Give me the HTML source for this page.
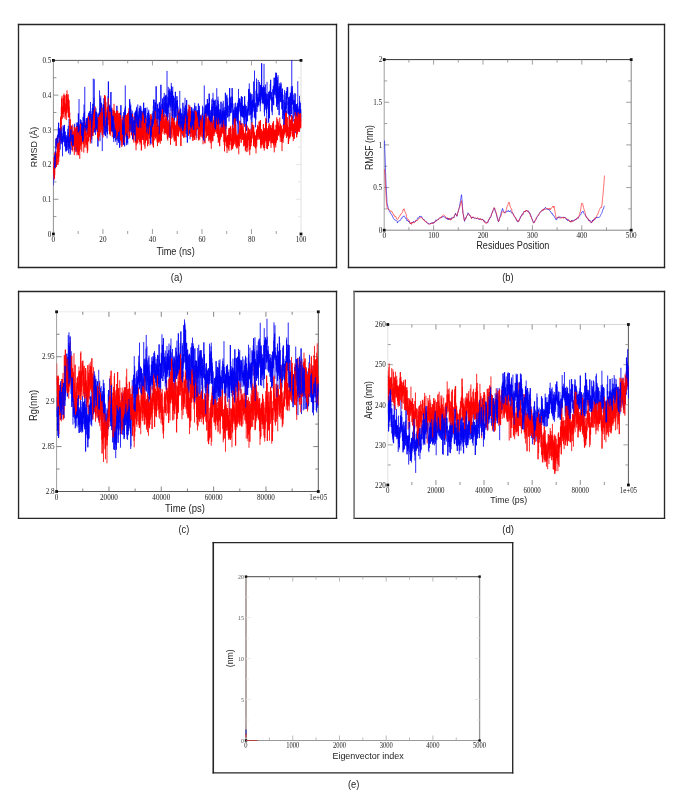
<!DOCTYPE html>
<html><head><meta charset="utf-8"><style>
html,body{margin:0;padding:0;background:#fff;}
svg{display:block;}
text{-webkit-font-smoothing:antialiased;}
</style></head><body>
<svg width="685" height="805" viewBox="0 0 685 805">
<rect width="685" height="805" fill="#fff"/>
<line x1="17.825" y1="24.5" x2="337.175" y2="24.5" stroke="#262626" stroke-width="1.35"/>
<line x1="17.825" y1="267.5" x2="337.175" y2="267.5" stroke="#262626" stroke-width="1.35"/>
<line x1="18.5" y1="23.825" x2="18.5" y2="268.175" stroke="#262626" stroke-width="1.35"/>
<line x1="336.5" y1="23.825" x2="336.5" y2="268.175" stroke="#262626" stroke-width="1.35"/>
<line x1="53.4" y1="60.4" x2="301.0" y2="60.4" stroke="#444" stroke-width="0.9"/>
<line x1="53.4" y1="60.4" x2="53.4" y2="234.0" stroke="#777" stroke-width="0.8"/>
<line x1="301.0" y1="60.4" x2="301.0" y2="234.0" stroke="#ccc" stroke-width="0.6"/>
<line x1="53.4" y1="216.64" x2="56.4" y2="216.64" stroke="#777" stroke-width="0.8"/>
<line x1="53.4" y1="199.28" x2="58.4" y2="199.28" stroke="#777" stroke-width="0.8"/>
<line x1="53.4" y1="181.92" x2="56.4" y2="181.92" stroke="#777" stroke-width="0.8"/>
<line x1="53.4" y1="164.56" x2="58.4" y2="164.56" stroke="#777" stroke-width="0.8"/>
<line x1="53.4" y1="147.2" x2="56.4" y2="147.2" stroke="#777" stroke-width="0.8"/>
<line x1="53.4" y1="129.84" x2="58.4" y2="129.84" stroke="#777" stroke-width="0.8"/>
<line x1="53.4" y1="112.47999999999999" x2="56.4" y2="112.47999999999999" stroke="#777" stroke-width="0.8"/>
<line x1="53.4" y1="95.12" x2="58.4" y2="95.12" stroke="#777" stroke-width="0.8"/>
<line x1="53.4" y1="77.75999999999999" x2="56.4" y2="77.75999999999999" stroke="#777" stroke-width="0.8"/>
<line x1="301.0" y1="216.64" x2="298.0" y2="216.64" stroke="#e0e0e0" stroke-width="0.8"/>
<line x1="301.0" y1="199.28" x2="296.0" y2="199.28" stroke="#e0e0e0" stroke-width="0.8"/>
<line x1="301.0" y1="181.92" x2="298.0" y2="181.92" stroke="#e0e0e0" stroke-width="0.8"/>
<line x1="301.0" y1="164.56" x2="296.0" y2="164.56" stroke="#e0e0e0" stroke-width="0.8"/>
<line x1="301.0" y1="147.2" x2="298.0" y2="147.2" stroke="#e0e0e0" stroke-width="0.8"/>
<line x1="301.0" y1="129.84" x2="296.0" y2="129.84" stroke="#e0e0e0" stroke-width="0.8"/>
<line x1="301.0" y1="112.47999999999999" x2="298.0" y2="112.47999999999999" stroke="#e0e0e0" stroke-width="0.8"/>
<line x1="301.0" y1="95.12" x2="296.0" y2="95.12" stroke="#e0e0e0" stroke-width="0.8"/>
<line x1="301.0" y1="77.75999999999999" x2="298.0" y2="77.75999999999999" stroke="#e0e0e0" stroke-width="0.8"/>
<line x1="78.16" y1="234.0" x2="78.16" y2="231.0" stroke="#888" stroke-width="0.8"/>
<line x1="78.16" y1="60.4" x2="78.16" y2="63.4" stroke="#888" stroke-width="0.8"/>
<line x1="102.92" y1="234.0" x2="102.92" y2="229.0" stroke="#888" stroke-width="0.8"/>
<line x1="102.92" y1="60.4" x2="102.92" y2="65.4" stroke="#888" stroke-width="0.8"/>
<line x1="127.68" y1="234.0" x2="127.68" y2="231.0" stroke="#888" stroke-width="0.8"/>
<line x1="127.68" y1="60.4" x2="127.68" y2="63.4" stroke="#888" stroke-width="0.8"/>
<line x1="152.44" y1="234.0" x2="152.44" y2="229.0" stroke="#888" stroke-width="0.8"/>
<line x1="152.44" y1="60.4" x2="152.44" y2="65.4" stroke="#888" stroke-width="0.8"/>
<line x1="177.2" y1="234.0" x2="177.2" y2="231.0" stroke="#888" stroke-width="0.8"/>
<line x1="177.2" y1="60.4" x2="177.2" y2="63.4" stroke="#888" stroke-width="0.8"/>
<line x1="201.96" y1="234.0" x2="201.96" y2="229.0" stroke="#888" stroke-width="0.8"/>
<line x1="201.96" y1="60.4" x2="201.96" y2="65.4" stroke="#888" stroke-width="0.8"/>
<line x1="226.72" y1="234.0" x2="226.72" y2="231.0" stroke="#888" stroke-width="0.8"/>
<line x1="226.72" y1="60.4" x2="226.72" y2="63.4" stroke="#888" stroke-width="0.8"/>
<line x1="251.48000000000002" y1="234.0" x2="251.48000000000002" y2="229.0" stroke="#888" stroke-width="0.8"/>
<line x1="251.48000000000002" y1="60.4" x2="251.48000000000002" y2="65.4" stroke="#888" stroke-width="0.8"/>
<line x1="276.24" y1="234.0" x2="276.24" y2="231.0" stroke="#888" stroke-width="0.8"/>
<line x1="276.24" y1="60.4" x2="276.24" y2="63.4" stroke="#888" stroke-width="0.8"/>
<rect x="52.00" y="59.00" width="2.8" height="2.8" fill="#111"/>
<rect x="299.60" y="59.00" width="2.8" height="2.8" fill="#111"/>
<rect x="52.00" y="232.60" width="2.8" height="2.8" fill="#111"/>
<rect x="299.60" y="232.60" width="2.8" height="2.8" fill="#111"/>
<line x1="347.825" y1="24.5" x2="665.175" y2="24.5" stroke="#262626" stroke-width="1.35"/>
<line x1="347.825" y1="267.5" x2="665.175" y2="267.5" stroke="#262626" stroke-width="1.35"/>
<line x1="348.5" y1="23.825" x2="348.5" y2="268.175" stroke="#262626" stroke-width="1.35"/>
<line x1="664.5" y1="23.825" x2="664.5" y2="268.175" stroke="#262626" stroke-width="1.35"/>
<line x1="384.2" y1="59.6" x2="631.2" y2="59.6" stroke="#333" stroke-width="1.0"/>
<line x1="384.2" y1="59.6" x2="384.2" y2="230.2" stroke="#888" stroke-width="0.8"/>
<line x1="631.2" y1="59.6" x2="631.2" y2="230.2" stroke="#666" stroke-width="0.8"/>
<line x1="384.2" y1="230.2" x2="631.2" y2="230.2" stroke="#666" stroke-width="0.8"/>
<line x1="384.2" y1="208.875" x2="387.2" y2="208.875" stroke="#888" stroke-width="0.8"/>
<line x1="631.2" y1="208.875" x2="628.2" y2="208.875" stroke="#888" stroke-width="0.8"/>
<line x1="384.2" y1="187.54999999999998" x2="389.2" y2="187.54999999999998" stroke="#888" stroke-width="0.8"/>
<line x1="631.2" y1="187.54999999999998" x2="626.2" y2="187.54999999999998" stroke="#888" stroke-width="0.8"/>
<line x1="384.2" y1="166.225" x2="387.2" y2="166.225" stroke="#888" stroke-width="0.8"/>
<line x1="631.2" y1="166.225" x2="628.2" y2="166.225" stroke="#888" stroke-width="0.8"/>
<line x1="384.2" y1="144.89999999999998" x2="389.2" y2="144.89999999999998" stroke="#888" stroke-width="0.8"/>
<line x1="631.2" y1="144.89999999999998" x2="626.2" y2="144.89999999999998" stroke="#888" stroke-width="0.8"/>
<line x1="384.2" y1="123.57499999999999" x2="387.2" y2="123.57499999999999" stroke="#888" stroke-width="0.8"/>
<line x1="631.2" y1="123.57499999999999" x2="628.2" y2="123.57499999999999" stroke="#888" stroke-width="0.8"/>
<line x1="384.2" y1="102.25" x2="389.2" y2="102.25" stroke="#888" stroke-width="0.8"/>
<line x1="631.2" y1="102.25" x2="626.2" y2="102.25" stroke="#888" stroke-width="0.8"/>
<line x1="384.2" y1="80.92499999999998" x2="387.2" y2="80.92499999999998" stroke="#888" stroke-width="0.8"/>
<line x1="631.2" y1="80.92499999999998" x2="628.2" y2="80.92499999999998" stroke="#888" stroke-width="0.8"/>
<line x1="408.9" y1="230.2" x2="408.9" y2="227.2" stroke="#888" stroke-width="0.8"/>
<line x1="408.9" y1="59.6" x2="408.9" y2="62.6" stroke="#888" stroke-width="0.8"/>
<line x1="433.6" y1="230.2" x2="433.6" y2="225.2" stroke="#888" stroke-width="0.8"/>
<line x1="433.6" y1="59.6" x2="433.6" y2="64.6" stroke="#888" stroke-width="0.8"/>
<line x1="458.3" y1="230.2" x2="458.3" y2="227.2" stroke="#888" stroke-width="0.8"/>
<line x1="458.3" y1="59.6" x2="458.3" y2="62.6" stroke="#888" stroke-width="0.8"/>
<line x1="483.0" y1="230.2" x2="483.0" y2="225.2" stroke="#888" stroke-width="0.8"/>
<line x1="483.0" y1="59.6" x2="483.0" y2="64.6" stroke="#888" stroke-width="0.8"/>
<line x1="507.70000000000005" y1="230.2" x2="507.70000000000005" y2="227.2" stroke="#888" stroke-width="0.8"/>
<line x1="507.70000000000005" y1="59.6" x2="507.70000000000005" y2="62.6" stroke="#888" stroke-width="0.8"/>
<line x1="532.4" y1="230.2" x2="532.4" y2="225.2" stroke="#888" stroke-width="0.8"/>
<line x1="532.4" y1="59.6" x2="532.4" y2="64.6" stroke="#888" stroke-width="0.8"/>
<line x1="557.1" y1="230.2" x2="557.1" y2="227.2" stroke="#888" stroke-width="0.8"/>
<line x1="557.1" y1="59.6" x2="557.1" y2="62.6" stroke="#888" stroke-width="0.8"/>
<line x1="581.8000000000001" y1="230.2" x2="581.8000000000001" y2="225.2" stroke="#888" stroke-width="0.8"/>
<line x1="581.8000000000001" y1="59.6" x2="581.8000000000001" y2="64.6" stroke="#888" stroke-width="0.8"/>
<line x1="606.5" y1="230.2" x2="606.5" y2="227.2" stroke="#888" stroke-width="0.8"/>
<line x1="606.5" y1="59.6" x2="606.5" y2="62.6" stroke="#888" stroke-width="0.8"/>
<rect x="382.80" y="58.20" width="2.8" height="2.8" fill="#111"/>
<rect x="629.80" y="58.20" width="2.8" height="2.8" fill="#111"/>
<rect x="382.80" y="228.80" width="2.8" height="2.8" fill="#111"/>
<rect x="629.80" y="228.80" width="2.8" height="2.8" fill="#111"/>
<line x1="17.875" y1="291.45" x2="337.175" y2="291.45" stroke="#262626" stroke-width="1.35"/>
<line x1="17.875" y1="518.3" x2="337.175" y2="518.3" stroke="#262626" stroke-width="1.35"/>
<line x1="18.55" y1="290.775" x2="18.55" y2="518.9749999999999" stroke="#262626" stroke-width="1.35"/>
<line x1="336.5" y1="290.775" x2="336.5" y2="518.9749999999999" stroke="#262626" stroke-width="1.35"/>
<line x1="56.6" y1="311.8" x2="318.3" y2="311.8" stroke="#ddd" stroke-width="0.6"/>
<line x1="56.6" y1="311.8" x2="56.6" y2="491.5" stroke="#888" stroke-width="0.8"/>
<line x1="318.3" y1="311.8" x2="318.3" y2="491.5" stroke="#444" stroke-width="0.9"/>
<line x1="56.6" y1="491.5" x2="318.3" y2="491.5" stroke="#444" stroke-width="0.9"/>
<line x1="56.6" y1="469.0374999999997" x2="59.6" y2="469.0374999999997" stroke="#666" stroke-width="0.8"/>
<line x1="318.3" y1="469.0374999999997" x2="315.3" y2="469.0374999999997" stroke="#666" stroke-width="0.8"/>
<line x1="56.6" y1="446.57499999999976" x2="61.6" y2="446.57499999999976" stroke="#666" stroke-width="0.8"/>
<line x1="318.3" y1="446.57499999999976" x2="313.3" y2="446.57499999999976" stroke="#666" stroke-width="0.8"/>
<line x1="56.6" y1="424.11249999999984" x2="59.6" y2="424.11249999999984" stroke="#666" stroke-width="0.8"/>
<line x1="318.3" y1="424.11249999999984" x2="315.3" y2="424.11249999999984" stroke="#666" stroke-width="0.8"/>
<line x1="56.6" y1="401.6499999999999" x2="61.6" y2="401.6499999999999" stroke="#666" stroke-width="0.8"/>
<line x1="318.3" y1="401.6499999999999" x2="313.3" y2="401.6499999999999" stroke="#666" stroke-width="0.8"/>
<line x1="56.6" y1="379.1875" x2="59.6" y2="379.1875" stroke="#666" stroke-width="0.8"/>
<line x1="318.3" y1="379.1875" x2="315.3" y2="379.1875" stroke="#666" stroke-width="0.8"/>
<line x1="56.6" y1="356.7250000000001" x2="61.6" y2="356.7250000000001" stroke="#666" stroke-width="0.8"/>
<line x1="318.3" y1="356.7250000000001" x2="313.3" y2="356.7250000000001" stroke="#666" stroke-width="0.8"/>
<line x1="56.6" y1="334.26250000000016" x2="59.6" y2="334.26250000000016" stroke="#666" stroke-width="0.8"/>
<line x1="318.3" y1="334.26250000000016" x2="315.3" y2="334.26250000000016" stroke="#666" stroke-width="0.8"/>
<line x1="82.77000000000001" y1="491.5" x2="82.77000000000001" y2="488.5" stroke="#666" stroke-width="0.8"/>
<line x1="82.77000000000001" y1="311.8" x2="82.77000000000001" y2="314.8" stroke="#666" stroke-width="0.8"/>
<line x1="108.94" y1="491.5" x2="108.94" y2="486.5" stroke="#666" stroke-width="0.8"/>
<line x1="108.94" y1="311.8" x2="108.94" y2="316.8" stroke="#666" stroke-width="0.8"/>
<line x1="135.10999999999999" y1="491.5" x2="135.10999999999999" y2="488.5" stroke="#666" stroke-width="0.8"/>
<line x1="135.10999999999999" y1="311.8" x2="135.10999999999999" y2="314.8" stroke="#666" stroke-width="0.8"/>
<line x1="161.28" y1="491.5" x2="161.28" y2="486.5" stroke="#666" stroke-width="0.8"/>
<line x1="161.28" y1="311.8" x2="161.28" y2="316.8" stroke="#666" stroke-width="0.8"/>
<line x1="187.45" y1="491.5" x2="187.45" y2="488.5" stroke="#666" stroke-width="0.8"/>
<line x1="187.45" y1="311.8" x2="187.45" y2="314.8" stroke="#666" stroke-width="0.8"/>
<line x1="213.61999999999998" y1="491.5" x2="213.61999999999998" y2="486.5" stroke="#666" stroke-width="0.8"/>
<line x1="213.61999999999998" y1="311.8" x2="213.61999999999998" y2="316.8" stroke="#666" stroke-width="0.8"/>
<line x1="239.78999999999996" y1="491.5" x2="239.78999999999996" y2="488.5" stroke="#666" stroke-width="0.8"/>
<line x1="239.78999999999996" y1="311.8" x2="239.78999999999996" y2="314.8" stroke="#666" stroke-width="0.8"/>
<line x1="265.96000000000004" y1="491.5" x2="265.96000000000004" y2="486.5" stroke="#666" stroke-width="0.8"/>
<line x1="265.96000000000004" y1="311.8" x2="265.96000000000004" y2="316.8" stroke="#666" stroke-width="0.8"/>
<line x1="292.13" y1="491.5" x2="292.13" y2="488.5" stroke="#666" stroke-width="0.8"/>
<line x1="292.13" y1="311.8" x2="292.13" y2="314.8" stroke="#666" stroke-width="0.8"/>
<rect x="55.20" y="310.40" width="2.8" height="2.8" fill="#111"/>
<rect x="316.90" y="310.40" width="2.8" height="2.8" fill="#111"/>
<rect x="55.20" y="490.10" width="2.8" height="2.8" fill="#111"/>
<rect x="316.90" y="490.10" width="2.8" height="2.8" fill="#111"/>
<line x1="353.425" y1="291.5" x2="665.175" y2="291.5" stroke="#262626" stroke-width="1.35"/>
<line x1="353.425" y1="518.3" x2="665.175" y2="518.3" stroke="#262626" stroke-width="1.35"/>
<line x1="354.1" y1="290.825" x2="354.1" y2="518.9749999999999" stroke="#6a6a6a" stroke-width="1.5"/>
<line x1="664.5" y1="290.825" x2="664.5" y2="518.9749999999999" stroke="#262626" stroke-width="1.35"/>
<line x1="387.8" y1="324.5" x2="628.4" y2="324.5" stroke="#bbb" stroke-width="0.6"/>
<line x1="387.8" y1="324.5" x2="387.8" y2="485.0" stroke="#ccc" stroke-width="0.6"/>
<line x1="628.4" y1="324.5" x2="628.4" y2="485.0" stroke="#444" stroke-width="0.9"/>
<line x1="387.8" y1="464.9375" x2="390.8" y2="464.9375" stroke="#888" stroke-width="0.8"/>
<line x1="628.4" y1="464.9375" x2="625.4" y2="464.9375" stroke="#888" stroke-width="0.8"/>
<line x1="387.8" y1="444.875" x2="392.8" y2="444.875" stroke="#888" stroke-width="0.8"/>
<line x1="628.4" y1="444.875" x2="623.4" y2="444.875" stroke="#888" stroke-width="0.8"/>
<line x1="387.8" y1="424.8125" x2="390.8" y2="424.8125" stroke="#888" stroke-width="0.8"/>
<line x1="628.4" y1="424.8125" x2="625.4" y2="424.8125" stroke="#888" stroke-width="0.8"/>
<line x1="387.8" y1="404.75" x2="392.8" y2="404.75" stroke="#888" stroke-width="0.8"/>
<line x1="628.4" y1="404.75" x2="623.4" y2="404.75" stroke="#888" stroke-width="0.8"/>
<line x1="387.8" y1="384.6875" x2="390.8" y2="384.6875" stroke="#888" stroke-width="0.8"/>
<line x1="628.4" y1="384.6875" x2="625.4" y2="384.6875" stroke="#888" stroke-width="0.8"/>
<line x1="387.8" y1="364.625" x2="392.8" y2="364.625" stroke="#888" stroke-width="0.8"/>
<line x1="628.4" y1="364.625" x2="623.4" y2="364.625" stroke="#888" stroke-width="0.8"/>
<line x1="387.8" y1="344.5625" x2="390.8" y2="344.5625" stroke="#888" stroke-width="0.8"/>
<line x1="628.4" y1="344.5625" x2="625.4" y2="344.5625" stroke="#888" stroke-width="0.8"/>
<line x1="411.86" y1="485.0" x2="411.86" y2="482.0" stroke="#777" stroke-width="0.8"/>
<line x1="411.86" y1="324.5" x2="411.86" y2="327.5" stroke="#777" stroke-width="0.8"/>
<line x1="435.92" y1="485.0" x2="435.92" y2="480.0" stroke="#777" stroke-width="0.8"/>
<line x1="435.92" y1="324.5" x2="435.92" y2="329.5" stroke="#777" stroke-width="0.8"/>
<line x1="459.98" y1="485.0" x2="459.98" y2="482.0" stroke="#777" stroke-width="0.8"/>
<line x1="459.98" y1="324.5" x2="459.98" y2="327.5" stroke="#777" stroke-width="0.8"/>
<line x1="484.04" y1="485.0" x2="484.04" y2="480.0" stroke="#777" stroke-width="0.8"/>
<line x1="484.04" y1="324.5" x2="484.04" y2="329.5" stroke="#777" stroke-width="0.8"/>
<line x1="508.1" y1="485.0" x2="508.1" y2="482.0" stroke="#777" stroke-width="0.8"/>
<line x1="508.1" y1="324.5" x2="508.1" y2="327.5" stroke="#777" stroke-width="0.8"/>
<line x1="532.16" y1="485.0" x2="532.16" y2="480.0" stroke="#777" stroke-width="0.8"/>
<line x1="532.16" y1="324.5" x2="532.16" y2="329.5" stroke="#777" stroke-width="0.8"/>
<line x1="556.22" y1="485.0" x2="556.22" y2="482.0" stroke="#777" stroke-width="0.8"/>
<line x1="556.22" y1="324.5" x2="556.22" y2="327.5" stroke="#777" stroke-width="0.8"/>
<line x1="580.28" y1="485.0" x2="580.28" y2="480.0" stroke="#777" stroke-width="0.8"/>
<line x1="580.28" y1="324.5" x2="580.28" y2="329.5" stroke="#777" stroke-width="0.8"/>
<line x1="604.3399999999999" y1="485.0" x2="604.3399999999999" y2="482.0" stroke="#777" stroke-width="0.8"/>
<line x1="604.3399999999999" y1="324.5" x2="604.3399999999999" y2="327.5" stroke="#777" stroke-width="0.8"/>
<rect x="386.40" y="323.10" width="2.8" height="2.8" fill="#111"/>
<rect x="627.00" y="323.10" width="2.8" height="2.8" fill="#111"/>
<rect x="386.40" y="483.60" width="2.8" height="2.8" fill="#111"/>
<rect x="627.00" y="483.60" width="2.8" height="2.8" fill="#111"/>
<line x1="212.575" y1="542.6" x2="513.375" y2="542.6" stroke="#262626" stroke-width="1.35"/>
<line x1="212.575" y1="772.8" x2="513.375" y2="772.8" stroke="#262626" stroke-width="1.35"/>
<line x1="213.25" y1="541.9250000000001" x2="213.25" y2="773.4749999999999" stroke="#262626" stroke-width="1.6"/>
<line x1="512.7" y1="541.9250000000001" x2="512.7" y2="773.4749999999999" stroke="#262626" stroke-width="1.35"/>
<line x1="246.0" y1="576.6" x2="479.6" y2="576.6" stroke="#6a6a6a" stroke-width="1.3"/>
<line x1="246.0" y1="576.6" x2="246.0" y2="740.5" stroke="#a09494" stroke-width="1.6"/>
<line x1="479.6" y1="576.6" x2="479.6" y2="740.5" stroke="#959595" stroke-width="1.3"/>
<line x1="246.0" y1="740.5" x2="479.6" y2="740.5" stroke="#999" stroke-width="1.0"/>
<line x1="246.0" y1="720.0125" x2="249.0" y2="720.0125" stroke="#e4e4e4" stroke-width="0.8"/>
<line x1="479.6" y1="720.0125" x2="476.6" y2="720.0125" stroke="#e4e4e4" stroke-width="0.8"/>
<line x1="246.0" y1="699.525" x2="251.0" y2="699.525" stroke="#e4e4e4" stroke-width="0.8"/>
<line x1="479.6" y1="699.525" x2="474.6" y2="699.525" stroke="#e4e4e4" stroke-width="0.8"/>
<line x1="246.0" y1="679.0375" x2="249.0" y2="679.0375" stroke="#e4e4e4" stroke-width="0.8"/>
<line x1="479.6" y1="679.0375" x2="476.6" y2="679.0375" stroke="#e4e4e4" stroke-width="0.8"/>
<line x1="246.0" y1="658.55" x2="251.0" y2="658.55" stroke="#e4e4e4" stroke-width="0.8"/>
<line x1="479.6" y1="658.55" x2="474.6" y2="658.55" stroke="#e4e4e4" stroke-width="0.8"/>
<line x1="246.0" y1="638.0625" x2="249.0" y2="638.0625" stroke="#e4e4e4" stroke-width="0.8"/>
<line x1="479.6" y1="638.0625" x2="476.6" y2="638.0625" stroke="#e4e4e4" stroke-width="0.8"/>
<line x1="246.0" y1="617.575" x2="251.0" y2="617.575" stroke="#e4e4e4" stroke-width="0.8"/>
<line x1="479.6" y1="617.575" x2="474.6" y2="617.575" stroke="#e4e4e4" stroke-width="0.8"/>
<line x1="246.0" y1="597.0875000000001" x2="249.0" y2="597.0875000000001" stroke="#e4e4e4" stroke-width="0.8"/>
<line x1="479.6" y1="597.0875000000001" x2="476.6" y2="597.0875000000001" stroke="#e4e4e4" stroke-width="0.8"/>
<line x1="269.36" y1="740.5" x2="269.36" y2="737.5" stroke="#aaa" stroke-width="0.8"/>
<line x1="269.36" y1="576.6" x2="269.36" y2="579.6" stroke="#aaa" stroke-width="0.8"/>
<line x1="292.72" y1="740.5" x2="292.72" y2="735.5" stroke="#aaa" stroke-width="0.8"/>
<line x1="292.72" y1="576.6" x2="292.72" y2="581.6" stroke="#aaa" stroke-width="0.8"/>
<line x1="316.08" y1="740.5" x2="316.08" y2="737.5" stroke="#aaa" stroke-width="0.8"/>
<line x1="316.08" y1="576.6" x2="316.08" y2="579.6" stroke="#aaa" stroke-width="0.8"/>
<line x1="339.44" y1="740.5" x2="339.44" y2="735.5" stroke="#aaa" stroke-width="0.8"/>
<line x1="339.44" y1="576.6" x2="339.44" y2="581.6" stroke="#aaa" stroke-width="0.8"/>
<line x1="362.8" y1="740.5" x2="362.8" y2="737.5" stroke="#aaa" stroke-width="0.8"/>
<line x1="362.8" y1="576.6" x2="362.8" y2="579.6" stroke="#aaa" stroke-width="0.8"/>
<line x1="386.15999999999997" y1="740.5" x2="386.15999999999997" y2="735.5" stroke="#aaa" stroke-width="0.8"/>
<line x1="386.15999999999997" y1="576.6" x2="386.15999999999997" y2="581.6" stroke="#aaa" stroke-width="0.8"/>
<line x1="409.52" y1="740.5" x2="409.52" y2="737.5" stroke="#aaa" stroke-width="0.8"/>
<line x1="409.52" y1="576.6" x2="409.52" y2="579.6" stroke="#aaa" stroke-width="0.8"/>
<line x1="432.88" y1="740.5" x2="432.88" y2="735.5" stroke="#aaa" stroke-width="0.8"/>
<line x1="432.88" y1="576.6" x2="432.88" y2="581.6" stroke="#aaa" stroke-width="0.8"/>
<line x1="456.24" y1="740.5" x2="456.24" y2="737.5" stroke="#aaa" stroke-width="0.8"/>
<line x1="456.24" y1="576.6" x2="456.24" y2="579.6" stroke="#aaa" stroke-width="0.8"/>
<rect x="244.80" y="575.40" width="2.4" height="2.4" fill="#111"/>
<rect x="478.40" y="575.40" width="2.4" height="2.4" fill="#111"/>
<rect x="244.80" y="739.30" width="2.4" height="2.4" fill="#111"/>
<rect x="478.40" y="739.30" width="2.4" height="2.4" fill="#111"/>
<clipPath id="clipA"><rect x="53.4" y="59.9" width="248.1" height="174.1"/></clipPath><g clip-path="url(#clipA)">
<path d="M53.52 177.4V185.4M53.77 173.1V180.6M54.02 170.2V176.9M54.27 162.2V172.7M55.52 152.2V167.5M55.77 138.6V153.2M56.02 138.6V149.2M56.27 142.0V144.7M56.52 138.0V146.2M56.77 138.0V146.9M57.02 145.2V147.1M57.27 135.9V147.1M58.52 122.7V137.1M58.77 122.7V135.6M59.02 133.9V146.2M59.27 132.7V138.4M60.52 130.0V136.2M60.77 133.2V136.5M61.02 133.2V144.2M61.27 126.6V143.7M61.52 126.6V141.7M61.77 134.5V141.7M62.02 133.0V139.7M62.27 135.6V144.2M63.52 128.3V137.4M63.77 126.2V138.7M64.03 127.0V140.0M64.28 125.1V142.8M65.53 136.7V148.4M65.78 139.2V151.2M66.03 135.2V151.8M66.28 135.2V150.5M66.53 138.6V150.4M66.78 139.7V150.4M67.03 137.0V147.4M67.28 136.9V150.3M68.53 136.8V153.3M68.78 135.1V143.2M69.03 118.9V145.3M69.28 133.3V148.7M69.53 141.5V148.7M69.78 125.9V142.5M70.03 139.5V155.0M70.28 139.4V153.5M71.53 125.7V134.8M71.78 129.8V150.0M72.03 126.2V134.6M72.28 134.6V144.3M73.53 132.7V145.7M73.78 136.0V143.4M74.03 135.7V138.3M74.28 126.6V137.4M74.53 123.8V144.4M74.78 141.7V150.4M75.03 136.1V149.9M75.28 137.8V142.9M75.53 134.1V141.5M75.78 130.1V140.2M76.03 130.1V151.7M76.28 122.5V151.7M76.53 139.1V143.2M76.78 126.2V140.9M77.03 126.2V141.3M77.28 126.2V131.7M77.53 122.3V131.7M77.78 124.2V137.1M78.03 123.9V137.1M78.28 113.4V132.4M78.53 113.4V146.7M78.78 124.9V132.8M79.03 99.1V135.6M79.28 126.4V135.6M79.53 130.7V136.2M79.78 125.4V137.9M80.03 124.0V137.9M80.28 119.0V139.2M80.53 126.8V136.4M80.78 120.0V129.5M81.03 120.0V133.9M81.28 122.1V139.8M83.53 123.7V130.0M83.78 113.2V132.1M84.03 104.5V120.9M84.28 116.8V129.0M85.53 124.9V129.6M85.78 125.1V136.3M86.03 121.7V136.1M86.28 118.3V130.5M86.53 118.3V130.1M86.78 125.8V129.8M87.03 118.2V129.2M87.28 125.2V135.0M87.53 117.8V135.0M87.78 117.8V125.2M88.03 117.4V128.3M88.28 115.0V127.3M88.53 112.8V120.1M88.78 115.6V132.4M89.03 120.3V126.3M89.28 117.0V125.6M89.53 111.3V124.7M89.78 111.3V130.7M90.03 113.8V125.4M90.28 120.5V133.4M90.53 102.0V131.1M90.78 126.3V132.6M91.03 119.7V132.6M91.28 120.8V132.4M92.53 107.9V118.0M92.78 103.8V127.2M93.03 103.8V123.7M93.28 78.6V120.7M93.53 120.7V127.7M93.78 108.1V132.1M94.03 97.7V132.8M94.28 79.2V121.8M94.53 121.8V132.1M94.78 115.6V123.2M95.03 114.4V120.8M95.28 117.0V122.2M97.53 121.3V132.1M97.78 119.6V146.5M98.03 114.2V146.5M98.28 120.9V126.1M98.53 118.1V122.6M98.78 112.6V121.7M99.03 113.9V131.6M99.28 122.2V131.6M99.53 90.4V126.8M99.78 113.2V124.9M100.03 107.8V141.3M100.28 107.8V119.3M100.53 98.1V122.8M100.78 95.6V115.4M101.03 106.6V119.7M101.28 102.8V116.5M101.53 102.8V116.2M101.78 104.8V129.3M102.03 114.7V129.3M102.28 107.6V151.1M102.53 112.0V125.9M102.78 112.0V128.1M103.03 112.5V124.5M103.28 104.0V123.7M104.53 114.7V127.4M104.78 105.0V127.4M105.03 115.3V133.7M105.28 124.0V136.1M105.53 119.9V136.1M105.78 119.9V128.9M106.03 115.8V126.9M106.28 119.8V125.2M107.53 113.7V134.2M107.78 106.9V113.7M108.03 96.2V118.2M108.28 81.5V118.2M108.53 81.5V120.7M108.78 108.9V117.0M109.03 104.7V120.0M109.28 104.7V113.3M109.53 106.6V124.7M109.78 114.3V118.6M110.03 105.8V116.3M110.28 109.1V114.7M110.53 112.4V119.1M110.78 92.0V115.8M111.03 92.0V122.8M111.28 109.3V131.3M113.53 116.2V139.0M113.78 128.3V142.1M114.03 122.5V133.7M114.28 119.9V138.0M114.53 130.8V138.0M114.78 124.4V136.1M115.03 127.3V136.1M115.28 131.2V136.1M115.53 122.4V141.7M115.78 122.4V136.3M116.03 126.5V140.1M116.28 133.9V139.1M116.53 129.9V134.7M116.78 105.8V132.8M117.03 105.8V145.1M117.28 125.8V140.5M117.53 131.2V136.4M117.78 131.2V138.6M118.03 125.2V137.3M118.28 122.6V141.4M118.53 122.6V142.9M118.78 120.1V132.4M119.03 126.5V131.7M119.28 118.5V128.6M119.53 118.5V147.7M119.78 120.4V147.7M120.03 121.4V127.8M120.28 112.8V123.2M120.53 112.8V133.8M120.78 105.2V129.8M121.03 105.2V145.2M121.28 123.6V139.2M121.53 123.3V139.3M121.78 124.5V142.5M122.03 124.5V141.4M122.28 127.7V141.4M124.53 109.9V146.3M124.78 130.0V146.3M125.03 107.7V133.3M125.28 85.4V133.3M125.53 105.8V131.2M125.78 122.3V131.2M126.03 118.9V126.4M126.28 125.4V136.8M126.53 126.3V145.2M126.78 117.8V137.3M127.03 117.8V143.0M127.28 131.2V136.7M127.53 136.0V143.0M127.78 131.1V144.6M128.03 117.9V131.6M128.28 117.8V131.6M128.53 112.2V122.2M128.78 114.2V125.1M129.03 110.6V117.6M129.28 114.8V119.7M131.53 112.9V125.6M131.78 114.1V128.5M132.03 117.0V130.0M132.28 110.7V130.0M133.53 121.7V125.1M133.78 121.7V130.9M134.03 120.8V130.9M134.28 113.2V129.3M135.53 111.9V123.0M135.78 110.6V120.3M136.03 111.1V130.2M136.28 109.4V130.2M139.53 108.1V131.4M139.78 113.9V117.0M140.03 105.7V116.1M140.28 105.7V120.3M141.53 118.5V126.3M141.78 110.9V127.9M142.03 110.9V123.8M142.28 118.7V123.8M142.53 115.9V138.3M142.78 111.6V138.3M143.03 111.6V126.3M143.28 109.1V124.7M143.53 102.7V129.1M143.78 102.7V131.4M144.03 108.9V124.1M144.28 111.2V127.4M144.53 111.2V129.9M144.78 108.1V114.4M145.03 108.1V124.8M145.28 110.2V127.6M145.53 107.8V122.9M145.78 117.1V121.0M146.03 115.6V122.1M146.28 122.1V125.5M149.53 117.6V125.3M149.78 119.1V128.6M150.03 119.1V138.8M150.28 122.3V133.8M151.53 118.5V134.9M151.78 121.2V126.4M152.03 122.1V127.4M152.28 113.1V127.4M153.53 99.6V107.7M153.78 99.6V123.7M154.03 112.6V122.3M154.28 107.4V113.0M154.53 112.2V124.8M154.78 99.7V120.9M155.03 102.5V117.0M155.28 102.4V118.9M155.53 102.4V108.8M155.78 104.6V119.9M156.03 86.3V112.3M156.28 86.3V121.5M156.53 120.6V131.0M156.78 120.1V131.0M157.03 108.3V120.1M157.28 113.5V123.6M159.53 102.3V132.9M159.78 105.7V115.1M160.03 105.2V120.4M160.28 111.0V115.5M160.53 106.5V122.4M160.78 84.8V122.4M161.03 84.8V130.1M161.28 115.9V124.3M161.53 116.3V123.7M161.78 103.9V118.5M162.03 108.2V119.7M162.28 103.8V119.7M162.53 98.5V116.6M162.78 98.5V113.6M163.03 102.5V108.9M163.28 108.9V127.4M163.53 106.3V127.4M163.78 96.8V111.8M164.03 96.8V107.6M164.28 93.0V111.1M164.53 109.5V111.3M164.78 102.6V116.9M165.03 97.3V112.8M165.28 96.2V100.7M166.53 103.2V114.7M166.78 108.2V120.1M167.03 70.9V120.4M167.28 96.6V120.4M167.53 103.4V119.5M167.78 109.1V124.1M168.03 103.0V117.4M168.28 86.8V113.8M171.53 86.1V101.8M171.78 86.7V116.3M172.03 95.5V108.3M172.28 91.1V106.4M173.53 95.6V106.6M173.78 96.1V110.8M174.03 106.9V115.7M174.28 107.6V120.6M174.53 97.8V120.6M174.78 104.3V117.8M175.03 106.8V117.8M175.28 91.8V117.4M175.53 91.8V115.5M175.78 100.8V115.9M176.03 100.8V108.2M176.28 103.1V108.4M176.53 100.8V106.8M176.78 96.2V126.2M177.03 96.2V116.5M177.28 103.4V109.3M177.53 100.1V111.1M177.78 108.1V121.4M178.03 106.5V121.4M178.28 112.8V119.9M179.53 111.3V116.6M179.78 90.9V116.5M180.03 110.4V131.6M180.28 110.4V124.4M181.53 113.5V123.4M181.78 114.9V123.4M182.03 112.8V125.6M182.28 117.5V136.2M184.53 113.6V123.9M184.78 108.1V120.7M185.03 97.7V120.7M185.28 111.6V116.7M185.53 104.8V122.2M185.78 105.7V133.8M186.03 107.4V133.8M186.28 107.4V129.3M187.53 116.2V142.6M187.78 114.6V124.8M188.03 111.7V123.1M188.28 112.5V128.8M188.53 109.9V122.0M188.78 109.9V126.2M189.03 110.8V126.2M189.28 110.8V126.2M189.53 118.9V133.8M189.78 105.4V133.8M190.03 119.5V139.3M190.28 119.9V134.2M194.53 105.3V125.0M194.78 102.8V115.6M195.03 115.6V129.5M195.28 116.7V131.3M195.53 119.2V131.3M195.78 106.3V130.4M196.03 106.3V127.6M196.28 120.0V129.6M196.53 121.1V129.7M196.78 118.3V137.9M197.03 110.3V129.7M197.28 110.3V129.4M197.53 121.4V126.0M197.78 110.7V126.0M198.03 111.8V119.4M198.28 103.6V123.0M199.53 105.9V127.6M199.78 115.2V127.5M200.03 121.0V125.8M200.28 115.4V129.5M200.53 115.4V128.0M200.78 115.9V128.0M201.03 120.3V127.8M201.28 118.7V124.2M201.53 118.6V129.5M201.78 115.8V120.3M202.03 114.4V125.6M202.28 113.4V131.4M202.53 105.7V123.1M202.78 113.2V121.3M203.03 107.4V137.6M203.28 118.5V128.8M204.53 121.0V132.7M204.78 111.5V125.4M205.03 108.2V120.4M205.28 105.7V121.9M205.53 105.7V125.1M205.78 106.4V122.0M206.03 104.7V122.9M206.28 103.9V122.6M206.53 105.4V116.4M206.78 105.4V113.5M207.03 107.8V113.3M207.28 99.1V116.7M207.53 99.1V115.2M207.78 104.1V114.0M208.03 104.1V114.6M208.28 103.2V113.9M208.53 103.2V133.5M208.78 105.7V124.4M209.03 93.6V113.6M209.28 93.6V124.5M209.53 97.7V125.2M209.78 112.9V138.9M210.03 112.9V125.2M210.28 116.3V124.7M210.53 116.3V123.1M210.78 110.3V130.1M211.03 110.3V118.5M211.28 109.7V119.8M211.53 106.5V122.6M211.78 99.4V124.4M212.03 104.1V127.2M212.28 110.5V127.2M212.53 106.1V118.1M212.78 98.1V115.4M213.03 92.8V102.3M213.28 100.3V115.9M213.53 100.3V105.0M213.78 103.8V110.4M214.03 100.7V115.8M214.28 104.8V115.7M218.53 104.0V126.6M218.78 104.2V126.6M219.03 111.1V120.3M219.28 112.6V119.4M219.53 112.6V123.7M219.78 109.3V124.2M220.03 109.3V131.3M220.28 114.0V124.5M220.53 109.7V120.7M220.78 101.6V121.7M221.03 110.2V123.3M221.28 101.9V123.3M223.53 111.7V134.1M223.78 111.9V120.5M224.03 110.1V117.1M224.28 110.1V115.4M224.53 112.0V127.9M224.78 106.9V119.7M225.03 116.5V130.7M225.28 92.8V120.1M225.53 92.8V135.3M225.78 111.1V119.2M226.03 111.0V128.9M226.28 110.2V126.5M226.53 95.4V110.9M226.78 108.4V115.2M227.03 94.6V115.2M227.28 101.8V110.0M228.53 111.2V112.5M228.78 112.5V116.4M229.03 114.4V121.5M229.28 106.9V116.0M229.53 88.1V110.4M229.78 88.1V116.3M230.03 103.6V111.6M230.28 97.2V110.6M231.53 102.9V107.3M231.78 105.2V112.1M232.03 88.1V107.2M232.28 88.1V109.5M232.53 96.9V107.7M232.78 107.7V133.8M233.03 109.4V133.8M233.28 110.5V124.5M233.53 110.5V121.5M233.78 109.9V121.5M234.03 103.4V111.0M234.28 109.9V116.8M234.53 113.0V129.7M234.78 107.1V121.5M235.03 115.9V125.7M235.28 107.4V125.7M235.53 102.7V130.7M235.78 109.1V130.7M236.03 108.4V121.2M236.28 108.6V121.2M236.53 108.6V117.5M236.78 106.4V114.5M237.03 106.4V116.2M237.28 103.6V119.0M237.53 106.1V122.7M237.78 102.9V124.2M238.03 102.9V134.3M238.28 100.5V134.3M238.53 88.9V112.0M238.78 100.1V113.9M239.03 100.3V105.4M239.28 105.1V111.6M239.53 98.2V105.9M239.78 98.9V106.9M240.03 98.5V108.6M240.28 101.8V110.1M242.53 105.1V116.7M242.78 106.0V116.7M243.03 106.0V117.9M243.28 106.5V118.0M245.53 106.5V114.7M245.78 108.2V124.1M246.03 105.8V119.9M246.28 114.9V131.0M246.53 112.5V131.0M246.78 105.9V114.1M247.03 109.7V114.6M247.28 109.4V121.3M247.53 110.5V121.3M247.78 107.8V116.1M248.03 102.1V114.3M248.28 99.9V111.7M248.53 89.3V110.1M248.78 89.3V110.7M249.03 88.7V115.5M249.28 83.4V115.5M249.53 98.2V103.3M249.78 93.9V105.3M250.03 92.7V109.4M250.28 92.7V114.7M250.53 95.0V114.7M250.78 95.0V106.0M251.03 103.2V119.5M251.28 107.8V130.8M251.53 100.4V114.2M251.78 93.9V114.0M252.03 93.9V122.6M252.28 99.8V117.6M252.53 99.8V112.5M252.78 103.4V107.7M253.03 100.8V107.7M253.28 96.4V111.5M253.53 81.5V107.0M253.78 99.6V107.5M254.03 99.6V109.8M254.28 108.8V117.5M255.53 105.2V127.4M255.78 102.5V106.2M256.02 91.1V119.6M256.27 89.2V99.8M257.52 93.7V105.3M257.77 97.6V106.3M258.02 97.6V107.2M258.27 80.0V105.0M258.52 97.1V105.0M258.77 96.8V103.5M259.02 92.5V100.4M259.27 94.0V101.6M259.52 82.0V101.6M259.77 93.4V97.3M260.02 90.1V105.8M260.27 85.0V111.4M261.52 63.3V96.5M261.77 63.3V97.2M262.02 87.2V98.8M262.27 87.2V102.6M262.52 89.7V103.2M262.77 87.0V98.9M263.02 88.4V104.3M263.27 88.4V96.5M263.52 85.5V103.3M263.77 93.6V103.3M264.02 63.8V103.8M264.27 103.8V112.5M264.52 87.3V116.3M264.77 87.3V110.2M265.02 93.1V105.5M265.27 92.1V102.5M265.52 84.4V105.7M265.77 103.0V108.6M266.02 99.4V110.0M266.27 99.4V106.6M267.52 99.7V104.8M267.77 93.8V106.7M268.02 94.0V101.4M268.27 100.0V104.5M268.52 92.0V122.6M268.77 96.1V122.6M269.02 97.7V118.4M269.27 91.2V118.1M269.52 94.1V118.1M269.77 90.8V97.1M270.02 90.8V98.3M270.27 84.1V97.2M270.52 79.7V90.3M270.77 79.9V99.7M271.02 92.2V99.7M271.27 97.1V101.3M271.52 92.0V102.6M271.77 102.6V110.7M272.02 102.8V112.3M272.27 97.3V115.2M272.52 97.2V103.1M272.77 89.3V100.6M273.02 89.4V103.3M273.27 85.6V94.2M273.52 87.1V105.2M273.77 89.4V105.2M274.02 77.7V92.0M274.27 77.7V89.1M274.52 85.3V94.4M274.77 83.1V87.9M275.02 77.9V95.3M275.27 83.5V95.3M277.52 79.8V104.3M277.77 77.1V109.8M278.02 75.2V109.8M278.27 88.4V102.4M279.52 87.2V97.5M279.77 86.3V97.5M280.02 89.6V102.1M280.27 84.5V102.1M280.52 85.9V100.6M280.77 82.3V91.3M281.02 89.9V102.0M281.27 83.4V102.0M281.52 92.3V96.6M281.77 92.2V109.3M282.02 95.0V109.3M282.27 88.6V102.6M282.52 88.6V119.1M282.77 99.2V109.7M283.02 94.7V108.0M283.27 100.0V111.0M284.52 90.2V115.7M284.77 101.6V123.5M285.02 107.2V125.7M285.27 102.6V125.7M285.52 108.7V121.0M285.77 92.9V108.7M286.02 96.8V108.9M286.27 91.1V108.8M288.52 97.3V114.5M288.77 97.3V109.6M289.02 103.1V119.4M289.27 97.9V112.9M289.52 96.4V118.6M289.77 100.5V118.6M290.02 102.8V111.7M290.27 92.7V108.4M291.52 88.7V114.2M291.77 51.0V96.8M292.02 90.4V101.0M292.27 96.0V104.7M294.52 100.1V115.2M294.77 103.4V112.0M295.02 104.2V116.5M295.27 104.4V124.7M295.52 93.5V119.9M295.77 109.7V133.1M296.02 112.6V133.1M296.27 104.1V131.6M296.52 104.1V114.6M296.77 107.0V125.8M297.02 107.2V123.5M297.27 107.2V117.7M297.52 103.1V116.2M297.77 81.2V116.2M298.02 109.8V120.2M298.27 112.0V120.5M298.52 108.9V122.7M298.77 116.1V131.1M299.02 106.2V116.1M299.27 106.2V123.4M299.52 95.9V123.4M299.77 100.9V111.5M300.02 102.9V119.8M300.27 102.9V116.5M300.52 111.5V120.9M300.77 109.3V122.2M301.02 109.3V118.1" fill="none" stroke="#0000f4" stroke-width="0.850" stroke-opacity="1.0"/>
<path d="M53.52 166.0V173.0M53.77 157.0V179.7M54.02 157.0V175.6M54.27 161.8V178.6M54.52 168.4V178.6M54.77 152.6V175.2M55.02 152.6V167.8M55.27 159.3V167.4M56.52 155.2V167.0M56.77 153.2V163.3M57.02 151.5V158.8M57.27 137.1V158.0M57.52 146.9V153.5M57.77 146.6V164.6M58.02 142.5V164.3M58.27 142.4V158.2M58.52 143.9V158.2M58.77 148.2V162.0M59.02 143.2V156.6M59.27 140.7V152.2M59.52 138.8V145.8M59.77 135.6V144.9M60.02 134.1V139.2M60.27 129.5V141.3M61.52 98.4V117.5M61.77 105.7V112.4M62.02 95.7V117.5M62.27 106.5V119.1M62.52 106.5V113.9M62.77 106.1V114.0M63.02 97.9V110.8M63.27 97.9V117.4M63.52 99.4V113.5M63.77 95.0V111.1M64.03 93.5V112.4M64.28 103.5V111.4M64.53 102.4V111.2M64.78 95.4V108.5M65.03 95.4V118.8M65.28 103.5V116.6M65.53 107.2V114.4M65.78 107.2V113.6M66.03 104.1V113.6M66.28 94.7V120.1M66.53 94.0V112.2M66.78 94.0V106.0M67.03 90.3V109.9M67.28 95.3V109.9M67.53 100.0V105.5M67.78 101.6V112.7M68.03 99.9V110.2M68.28 94.3V117.4M69.53 112.6V116.4M69.78 112.6V136.7M70.03 119.3V136.7M70.28 119.3V140.3M70.53 125.4V140.3M70.78 125.4V137.0M71.03 134.1V142.2M71.28 127.2V145.7M74.53 126.9V142.3M74.78 126.9V147.3M75.03 136.9V152.4M75.28 128.5V142.5M75.53 128.5V146.6M75.78 134.6V143.7M76.03 135.8V147.0M76.28 136.4V140.0M76.53 137.3V142.5M76.78 126.5V149.7M77.03 126.5V155.3M77.28 136.0V150.8M77.53 133.3V149.1M77.78 133.3V152.4M78.03 132.3V154.4M78.28 132.3V154.2M78.53 140.9V155.2M78.78 144.7V155.2M79.03 144.4V152.3M79.28 143.1V150.7M79.53 135.3V150.7M79.78 130.8V158.8M80.03 138.3V143.4M80.28 123.9V145.8M80.53 123.9V140.5M80.78 137.0V149.5M81.03 135.8V145.7M81.28 124.3V141.5M83.53 135.5V144.3M83.78 129.2V152.6M84.03 128.5V139.4M84.28 125.3V137.2M84.53 122.1V134.5M84.78 120.0V147.5M85.03 128.0V147.5M85.28 128.3V135.2M85.53 123.5V135.8M85.78 128.7V143.1M86.03 139.8V145.3M86.28 136.3V144.2M86.53 132.6V142.7M86.78 138.1V145.1M87.03 140.0V148.2M87.28 140.0V153.2M87.53 137.0V150.6M87.78 132.3V150.6M88.03 127.9V136.8M88.28 116.3V141.8M88.53 116.3V140.9M88.78 126.5V140.9M89.03 119.9V135.7M89.28 123.3V136.9M90.53 122.1V142.2M90.78 124.5V133.5M91.03 118.3V132.8M91.28 121.8V130.3M93.53 118.1V127.1M93.78 118.2V127.1M94.03 112.6V128.1M94.28 109.8V123.7M94.53 109.8V127.6M94.78 111.4V121.2M95.03 111.4V126.8M95.28 106.5V130.7M95.53 117.1V130.7M95.78 117.3V126.0M96.03 116.6V127.5M96.28 116.7V129.7M96.53 119.9V129.7M96.78 117.1V130.0M97.03 117.1V131.6M97.28 121.3V129.3M97.53 122.5V136.8M97.78 122.5V138.6M98.03 117.4V129.5M98.28 122.4V131.4M98.53 127.8V140.3M98.78 117.1V140.3M99.03 117.1V125.8M99.28 119.4V130.1M99.53 115.1V136.5M99.78 120.8V125.2M100.03 117.2V133.0M100.28 116.4V126.6M100.53 116.4V124.9M100.78 112.5V132.2M101.03 112.5V125.9M101.28 120.4V130.7M101.53 120.2V128.3M101.78 107.7V125.2M102.03 121.0V135.0M102.28 123.8V131.7M102.53 112.3V134.5M102.78 113.1V128.3M103.03 118.3V137.5M103.28 104.6V132.6M104.53 95.2V122.6M104.78 95.2V118.0M105.03 96.5V126.1M105.28 96.5V116.4M105.53 104.0V116.4M105.78 107.6V116.8M106.03 102.0V118.0M106.28 112.7V123.6M106.53 115.5V128.3M106.78 112.7V128.6M107.03 117.8V128.5M107.28 111.6V124.5M108.53 111.0V118.2M108.78 110.3V124.8M109.03 121.1V131.0M109.28 121.1V125.9M109.53 121.6V133.9M109.78 111.8V130.5M110.03 111.8V134.5M110.28 126.4V135.8M110.53 120.9V129.8M110.78 119.7V130.7M111.03 114.9V130.8M111.28 117.3V124.7M113.53 111.5V119.5M113.78 112.1V125.1M114.03 103.8V117.3M114.28 110.6V120.5M114.53 111.0V121.5M114.78 112.9V121.5M115.03 113.2V122.0M115.28 113.2V129.8M115.53 118.6V128.5M115.78 113.6V124.4M116.03 114.4V124.4M116.28 111.3V128.5M116.53 111.3V131.4M116.78 116.0V138.4M117.03 118.7V130.5M117.28 110.3V121.0M117.53 115.8V135.6M117.78 111.0V125.3M118.03 120.6V129.2M118.28 113.0V123.2M118.53 117.1V132.0M118.78 121.9V132.0M119.03 114.0V131.0M119.28 114.0V126.2M120.53 124.7V140.6M120.78 127.9V140.6M121.03 129.6V137.3M121.28 127.7V137.4M121.53 123.2V141.5M121.78 119.3V147.1M122.03 129.7V141.0M122.28 117.1V145.6M122.53 122.8V137.6M122.78 127.5V137.6M123.03 115.4V134.7M123.28 127.0V143.9M123.53 129.3V143.1M123.78 114.7V143.1M124.03 124.4V137.8M124.28 118.0V131.2M124.53 118.0V142.9M124.78 122.2V137.6M125.03 125.6V135.3M125.28 126.9V135.3M125.53 115.1V135.0M125.78 118.0V133.6M126.03 121.9V132.1M126.28 125.0V132.9M127.53 113.7V129.8M127.78 113.2V129.8M128.03 113.2V123.9M128.28 115.4V127.9M129.53 117.1V136.9M129.78 114.7V138.1M130.03 114.7V126.8M130.28 115.4V127.9M130.53 115.4V130.8M130.78 116.1V124.9M131.03 122.8V127.3M131.28 113.8V126.4M131.53 115.4V135.4M131.78 120.6V128.8M132.03 125.1V130.7M132.28 124.2V131.0M132.53 113.9V138.9M132.78 128.0V138.9M133.03 123.8V137.3M133.28 121.4V140.4M133.53 124.5V133.1M133.78 120.1V142.7M134.03 122.2V135.9M134.28 116.0V131.3M134.53 116.0V130.3M134.78 117.0V135.0M135.03 121.2V133.2M135.28 125.9V142.5M135.53 125.7V141.7M135.78 127.8V142.6M136.03 130.3V150.3M136.28 117.9V145.4M136.53 123.2V142.7M136.78 123.2V140.8M137.03 126.9V132.3M137.28 120.8V136.6M137.53 120.0V143.3M137.78 120.0V143.4M138.03 124.2V138.1M138.28 122.3V138.1M139.53 128.9V141.6M139.78 123.6V140.9M140.03 127.6V144.6M140.28 123.4V132.7M142.53 121.8V135.1M142.78 112.4V140.0M143.03 125.3V140.0M143.28 121.2V131.6M143.53 115.2V140.2M143.78 129.8V144.7M144.03 127.2V137.2M144.28 123.2V134.1M144.53 123.2V134.4M144.78 123.3V146.4M145.03 125.7V148.9M145.28 130.2V140.4M145.53 130.7V143.1M145.78 117.8V137.1M146.03 119.1V134.0M146.28 124.1V138.5M146.53 132.8V140.5M146.78 126.1V139.0M147.03 128.2V140.3M147.28 128.1V135.5M149.53 120.0V133.1M149.78 127.2V137.9M150.03 130.7V145.4M150.28 117.6V131.0M150.53 124.7V132.6M150.78 114.2V131.6M151.03 114.2V135.9M151.28 116.9V126.4M152.53 126.1V137.7M152.78 124.9V145.3M153.03 129.6V140.1M153.28 133.7V147.4M153.53 130.9V147.4M153.78 126.0V136.5M154.03 122.4V136.5M154.28 122.4V140.6M155.53 119.4V138.1M155.78 129.8V138.1M156.03 124.5V139.6M156.28 123.7V134.9M156.53 123.7V136.4M156.78 119.0V134.9M157.03 124.3V142.2M157.28 124.3V137.1M157.53 121.9V146.1M157.78 116.6V134.4M158.03 130.1V137.9M158.28 125.7V141.0M158.53 125.7V142.7M158.78 127.4V139.6M159.03 125.6V139.5M159.28 128.5V142.2M161.53 114.2V141.0M161.78 122.9V131.0M162.03 124.1V131.0M162.28 109.3V131.9M162.53 109.3V128.4M162.78 118.0V127.7M163.03 123.7V133.8M163.28 116.7V127.5M163.53 117.8V128.2M163.78 122.4V128.9M164.03 120.4V125.1M164.28 114.0V128.9M164.53 120.7V132.5M164.78 129.8V134.9M165.03 122.1V133.3M165.28 119.3V133.3M165.53 118.5V132.9M165.78 115.0V121.4M166.03 117.4V132.9M166.28 119.2V132.9M166.53 119.2V126.9M166.78 115.6V134.4M167.03 122.6V134.4M167.28 122.2V138.7M167.53 121.1V138.7M167.78 121.6V140.6M168.03 121.6V137.0M168.28 128.9V136.1M168.53 123.9V135.3M168.78 119.7V133.6M169.03 126.1V137.6M169.28 123.6V137.6M169.53 122.1V135.0M169.78 113.0V130.7M170.03 126.1V130.7M170.28 126.1V134.3M170.53 133.9V144.8M170.78 126.6V137.5M171.03 122.6V133.3M171.28 125.1V138.8M171.53 121.6V134.5M171.78 116.5V124.6M172.03 116.5V124.5M172.28 107.7V128.5M172.53 116.6V128.5M172.78 117.7V137.5M173.03 120.6V126.7M173.28 117.9V131.5M175.53 125.6V140.4M175.78 125.3V131.8M176.03 125.5V145.9M176.28 121.2V145.9M176.53 126.6V132.0M176.78 128.0V134.9M177.03 121.4V135.8M177.28 123.6V135.8M179.53 118.5V130.1M179.78 118.1V128.1M180.03 118.6V130.1M180.28 116.2V127.1M180.53 116.2V131.2M180.78 118.1V146.1M181.03 133.0V145.8M181.28 118.8V133.0M183.53 122.7V137.1M183.78 122.0V138.0M184.03 123.0V132.0M184.28 119.4V130.6M184.53 123.4V128.9M184.78 125.2V137.3M185.03 120.9V137.3M185.28 120.1V127.0M185.53 118.1V125.4M185.78 123.0V130.0M186.03 115.6V123.3M186.28 117.7V126.0M186.53 116.4V130.4M186.78 117.1V129.1M187.03 122.7V131.2M187.28 121.0V128.9M187.53 113.0V126.7M187.78 120.1V129.0M188.03 109.1V127.9M188.28 117.3V135.8M188.53 117.9V135.8M188.78 104.5V121.8M189.03 117.9V127.6M189.28 115.8V129.0M189.53 120.8V129.8M189.78 106.7V128.8M190.03 106.7V124.5M190.28 111.1V124.7M190.53 114.8V128.1M190.78 117.7V136.9M191.03 111.3V136.9M191.28 111.1V125.6M191.53 111.1V133.5M191.78 116.0V132.1M192.03 117.9V136.6M192.28 123.3V129.2M192.53 123.6V137.1M192.78 129.4V140.8M193.03 124.9V140.8M193.28 127.9V137.5M194.53 120.9V139.8M194.78 127.0V131.9M195.03 125.5V131.7M195.28 120.8V133.6M196.53 111.8V128.3M196.78 117.5V126.6M197.03 118.7V126.6M197.28 120.9V127.5M198.53 127.0V139.7M198.78 127.2V140.6M199.03 124.7V139.6M199.28 121.2V134.7M199.53 114.4V134.0M199.78 114.4V139.4M200.03 123.7V134.9M200.28 125.8V134.5M200.53 120.4V133.6M200.78 124.3V136.7M201.03 125.0V132.0M201.28 123.0V136.5M201.53 122.3V127.7M201.78 118.6V130.9M202.03 125.5V132.1M202.28 125.1V138.2M202.53 115.4V132.6M202.78 127.2V136.0M203.03 124.0V144.3M203.28 124.0V132.4M203.53 120.4V132.4M203.78 120.1V133.7M204.03 120.1V135.1M204.28 130.3V136.9M205.53 125.3V128.7M205.78 113.6V129.3M206.03 126.0V129.3M206.28 117.1V137.6M207.53 127.1V135.9M207.78 118.4V130.3M208.03 116.2V132.6M208.28 120.1V135.2M208.53 118.0V135.2M208.78 129.2V141.3M209.03 124.0V140.0M209.28 121.4V128.8M209.53 120.4V135.1M209.78 130.5V137.9M210.03 121.9V140.6M210.28 127.8V143.2M210.53 127.8V140.2M210.78 127.2V138.6M211.03 122.3V136.0M211.28 121.5V148.8M211.53 130.1V138.2M211.78 130.9V142.5M212.03 128.6V139.6M212.28 126.1V130.4M213.53 120.9V131.8M213.78 122.7V136.0M214.03 116.2V136.0M214.28 118.1V133.5M214.53 124.7V133.5M214.78 111.9V128.3M215.03 111.9V131.0M215.28 119.0V132.1M217.53 127.8V134.0M217.78 119.6V137.4M218.03 121.3V137.4M218.28 128.2V142.9M218.53 118.2V140.5M218.78 123.0V134.7M219.03 127.0V142.3M219.28 131.6V137.5M219.53 132.2V146.2M219.78 131.9V146.2M220.03 129.2V140.2M220.28 129.8V138.9M221.53 124.4V128.7M221.78 124.7V134.4M222.03 122.6V127.9M222.28 120.5V133.2M222.53 111.9V133.2M222.78 124.3V132.8M223.03 124.9V133.1M223.28 121.4V132.6M223.53 119.9V133.4M223.78 123.0V141.9M224.03 125.4V132.7M224.28 129.7V145.0M224.53 126.9V151.5M224.78 134.5V142.5M225.03 129.8V142.1M225.28 138.0V141.4M226.53 136.7V143.8M226.78 142.0V147.7M227.03 141.9V153.0M227.28 136.1V147.3M227.53 135.2V146.6M227.78 135.2V144.3M228.03 135.8V144.3M228.28 137.1V149.7M228.53 134.7V143.7M228.78 129.5V148.3M229.03 128.0V151.1M229.28 128.0V139.4M229.53 135.4V144.6M229.78 132.1V145.0M230.03 127.7V145.0M230.28 127.7V141.3M231.53 138.1V147.7M231.78 133.9V144.3M232.03 136.7V149.1M232.28 135.8V149.1M232.53 124.9V148.6M232.78 134.2V148.6M233.03 133.2V146.3M233.28 128.1V145.5M233.53 134.5V145.5M233.78 129.0V139.3M234.03 127.9V143.5M234.28 119.4V143.5M234.53 124.0V141.0M234.78 118.4V134.8M235.03 118.4V144.6M235.28 125.9V139.6M235.53 125.9V140.4M235.78 124.5V146.6M236.03 130.4V142.9M236.28 133.6V140.9M237.53 135.2V145.3M237.78 134.4V144.0M238.03 134.8V146.5M238.28 134.8V143.2M238.53 134.3V144.0M238.78 133.1V154.3M239.03 133.6V146.2M239.28 129.6V146.2M239.53 135.0V139.0M239.78 120.8V137.4M240.03 120.8V138.4M240.28 128.2V134.5M240.53 129.4V139.0M240.78 122.7V139.0M241.03 124.8V142.7M241.28 126.9V142.7M241.53 124.2V134.6M241.78 123.1V134.7M242.03 123.1V133.8M242.28 126.2V139.8M242.53 128.1V139.6M242.78 128.6V139.6M243.03 133.7V139.6M243.28 124.0V139.7M243.53 129.9V139.8M243.78 131.3V146.4M244.03 137.3V145.7M244.28 136.1V145.7M244.53 133.4V144.5M244.78 134.7V143.7M245.03 132.9V141.0M245.28 141.0V150.6M246.53 135.8V147.2M246.78 133.4V147.2M247.03 136.7V147.9M247.28 125.6V147.9M247.53 132.9V142.7M247.78 135.6V151.7M248.03 132.0V139.0M248.28 136.2V139.8M248.53 127.7V140.1M248.78 131.4V139.1M249.03 135.9V145.9M249.28 132.0V150.3M249.53 129.4V143.2M249.78 129.4V155.2M250.03 136.3V141.8M250.28 135.4V149.6M251.53 130.4V142.8M251.78 130.4V137.4M252.03 122.1V134.8M252.28 124.5V138.8M253.53 127.0V146.0M253.78 125.0V146.0M254.03 131.4V141.9M254.28 133.0V147.0M254.53 132.5V142.6M254.78 135.8V143.4M255.03 139.2V143.7M255.28 138.6V148.1M256.52 130.5V141.3M256.77 129.2V146.7M257.02 130.1V138.8M257.27 131.1V136.8M260.52 120.2V144.7M260.77 129.0V148.1M261.02 129.1V148.4M261.27 129.1V145.1M261.52 135.3V141.0M261.77 130.8V145.4M262.02 138.6V143.6M262.27 134.1V144.7M262.52 130.8V138.0M262.77 132.9V140.3M263.02 138.8V142.8M263.27 124.1V147.3M264.52 131.1V142.2M264.77 128.4V148.0M265.02 128.4V142.9M265.27 130.7V139.4M265.52 121.8V140.8M265.77 117.8V140.8M266.02 124.6V137.6M266.27 119.1V131.0M267.52 134.3V149.2M267.77 130.5V142.1M268.02 130.5V138.2M268.27 132.1V139.1M270.52 125.1V136.8M270.77 134.7V139.8M271.02 128.2V147.9M271.27 128.2V138.6M273.52 121.3V144.8M273.77 125.4V142.9M274.02 130.6V147.6M274.27 130.6V152.4M275.52 129.7V145.0M275.77 131.4V147.5M276.02 124.8V131.4M276.27 124.8V142.9M276.52 125.8V141.2M276.77 117.2V135.1M277.02 127.7V135.6M277.27 121.1V130.1M277.52 123.3V140.2M277.77 119.1V131.2M278.02 121.3V130.7M278.27 122.6V132.7M278.52 125.9V135.8M278.77 125.9V135.0M279.02 125.6V132.2M279.27 126.1V134.3M279.52 127.6V131.6M279.77 117.5V129.7M280.02 127.7V136.9M280.27 125.4V141.9M280.52 123.7V134.1M280.77 125.3V138.1M281.02 125.7V136.0M281.27 125.7V136.9M282.52 129.6V140.9M282.77 131.0V141.6M283.02 131.3V143.0M283.27 124.6V136.5M283.52 126.9V138.4M283.77 124.8V137.1M284.02 123.6V132.6M284.27 122.0V132.6M284.52 119.3V134.1M284.77 120.0V131.6M285.02 119.7V135.6M285.27 119.7V127.7M285.52 112.7V132.5M285.77 114.3V132.5M286.02 122.0V131.3M286.27 113.7V129.0M288.52 133.9V144.0M288.77 131.7V141.2M289.02 119.3V136.3M289.27 115.7V130.4M289.52 115.7V138.4M289.77 119.6V138.4M290.02 119.6V134.3M290.27 124.0V131.5M291.52 115.0V128.8M291.77 122.7V131.1M292.02 116.7V127.0M292.27 121.5V136.5M292.52 115.8V136.5M292.77 124.2V133.2M293.02 124.2V136.7M293.27 126.1V141.1M293.52 124.4V132.9M293.77 123.1V138.7M294.02 125.1V136.2M294.27 119.2V134.7M294.52 122.6V138.8M294.77 118.9V132.0M295.02 118.9V129.0M295.27 112.2V132.1M295.52 120.1V132.0M295.77 117.4V126.7M296.02 114.7V130.2M296.27 119.8V129.9M296.52 116.4V137.3M296.77 118.5V137.3M297.02 118.5V133.2M297.27 120.6V131.3M298.52 115.5V129.0M298.77 119.0V131.4M299.02 119.0V132.0M299.27 118.0V132.0M299.52 114.0V125.6M299.77 120.1V126.2M300.02 118.8V128.2M300.27 113.9V128.2M300.52 113.3V121.0M300.77 114.6V128.4M301.02 118.7V127.6" fill="none" stroke="#ff0000" stroke-width="0.950" stroke-opacity="1.0"/>
<path d="M55.52 158.9V168.4M55.77 156.3V166.5M56.02 158.5V166.5M56.27 153.2V162.8M60.52 117.6V135.8M60.77 117.6V127.7M61.02 116.0V130.3M61.27 107.4V125.2M68.53 98.9V117.4M68.78 100.2V110.2M69.03 100.2V112.4M69.28 106.8V117.7M71.53 133.3V145.7M71.78 135.5V143.0M72.03 133.4V142.5M72.28 140.0V151.5M72.53 136.4V150.1M72.78 124.5V150.1M73.03 130.6V145.4M73.28 131.4V145.5M73.53 135.6V146.4M73.78 133.8V138.3M74.03 133.8V144.1M74.28 138.7V155.1M81.53 134.2V144.4M81.78 132.3V151.7M82.03 129.4V143.6M82.28 129.4V141.1M82.53 133.4V138.1M82.78 130.2V140.6M83.03 132.2V140.6M83.28 132.2V144.0M89.53 126.4V136.9M89.78 124.6V135.5M90.03 124.6V132.0M90.28 120.3V143.6M91.53 118.9V137.0M91.78 128.4V139.4M92.03 131.6V135.1M92.28 125.8V135.1M92.53 126.1V134.1M92.78 121.6V136.0M93.03 114.7V136.0M93.28 114.7V132.5M103.53 104.6V126.4M103.78 110.3V126.4M104.03 112.1V119.9M104.28 112.9V127.0M107.53 106.3V123.0M107.78 108.3V114.5M108.03 110.1V120.2M108.28 98.1V118.1M111.53 115.8V127.7M111.78 120.9V127.7M112.03 107.8V132.1M112.28 118.7V137.2M112.53 114.8V127.2M112.78 115.3V123.2M113.03 109.5V127.7M113.28 110.2V123.3M119.53 112.8V126.0M119.78 117.2V126.3M120.03 115.0V130.2M120.28 115.0V127.3M126.53 115.3V127.3M126.78 114.6V132.1M127.03 118.1V129.7M127.28 117.6V135.8M128.53 117.2V126.6M128.78 117.2V139.0M129.03 108.2V131.7M129.28 108.2V126.5M138.53 122.3V139.4M138.78 127.9V139.4M139.03 119.1V133.0M139.28 119.1V141.6M140.53 120.4V142.8M140.78 120.4V140.1M141.03 122.2V138.9M141.28 129.0V150.4M141.53 130.6V150.4M141.78 121.6V134.5M142.03 115.4V134.5M142.28 122.8V134.3M147.53 129.1V146.3M147.78 123.1V145.7M148.03 123.1V133.3M148.28 129.2V143.9M148.53 127.1V133.1M148.78 123.4V135.5M149.03 119.9V135.3M149.28 119.9V138.9M151.53 116.1V137.1M151.78 119.2V126.7M152.03 119.7V137.5M152.28 128.0V143.1M154.53 120.2V129.4M154.78 123.1V136.9M155.03 118.2V128.5M155.28 111.2V128.9M159.53 133.4V140.1M159.78 131.3V140.6M160.03 131.3V140.6M160.28 121.0V143.8M160.53 126.9V140.1M160.78 121.7V138.4M161.03 121.7V137.1M161.28 118.3V135.2M173.53 119.3V135.4M173.78 118.2V127.4M174.03 123.5V139.7M174.28 123.5V141.6M174.53 121.4V138.2M174.78 123.0V137.7M175.03 125.1V141.1M175.28 125.5V137.4M177.53 115.5V131.0M177.78 115.5V132.4M178.03 119.9V136.1M178.28 111.6V136.5M178.53 116.4V136.5M178.78 123.4V133.9M179.03 109.6V127.2M179.28 120.8V131.5M181.53 125.5V133.2M181.78 125.5V132.2M182.03 124.4V133.8M182.28 124.4V134.9M182.53 124.6V132.4M182.78 117.1V130.1M183.03 121.2V130.3M183.28 125.0V133.1M193.53 126.2V137.5M193.78 113.4V131.7M194.03 110.7V128.6M194.28 110.7V139.8M195.53 110.7V135.7M195.78 116.9V131.6M196.03 121.5V140.0M196.28 121.8V128.3M197.53 118.0V128.7M197.78 119.4V127.1M198.03 115.7V124.4M198.28 115.7V138.2M204.53 120.5V130.5M204.78 128.7V143.3M205.03 124.9V143.3M205.28 122.9V131.8M206.53 121.5V137.6M206.78 124.4V131.3M207.03 125.3V135.1M207.28 126.2V131.4M212.53 123.0V141.0M212.78 126.0V133.7M213.03 129.1V141.2M213.28 120.1V132.7M215.53 117.9V128.9M215.78 111.4V128.9M216.03 111.4V131.7M216.28 119.5V134.0M216.53 115.3V127.0M216.78 120.3V127.0M217.03 120.3V133.1M217.28 127.6V131.1M220.53 129.8V135.5M220.78 127.6V135.2M221.03 124.9V137.1M221.28 126.8V136.8M225.53 134.5V140.2M225.78 133.7V141.5M226.03 125.7V146.1M226.28 137.2V142.3M230.53 126.4V141.0M230.78 125.9V136.0M231.03 128.5V138.7M231.28 138.1V150.4M236.53 136.0V144.6M236.78 138.0V148.4M237.03 135.2V148.4M237.28 140.0V147.4M245.53 124.0V150.6M245.78 132.9V147.6M246.03 135.3V147.6M246.28 136.5V152.2M250.53 137.1V147.3M250.78 128.7V146.1M251.03 131.9V146.1M251.28 131.9V139.4M252.53 126.2V129.9M252.78 124.9V132.4M253.03 131.0V135.2M253.28 126.1V137.8M255.53 135.8V148.1M255.78 135.0V148.4M256.02 136.4V153.4M256.27 131.5V144.7M257.52 124.9V135.5M257.77 127.4V139.9M258.02 128.5V139.9M258.27 126.8V137.7M258.52 126.8V136.7M258.77 126.2V134.6M259.02 121.6V136.7M259.27 121.5V139.3M259.52 125.7V139.3M259.77 123.3V133.4M260.02 122.1V138.5M260.27 120.2V139.3M263.52 124.1V141.1M263.77 130.1V148.1M264.02 127.8V148.1M264.27 135.3V150.6M266.52 119.1V141.5M266.77 129.3V148.6M267.02 128.2V148.6M267.27 128.5V144.2M268.52 126.0V146.1M268.77 127.5V140.6M269.02 123.4V140.6M269.27 123.4V134.8M269.52 130.2V141.3M269.77 127.2V140.8M270.02 131.7V138.3M270.27 126.7V143.4M271.52 128.2V142.6M271.77 128.7V142.6M272.02 124.9V143.2M272.27 125.8V143.2M272.52 123.2V135.8M272.77 130.4V142.6M273.02 128.6V142.5M273.27 121.3V136.1M274.52 129.5V142.8M274.77 136.4V141.9M275.02 135.0V142.3M275.27 129.7V142.3M281.52 132.9V142.1M281.77 127.9V137.5M282.02 135.5V151.1M282.27 129.1V140.9M286.52 110.5V138.0M286.77 124.1V132.5M287.02 117.2V130.0M287.27 117.2V135.9M287.52 125.1V135.9M287.77 131.3V133.7M288.02 127.1V136.9M288.27 127.1V144.0M290.52 120.7V136.7M290.77 119.5V127.3M291.02 120.6V134.2M291.27 122.7V130.6M297.52 123.5V134.3M297.77 116.9V130.4M298.02 112.6V127.6M298.27 112.6V130.0" fill="none" stroke="#ff0000" stroke-width="0.950" stroke-opacity="1.0"/>
<path d="M54.52 162.0V168.4M54.77 154.9V163.4M55.02 155.7V160.0M55.27 150.9V167.5M57.52 137.8V143.3M57.77 134.7V139.3M58.02 134.4V142.9M58.27 127.1V137.5M59.52 128.4V133.7M59.77 128.4V138.8M60.02 128.4V141.4M60.27 130.9V149.6M62.52 137.1V156.4M62.77 138.3V142.1M63.02 125.2V142.1M63.27 128.3V141.7M64.53 124.8V139.0M64.78 139.0V146.4M65.03 131.3V146.4M65.28 131.8V145.1M67.53 136.4V142.0M67.78 128.9V140.8M68.03 131.6V143.0M68.28 125.8V146.9M70.53 133.8V140.5M70.78 129.2V141.5M71.03 129.8V142.2M71.28 134.8V138.2M72.53 134.8V145.6M72.78 134.8V145.6M73.03 137.5V142.4M73.28 134.3V145.7M81.53 122.1V133.5M81.78 128.0V136.0M82.03 127.4V136.0M82.28 123.8V134.7M82.53 122.8V141.8M82.78 122.8V141.8M83.03 116.7V134.5M83.28 117.7V140.3M84.53 111.5V126.1M84.78 86.8V128.3M85.03 125.0V131.2M85.28 124.9V128.1M91.53 113.6V128.1M91.78 122.4V143.4M92.03 110.9V125.3M92.28 107.9V121.4M95.53 117.0V134.9M95.78 111.2V124.4M96.03 108.2V121.6M96.28 112.3V123.9M96.53 112.3V128.5M96.78 114.5V128.5M97.03 112.7V125.4M97.28 120.1V132.1M103.53 104.7V126.0M103.78 98.0V126.0M104.03 106.3V134.7M104.28 114.7V134.7M106.53 117.5V132.2M106.78 116.5V125.1M107.03 120.7V138.3M107.28 109.7V134.2M111.53 107.6V131.3M111.78 110.2V124.0M112.03 119.9V127.5M112.28 119.9V127.8M112.53 116.1V128.0M112.78 115.5V132.1M113.03 119.5V131.4M113.28 116.2V132.7M122.53 120.3V134.7M122.78 124.1V134.7M123.03 124.6V134.4M123.28 129.7V134.3M123.53 127.1V144.8M123.78 112.1V144.8M124.03 112.1V140.4M124.28 123.4V135.0M129.53 99.2V115.2M129.78 99.2V131.3M130.03 102.4V123.8M130.28 106.4V123.8M130.53 106.4V123.4M130.78 104.5V120.8M131.03 109.3V132.4M131.28 112.9V132.4M132.53 118.8V139.2M132.78 116.8V139.2M133.03 116.8V132.9M133.28 120.4V132.8M134.53 120.9V134.7M134.78 120.2V134.7M135.03 112.5V123.4M135.28 111.9V140.9M136.53 107.8V117.8M136.78 106.6V122.2M137.03 112.8V124.5M137.28 114.7V127.2M137.53 114.6V124.6M137.78 104.4V119.4M138.03 110.6V122.8M138.28 114.9V127.6M138.53 116.6V127.6M138.78 116.6V127.4M139.03 112.1V121.1M139.28 108.1V116.7M140.53 109.4V117.8M140.78 109.4V128.3M141.03 106.6V114.1M141.28 112.6V120.9M146.53 124.3V126.1M146.78 123.3V132.8M147.03 107.4V126.5M147.28 122.6V126.5M147.53 112.9V122.6M147.78 119.9V128.4M148.03 117.0V128.4M148.28 113.4V134.1M148.53 111.2V125.0M148.78 109.6V125.0M149.03 113.1V127.2M149.28 115.1V124.2M150.53 127.4V143.4M150.78 125.7V135.9M151.03 126.8V144.4M151.28 119.2V135.1M152.53 120.1V126.8M152.78 118.8V126.8M153.03 111.1V121.8M153.28 105.8V124.8M157.53 104.4V116.4M157.78 103.6V118.4M158.03 116.2V126.7M158.28 108.3V119.0M158.53 109.2V111.1M158.78 108.6V112.7M159.03 109.4V120.1M159.28 102.3V134.1M165.53 95.6V113.5M165.78 98.6V113.5M166.03 94.8V107.8M166.28 94.8V116.7M168.53 97.8V107.2M168.78 90.6V108.3M169.03 90.6V106.7M169.28 92.3V105.1M169.53 88.5V105.1M169.78 95.7V102.6M170.03 91.0V138.0M170.28 98.1V100.7M170.53 92.4V106.6M170.78 89.3V107.4M171.03 101.2V110.9M171.28 82.9V104.5M172.53 91.1V117.6M172.78 86.8V117.7M173.03 101.8V117.7M173.28 95.8V107.0M178.53 112.8V125.2M178.78 117.6V124.3M179.03 119.5V124.3M179.28 111.3V127.3M180.53 108.6V124.4M180.78 108.6V129.0M181.03 117.5V124.9M181.28 113.5V127.4M182.53 117.5V131.0M182.78 102.8V131.0M183.03 102.8V129.8M183.28 116.5V128.0M183.53 114.4V126.6M183.78 114.2V124.3M184.03 106.7V114.9M184.28 110.9V123.9M186.53 100.0V122.9M186.78 100.0V137.4M187.03 115.6V123.6M187.28 115.9V142.6M190.53 122.7V126.2M190.78 121.4V126.2M191.03 121.2V128.9M191.28 114.3V127.9M191.53 107.3V121.1M191.78 107.3V127.4M192.03 112.0V122.7M192.28 118.6V122.7M192.53 110.5V125.4M192.78 114.7V122.5M193.03 108.3V124.0M193.28 118.3V124.1M193.53 112.3V129.8M193.78 111.6V129.8M194.03 109.1V121.0M194.28 115.0V119.8M198.53 103.6V121.7M198.78 112.6V126.1M199.03 112.3V119.9M199.28 109.6V127.6M203.53 122.9V140.0M203.78 115.7V132.0M204.03 119.2V141.4M204.28 85.5V125.4M214.53 101.3V115.7M214.78 101.3V127.7M215.03 99.7V119.3M215.28 99.7V129.3M215.53 110.8V129.3M215.78 107.1V121.8M216.03 106.9V118.9M216.28 105.2V113.6M216.53 106.4V117.1M216.78 88.2V107.6M217.03 106.6V120.7M217.28 106.8V115.2M217.53 108.8V124.5M217.78 99.8V124.5M218.03 96.6V119.7M218.28 101.3V114.1M221.53 114.6V121.5M221.78 115.0V120.0M222.03 112.5V127.2M222.28 112.5V127.2M222.53 110.8V122.4M222.78 103.4V117.2M223.03 107.8V124.1M223.28 100.8V117.6M227.53 105.7V117.5M227.78 97.8V117.4M228.03 105.0V109.9M228.28 106.2V112.3M230.53 105.5V113.2M230.78 97.8V113.1M231.03 103.0V113.1M231.28 96.3V106.4M240.53 103.0V115.6M240.78 108.7V124.8M241.03 108.7V116.9M241.28 96.2V114.3M241.53 96.2V116.2M241.78 105.0V115.8M242.03 97.0V115.8M242.28 97.0V116.7M243.53 106.2V115.9M243.78 111.4V123.9M244.03 105.8V120.2M244.28 104.3V107.9M244.53 96.3V126.8M244.78 96.3V111.7M245.03 105.9V117.1M245.28 104.4V117.1M254.53 70.5V117.5M254.78 103.6V109.7M255.03 103.1V117.1M255.28 105.2V119.1M256.52 78.4V101.4M256.77 82.1V111.9M257.02 99.5V111.9M257.27 102.2V106.5M260.52 85.0V103.5M260.77 85.2V103.5M261.02 91.8V100.1M261.27 83.5V93.1M266.52 93.4V113.3M266.77 95.1V123.0M267.02 81.9V98.9M267.27 98.9V109.2M275.52 76.3V90.3M275.77 72.6V91.0M276.02 72.6V98.2M276.27 73.3V98.2M276.52 73.3V106.5M276.77 98.1V106.9M277.02 88.1V98.1M277.27 79.8V100.5M278.52 91.6V102.4M278.77 86.2V104.5M279.02 88.3V115.2M279.27 83.0V115.2M283.52 111.0V115.2M283.77 110.1V124.8M284.02 108.3V124.8M284.27 110.4V119.4M286.52 91.1V99.8M286.77 95.9V113.0M287.02 87.2V98.8M287.27 87.2V97.8M287.52 88.9V95.3M287.77 87.1V105.2M288.02 101.5V113.7M288.27 105.2V113.7M290.52 93.8V116.6M290.77 96.3V105.2M291.02 92.5V105.2M291.27 86.4V114.2M292.52 86.1V104.3M292.77 99.0V104.3M293.02 99.6V117.6M293.27 106.4V121.7M293.52 101.5V107.3M293.77 94.6V109.4M294.02 100.0V110.1M294.27 93.0V110.1" fill="none" stroke="#0000f4" stroke-width="0.850" stroke-opacity="1.0"/>
</g>
<clipPath id="clipC"><rect x="56.6" y="311.3" width="262.2" height="180.2"/></clipPath><g clip-path="url(#clipC)">
<path d="M56.73 407.7V416.9M56.98 396.7V416.9M57.23 396.7V430.8M57.48 401.2V430.8M58.73 394.8V438.0M58.98 392.3V409.2M59.23 390.5V400.1M59.48 384.9V401.0M61.73 391.1V406.6M61.98 396.2V409.0M62.23 387.9V409.0M62.48 398.7V405.1M63.73 382.6V392.1M63.98 391.9V398.0M64.22 382.4V418.1M64.47 382.4V397.1M65.72 367.7V384.6M65.97 363.2V382.8M66.22 358.6V376.4M66.47 367.7V368.0M66.72 353.7V380.6M66.97 353.7V387.7M67.22 363.0V396.5M67.47 357.5V396.5M67.72 360.1V368.0M67.97 356.9V372.7M68.22 335.1V370.7M68.47 364.6V373.3M70.72 366.8V375.3M70.97 375.2V394.0M71.22 351.2V375.2M71.47 366.7V378.2M72.72 387.3V398.0M72.97 398.0V424.6M73.22 381.8V416.9M73.47 404.7V413.3M73.72 390.0V417.2M73.97 392.5V412.6M74.22 400.8V412.6M74.47 403.9V414.7M74.72 412.7V418.4M74.97 411.3V423.2M75.22 411.3V428.4M75.47 405.9V420.4M75.72 405.9V427.6M75.97 397.5V416.6M76.22 386.2V425.8M76.47 397.4V418.4M76.72 399.3V418.4M76.97 395.8V413.5M77.22 403.4V418.2M77.47 401.9V416.9M78.72 407.2V423.9M78.97 415.4V433.0M79.22 419.2V433.0M79.47 409.2V425.5M79.72 407.5V425.5M79.97 420.9V432.1M80.22 417.8V432.1M80.47 399.5V422.7M80.72 410.4V424.0M80.97 401.0V431.1M81.22 412.0V426.3M81.47 412.3V428.8M81.72 423.4V432.7M81.97 406.9V429.6M82.22 403.2V428.5M82.47 396.0V431.3M82.72 417.0V432.2M82.97 415.5V424.2M83.22 405.4V424.2M83.47 402.1V418.0M84.72 391.5V423.0M84.97 391.5V427.4M85.22 404.3V414.2M85.47 407.9V451.5M85.72 415.3V451.5M85.97 410.8V427.2M86.22 399.1V433.9M86.47 390.5V422.6M87.72 431.4V447.3M87.97 413.8V447.3M88.22 404.7V439.3M88.47 416.6V439.3M88.72 420.0V431.4M88.97 415.5V420.5M89.22 405.1V438.5M89.47 405.1V422.6M90.72 396.9V411.6M90.97 396.9V424.6M91.22 390.0V424.6M91.47 402.2V410.5M91.72 410.5V426.3M91.97 409.9V420.5M92.22 395.2V415.0M92.47 398.0V417.2M92.72 403.6V419.1M92.97 392.4V413.7M93.22 385.3V413.7M93.47 385.3V404.6M94.72 374.2V392.5M94.97 376.1V390.4M95.22 380.7V397.5M95.47 380.8V397.5M96.72 390.8V408.0M96.97 384.4V405.4M97.22 381.2V396.8M97.47 381.2V407.8M97.72 402.0V412.9M97.97 386.7V416.5M98.22 395.5V416.5M98.47 401.9V420.4M99.72 380.7V404.0M99.97 391.8V403.4M100.22 392.5V403.4M100.47 387.8V401.0M100.72 390.8V401.4M100.97 393.2V413.2M101.22 386.1V418.0M101.47 403.2V422.1M101.72 394.3V415.6M101.97 394.3V414.1M102.22 395.8V414.1M102.47 402.1V413.4M102.72 391.2V411.9M102.97 391.2V427.9M103.22 379.7V416.8M103.47 387.1V413.8M103.72 383.2V400.7M103.97 383.2V419.5M104.22 387.8V419.5M104.47 393.9V429.3M104.72 404.4V429.3M104.97 402.9V426.5M105.22 404.6V433.4M105.47 416.8V433.4M105.72 413.5V435.6M105.97 417.5V436.1M106.22 413.8V420.6M106.47 420.6V426.7M106.72 422.5V431.4M106.97 408.1V431.8M107.22 409.9V431.8M107.47 409.9V421.0M107.72 411.8V427.5M107.97 417.3V429.2M108.22 394.1V429.2M108.47 390.1V413.6M108.72 390.1V404.3M108.97 400.7V412.5M109.22 396.6V414.6M109.47 378.5V414.6M109.72 406.2V413.1M109.97 404.1V408.6M110.22 401.7V413.0M110.47 410.8V421.9M111.72 413.9V426.9M111.97 404.8V422.6M112.22 409.5V417.9M112.47 403.9V442.5M112.72 403.9V430.9M112.97 412.0V427.2M113.22 409.0V424.1M113.47 410.1V437.3M113.72 406.9V449.4M113.97 423.1V449.4M114.22 416.3V442.4M114.47 419.2V450.0M115.72 414.1V458.2M115.97 414.1V449.8M116.22 404.8V444.5M116.47 418.6V449.5M117.72 408.5V427.8M117.97 396.2V442.8M118.22 398.0V442.8M118.47 412.5V435.5M118.72 409.2V430.8M118.97 401.7V434.8M119.22 401.7V422.8M119.47 407.2V414.2M120.72 411.8V433.4M120.97 402.5V434.1M121.22 402.5V425.5M121.47 406.0V422.3M121.72 413.3V426.9M121.97 420.9V427.1M122.22 415.9V429.1M122.47 395.6V421.1M122.72 395.6V434.7M122.97 392.6V434.7M123.22 401.6V427.5M123.47 401.6V430.6M123.72 412.0V420.3M123.97 415.6V439.1M124.22 418.9V439.1M124.47 408.5V436.9M124.72 414.4V424.5M124.97 399.6V421.8M125.22 387.4V410.7M125.47 393.2V425.2M125.72 393.7V425.2M125.97 397.7V418.9M126.22 403.1V418.9M126.47 402.7V421.8M129.72 414.8V428.6M129.97 416.6V426.0M130.22 416.6V430.9M130.47 407.6V433.7M130.72 409.9V449.0M130.97 398.0V446.5M131.22 398.0V416.1M131.47 403.4V419.2M131.72 403.4V420.1M131.97 399.2V436.2M132.22 380.1V406.9M132.47 398.0V402.8M132.72 391.7V398.0M132.97 388.9V398.0M133.22 378.7V393.4M133.47 377.7V393.4M135.72 384.5V408.5M135.97 384.5V404.0M136.22 373.4V404.1M136.47 384.5V422.1M136.72 371.2V422.1M136.97 380.7V393.7M137.22 376.0V401.2M137.47 377.5V401.2M137.72 380.1V392.8M137.97 369.9V399.0M138.22 369.8V381.6M138.47 372.0V383.6M139.72 369.9V388.5M139.97 369.9V382.9M140.22 366.6V375.9M140.47 366.6V381.7M141.72 369.1V377.2M141.97 376.3V390.1M142.22 382.9V386.8M142.47 373.2V393.8M142.72 385.3V391.8M142.97 377.7V388.2M143.22 380.2V395.1M143.47 378.6V395.1M143.72 342.0V378.6M143.97 363.4V380.4M144.22 358.9V403.2M144.47 365.0V382.0M144.72 365.0V392.4M144.97 359.9V381.3M145.22 358.3V389.5M145.47 364.3V382.2M146.72 358.8V373.2M146.97 346.4V373.2M147.22 363.0V385.2M147.47 366.3V381.1M147.72 360.4V396.5M147.97 366.7V371.1M148.22 366.7V393.1M148.47 378.4V390.0M149.72 370.9V399.3M149.97 376.6V394.5M150.22 376.0V387.9M150.47 382.9V398.6M150.72 376.1V407.3M150.97 373.0V389.6M151.22 364.5V381.2M151.47 364.8V382.6M152.72 356.3V389.7M152.97 364.4V383.2M153.22 362.4V399.8M153.47 358.6V372.8M153.72 352.8V362.4M153.97 356.3V374.7M154.22 359.7V377.4M154.47 351.1V372.1M156.72 366.9V385.5M156.97 366.2V387.9M157.22 366.2V379.6M157.47 354.9V381.5M157.72 354.9V382.1M157.97 374.0V383.8M158.22 364.7V383.1M158.47 367.3V384.0M159.72 361.9V389.2M159.97 369.4V389.7M160.22 363.4V387.2M160.47 363.4V382.7M160.72 369.1V391.9M160.97 363.8V376.6M161.22 352.7V370.5M161.47 355.1V378.4M161.72 353.4V378.4M161.97 334.3V372.2M162.22 344.8V353.9M162.47 344.8V364.5M164.72 361.6V369.7M164.97 356.6V379.2M165.22 356.6V386.6M165.47 362.0V382.8M166.72 356.5V377.2M166.97 346.0V377.2M167.22 356.7V370.8M167.47 353.5V374.1M167.72 353.5V369.3M167.97 356.3V376.6M168.22 356.2V369.3M168.47 350.3V370.0M168.72 356.8V369.7M168.97 343.5V366.4M169.22 358.7V391.3M169.47 366.7V375.8M169.72 355.6V375.0M169.97 349.7V380.1M170.22 349.7V370.0M170.47 345.4V370.0M170.72 356.2V364.9M170.97 338.5V367.4M171.22 352.4V383.5M171.47 365.0V372.1M171.72 358.7V390.7M171.97 365.9V390.7M172.22 361.3V366.9M172.47 349.0V367.0M172.72 360.0V376.4M172.97 364.0V385.4M173.22 364.0V381.6M173.47 362.3V378.3M174.72 370.1V389.3M174.97 370.1V400.1M175.22 360.4V383.7M175.47 363.3V381.7M178.72 346.8V360.7M178.97 354.4V374.0M179.22 357.1V369.5M179.47 355.0V382.7M179.72 355.0V382.9M179.97 352.7V382.9M180.22 342.9V372.8M180.47 360.6V384.9M180.72 331.5V377.8M180.97 331.5V365.8M181.22 358.1V374.9M181.47 369.5V387.1M183.72 325.2V364.7M183.97 325.2V362.4M184.22 341.3V362.4M184.47 319.4V356.1M184.72 322.2V349.3M184.97 324.2V342.0M185.22 328.8V346.2M185.47 335.1V362.0M185.72 330.2V370.0M185.97 350.6V370.0M186.22 350.6V374.8M186.47 342.8V377.0M189.72 358.3V381.1M189.97 357.5V381.4M190.22 355.3V377.6M190.47 370.5V384.4M191.72 343.1V353.9M191.97 346.4V377.5M192.22 361.6V377.5M192.47 337.6V375.5M192.72 363.7V375.5M192.97 346.8V363.7M193.22 343.4V376.5M193.47 346.0V376.5M194.72 348.5V402.1M194.97 348.5V400.1M195.22 360.7V375.8M195.47 367.2V378.6M197.72 348.0V383.5M197.97 365.7V393.1M198.22 364.2V376.4M198.47 356.8V377.8M198.72 344.7V377.8M198.97 359.4V394.2M199.22 355.3V394.2M199.47 359.7V371.3M199.72 350.8V367.1M199.97 353.6V375.1M200.22 350.3V398.6M200.47 350.3V374.0M200.72 366.4V378.4M200.97 360.6V376.4M201.22 355.2V360.6M201.47 350.2V376.1M202.72 366.1V392.8M202.97 364.9V371.0M203.22 364.9V367.2M203.47 367.2V377.6M203.72 342.4V378.2M203.97 342.4V366.6M204.22 354.1V366.6M204.47 354.1V378.6M204.72 373.9V380.0M204.97 363.9V387.8M205.22 367.5V390.6M205.47 374.4V382.5M206.72 374.1V387.6M206.97 370.1V392.8M207.22 370.1V383.1M207.47 372.1V393.0M207.72 371.8V399.8M207.97 369.7V400.7M208.22 368.3V400.7M208.47 368.3V379.3M208.72 375.1V396.9M208.97 374.2V384.4M209.22 376.2V384.4M209.47 343.7V380.5M209.72 353.9V380.5M209.97 353.9V383.3M210.22 361.4V375.6M210.47 358.6V372.2M210.72 351.2V372.7M210.97 346.3V371.8M211.22 342.6V383.5M211.47 351.8V383.5M211.72 365.3V380.7M211.97 358.2V384.2M212.22 362.6V379.8M212.47 366.5V383.1M214.72 378.3V403.7M214.97 377.9V407.4M215.22 391.9V407.4M215.47 376.5V393.4M215.72 377.8V392.3M215.97 361.1V388.8M216.22 361.1V410.6M216.47 373.0V380.2M216.72 369.4V392.6M216.97 374.8V392.6M217.22 366.9V400.7M217.47 366.9V387.7M218.72 381.6V396.2M218.97 360.2V393.0M219.22 362.9V383.7M219.47 365.6V401.4M219.72 372.0V391.6M219.97 359.4V396.2M220.22 375.5V389.4M220.47 375.5V397.1M220.72 380.5V397.1M220.97 377.0V407.9M221.22 377.0V388.7M221.47 377.5V384.5M221.72 370.2V381.2M221.97 380.1V388.1M222.22 366.4V394.7M222.47 375.0V394.7M223.72 364.2V383.4M223.97 341.2V374.6M224.22 367.1V393.2M224.47 371.0V393.2M224.72 379.5V390.4M224.97 380.5V394.4M225.22 380.5V410.3M225.47 373.6V410.3M225.72 374.9V398.2M225.97 374.8V395.8M226.22 366.7V387.6M226.47 366.2V379.2M226.72 366.2V386.4M226.97 371.4V388.8M227.22 364.6V382.9M227.47 364.6V383.8M227.72 383.4V402.0M227.97 375.1V387.5M228.22 372.1V385.6M228.47 376.8V385.6M228.72 372.2V396.6M228.97 369.5V398.1M229.22 376.1V398.1M229.47 376.1V395.6M229.72 387.8V415.5M229.97 377.2V387.8M230.22 345.0V379.1M230.47 345.0V385.5M230.72 361.5V379.4M230.97 368.9V389.7M231.22 366.1V392.9M231.47 370.8V392.9M231.72 370.8V382.1M231.97 373.1V396.4M232.22 374.3V388.7M232.47 367.6V397.4M232.72 367.6V381.2M232.97 358.6V381.2M233.22 368.4V395.0M233.47 371.5V395.0M235.72 371.5V401.4M235.97 357.9V382.8M236.22 357.9V375.8M236.47 358.7V387.1M237.72 356.8V402.3M237.97 366.7V402.3M238.22 360.9V391.4M238.47 348.9V369.4M238.72 352.0V370.9M238.97 352.0V372.8M239.22 357.4V390.6M239.47 359.0V380.8M239.72 350.0V379.9M239.97 359.6V379.9M240.22 360.3V369.7M240.47 367.0V375.9M240.72 364.9V393.6M240.97 360.2V386.9M241.22 366.6V380.5M241.47 361.2V371.1M241.72 359.9V373.5M241.97 363.2V373.7M242.22 373.6V381.1M242.47 371.6V377.7M242.72 356.5V377.6M242.97 373.0V387.1M243.22 373.2V382.8M243.47 370.3V382.6M243.72 373.3V384.3M243.97 359.4V385.7M244.22 365.9V385.7M244.47 371.6V377.7M244.72 364.7V385.1M244.97 368.8V395.4M245.22 361.1V387.1M245.47 355.7V377.9M246.72 363.8V388.1M246.97 367.6V388.9M247.22 371.8V387.5M247.47 379.4V395.0M249.72 363.1V379.4M249.97 347.6V365.1M250.22 364.4V387.7M250.47 365.3V384.2M251.72 365.4V389.9M251.97 350.4V394.1M252.22 350.4V371.7M252.47 354.3V365.1M252.72 352.3V365.1M252.97 352.3V375.5M253.22 345.3V375.5M253.47 338.2V363.0M255.72 360.5V373.6M255.97 364.2V378.5M256.23 363.1V380.8M256.48 362.6V380.8M256.73 350.5V376.0M256.98 345.3V376.0M257.23 354.2V370.5M257.48 354.2V375.3M257.73 364.6V378.4M257.98 350.4V378.4M258.23 341.5V373.8M258.48 357.0V385.5M258.73 339.4V366.2M258.98 352.5V366.9M259.23 350.2V364.6M259.48 338.5V350.9M259.73 350.9V362.9M259.98 342.3V367.9M260.23 322.8V363.0M260.48 345.8V385.2M262.73 366.9V380.2M262.98 363.6V375.6M263.23 357.8V373.1M263.48 357.8V373.2M264.73 340.5V353.3M264.98 340.2V357.5M265.23 337.4V352.8M265.48 337.5V346.9M267.73 350.4V361.7M267.98 350.4V370.5M268.23 345.9V370.5M268.48 352.4V363.3M270.73 357.7V376.7M270.98 362.3V373.0M271.23 366.2V377.0M271.48 361.6V387.5M271.73 354.9V387.5M271.98 367.5V372.9M272.23 358.3V382.8M272.48 351.9V385.9M272.73 356.1V371.7M272.98 351.4V388.4M273.23 350.9V368.2M273.48 350.2V368.2M273.73 340.7V357.2M273.98 322.4V350.4M274.23 337.3V350.8M274.48 333.6V357.6M274.73 333.6V359.8M274.98 325.2V379.0M275.23 347.4V354.3M275.48 352.3V357.9M275.73 352.8V360.4M275.98 357.6V364.7M276.23 356.6V371.5M276.48 355.5V369.0M277.73 369.6V380.7M277.98 359.1V375.3M278.23 364.1V375.9M278.48 351.4V372.6M278.73 355.8V372.6M278.98 350.6V365.0M279.23 336.6V389.0M279.48 336.6V379.2M280.73 368.6V393.3M280.98 364.6V379.0M281.23 366.9V401.3M281.48 369.6V388.3M281.73 375.1V388.3M281.98 364.8V387.2M282.23 364.8V380.7M282.48 362.5V380.7M284.73 363.8V399.2M284.98 367.3V388.3M285.23 367.2V381.1M285.48 361.0V376.8M285.73 361.0V383.9M285.98 355.8V371.1M286.23 355.9V374.4M286.48 340.1V367.7M286.73 337.5V374.7M286.98 349.8V368.3M287.23 351.2V369.7M287.48 353.7V370.6M287.73 344.5V370.6M287.98 344.5V357.1M288.23 322.5V348.2M288.48 348.2V387.8M288.73 347.6V356.7M288.98 345.0V373.4M289.23 345.0V367.5M289.48 358.6V373.2M290.73 373.4V396.6M290.98 373.7V393.0M291.23 374.8V389.9M291.48 374.8V389.0M291.73 372.5V393.6M291.98 374.1V394.6M292.23 380.3V394.6M292.48 370.7V393.7M293.73 377.0V396.1M293.98 381.8V393.5M294.23 381.1V389.7M294.48 366.9V381.1M294.73 368.2V384.5M294.98 370.4V387.8M295.23 364.7V384.4M295.48 364.7V377.3M295.73 346.6V378.9M295.98 366.3V373.7M296.23 359.0V376.6M296.48 359.0V385.7M296.73 365.5V382.0M296.98 364.7V393.0M297.23 364.9V391.0M297.48 358.7V391.0M298.73 368.4V393.0M298.98 380.7V397.4M299.23 365.8V401.3M299.48 356.6V391.7M300.73 369.0V382.0M300.98 348.4V388.3M301.23 348.4V372.7M301.48 370.3V414.1M304.73 378.2V388.2M304.98 382.4V395.6M305.23 370.4V398.2M305.48 370.4V391.7M305.73 391.1V409.1M305.98 382.0V391.1M306.23 382.0V397.3M306.48 389.3V408.8M306.73 389.3V400.0M306.98 389.1V404.5M307.23 384.3V406.9M307.48 384.3V409.4M307.73 384.5V409.5M307.98 371.4V403.0M308.23 371.4V406.2M308.48 387.4V406.2M308.73 368.8V404.6M308.98 362.3V396.9M309.23 373.4V396.9M309.48 354.8V395.4M309.73 367.8V391.6M309.98 371.0V385.0M310.23 377.2V385.0M310.48 377.2V397.6M311.73 365.7V395.6M311.98 365.7V398.8M312.23 372.1V399.2M312.48 393.5V412.7M312.73 390.8V402.5M312.98 381.9V403.7M313.23 380.6V403.7M313.48 380.6V415.4M313.73 392.7V409.9M313.98 380.4V398.4M314.23 380.4V396.4M314.48 375.3V392.6M315.73 379.7V397.6M315.98 379.7V402.4M316.23 393.9V410.4M316.48 392.3V410.4M316.73 386.6V412.5M316.98 372.4V405.5M317.23 367.4V405.5M317.48 393.8V400.8" fill="none" stroke="#0000f4" stroke-width="0.850" stroke-opacity="1.0"/>
<path d="M56.73 363.6V385.0M56.98 375.9V393.6M57.23 375.9V403.3M57.48 380.3V410.3M57.73 378.0V395.0M57.98 388.2V397.6M58.23 375.4V392.1M58.48 376.3V408.9M58.73 394.3V415.6M58.98 397.4V434.4M59.23 399.2V408.3M59.48 399.2V415.1M59.73 385.3V415.1M59.98 385.3V405.0M60.23 404.3V419.9M60.48 397.5V419.9M60.73 392.8V409.2M60.98 387.2V402.3M61.23 396.0V421.5M61.48 386.6V410.4M61.73 379.0V405.2M61.98 379.0V407.9M62.23 401.4V405.4M62.48 379.1V401.6M62.73 393.3V399.3M62.98 373.0V420.2M63.23 384.6V404.4M63.48 388.6V418.7M64.72 374.7V401.9M64.97 367.0V383.9M65.22 349.6V383.9M65.47 349.6V386.2M66.72 370.4V390.4M66.97 371.6V379.5M67.22 376.7V383.8M67.47 382.2V393.1M67.72 370.7V393.1M67.97 358.8V393.1M68.22 358.8V383.1M68.47 372.6V391.8M68.72 372.6V398.6M68.97 373.0V391.6M69.22 378.7V386.6M69.47 352.8V386.6M69.72 352.8V384.6M69.97 367.8V384.6M70.22 341.8V381.3M70.47 360.4V374.6M70.72 364.6V374.6M70.97 355.5V377.1M71.22 356.4V388.6M71.47 365.4V388.6M72.72 368.3V392.7M72.97 375.1V396.6M73.22 384.2V396.6M73.47 372.3V386.2M73.72 372.3V398.4M73.97 353.1V380.3M74.22 379.7V407.6M74.47 382.8V398.2M74.72 389.9V398.3M74.97 364.7V404.3M75.22 364.7V401.1M75.47 397.4V414.7M75.72 392.1V414.7M75.97 392.1V410.9M76.22 398.1V410.9M76.47 394.8V411.5M76.72 382.7V405.8M76.97 378.0V402.5M77.22 383.4V401.8M77.47 377.2V388.6M77.72 376.4V386.2M77.97 384.9V391.2M78.22 385.3V393.9M78.47 382.3V391.5M78.72 372.6V405.1M78.97 366.4V398.6M79.22 370.8V398.6M79.47 370.8V384.6M79.72 380.4V391.3M79.97 375.7V391.5M80.22 376.2V396.5M80.47 352.9V396.2M81.72 370.6V382.7M81.97 361.4V395.5M82.22 364.2V375.7M82.47 364.2V372.2M82.72 360.7V386.4M82.97 360.7V374.9M83.22 368.1V396.7M83.47 370.6V393.9M84.72 383.0V398.8M84.97 377.1V398.8M85.22 374.9V384.8M85.47 368.1V392.9M86.72 380.0V394.1M86.97 390.8V404.4M87.22 388.8V407.4M87.47 386.1V402.1M87.72 365.2V402.8M87.97 365.2V402.6M88.22 376.2V414.1M88.47 372.5V397.4M88.72 378.6V392.5M88.97 376.7V392.5M89.22 363.6V385.1M89.47 381.1V399.4M89.72 370.0V385.7M89.97 374.1V385.2M90.22 366.3V387.7M90.47 366.3V390.3M90.72 361.7V378.0M90.97 374.5V388.7M91.22 366.4V385.0M91.47 366.4V391.9M91.72 358.3V386.8M91.97 358.3V389.6M92.22 381.7V398.8M92.47 373.1V408.7M93.72 378.2V398.0M93.97 378.2V403.0M94.22 393.3V403.0M94.47 384.9V412.0M95.72 406.3V415.3M95.97 404.9V416.4M96.22 403.8V414.0M96.47 386.7V403.8M96.72 386.7V404.7M96.97 395.2V418.4M97.22 395.2V401.9M97.47 395.3V405.8M97.72 386.0V417.5M97.97 386.0V407.7M98.22 395.6V405.3M98.47 396.8V415.8M98.72 390.9V414.6M98.97 390.9V423.0M99.22 397.0V421.5M99.47 382.5V422.5M99.72 407.6V426.2M99.97 392.3V413.1M100.22 392.3V416.3M100.47 394.9V415.4M101.72 410.9V439.7M101.97 418.5V453.5M102.22 401.1V453.5M102.47 407.0V443.9M102.72 417.9V443.9M102.97 426.8V438.6M103.22 412.8V438.6M103.47 422.9V462.0M103.72 422.0V437.6M103.97 425.6V433.1M104.22 414.7V437.9M104.47 424.3V436.4M105.72 420.8V440.0M105.97 420.8V439.7M106.22 422.1V445.5M106.47 427.3V434.1M108.72 400.8V421.4M108.97 405.4V415.4M109.22 406.7V427.0M109.47 395.7V417.1M109.72 401.6V421.5M109.97 404.6V410.6M110.22 375.7V417.0M110.47 398.1V417.0M110.72 395.5V406.8M110.97 370.7V406.5M111.22 370.7V404.0M111.47 390.8V400.2M111.72 383.6V408.8M111.97 400.7V405.3M112.22 392.9V414.7M112.47 400.8V410.0M113.72 388.9V412.3M113.97 404.5V420.2M114.22 376.0V416.5M114.47 373.2V416.5M115.72 395.9V422.7M115.97 390.3V422.9M116.22 390.3V402.6M116.47 395.6V404.7M118.72 394.2V401.4M118.97 395.4V398.6M119.22 395.6V409.4M119.47 396.1V414.3M123.72 390.7V414.8M123.97 397.1V406.8M124.22 387.4V408.7M124.47 387.4V406.8M124.72 395.5V413.9M124.97 392.2V407.5M125.22 389.2V395.6M125.47 387.0V398.4M126.72 368.7V387.5M126.97 383.9V416.1M127.22 403.5V416.1M127.47 389.1V409.9M128.72 401.6V417.8M128.97 397.1V411.7M129.22 381.8V417.9M129.47 381.8V415.0M129.72 393.7V415.0M129.97 395.4V409.4M130.22 388.3V420.1M130.47 402.3V414.3M131.72 404.1V416.2M131.97 397.4V408.2M132.22 385.7V412.6M132.47 394.0V435.6M132.72 401.5V435.6M132.97 407.8V426.2M133.22 403.6V425.6M133.47 410.2V426.0M133.72 397.3V426.7M133.97 405.1V440.9M134.22 407.6V447.3M134.47 404.5V424.4M135.72 404.8V416.1M135.97 404.1V416.5M136.22 399.4V424.4M136.47 397.5V424.4M136.72 406.0V416.6M136.97 394.0V426.9M137.22 399.8V420.7M137.47 399.8V410.5M137.72 395.6V415.5M137.97 394.0V411.6M138.22 401.9V411.6M138.47 387.7V411.5M139.72 403.8V419.4M139.97 399.9V427.1M140.22 407.2V424.9M140.47 406.3V419.1M140.72 406.3V434.2M140.97 383.6V412.2M141.22 395.7V413.2M141.47 389.6V405.3M141.72 389.6V403.4M141.97 395.6V418.2M142.22 396.5V421.1M142.47 398.5V408.3M142.72 385.9V414.8M142.97 385.9V420.7M143.22 393.7V407.4M143.47 387.8V413.8M143.72 390.0V407.3M143.97 390.0V417.2M144.22 396.4V424.8M144.47 399.8V414.4M144.72 406.9V424.4M144.97 375.8V424.4M145.22 392.8V416.2M145.47 401.7V417.0M145.72 400.9V414.8M145.97 400.9V419.4M146.22 400.1V417.8M146.47 399.1V429.6M146.72 399.1V419.9M146.97 419.2V426.8M147.22 395.5V426.8M147.47 393.6V432.2M147.72 409.2V417.3M147.97 409.2V422.9M148.22 401.5V422.1M148.47 396.4V435.8M149.72 403.0V424.6M149.97 403.4V424.6M150.22 394.4V417.7M150.47 398.3V419.8M150.72 386.0V410.5M150.97 395.9V410.3M151.22 398.3V405.3M151.47 399.4V414.9M151.72 398.0V417.3M151.97 400.6V429.1M152.22 393.3V429.1M152.47 393.3V402.1M152.72 395.8V413.1M152.97 386.2V409.0M153.22 393.8V405.4M153.47 375.4V401.5M154.72 390.5V427.0M154.97 381.4V392.7M155.22 388.4V410.1M155.47 389.1V410.4M155.72 397.9V416.5M155.97 397.9V413.8M156.22 391.0V416.3M156.47 391.0V417.2M157.72 388.1V397.3M157.97 386.3V398.7M158.22 388.0V409.4M158.47 392.8V409.4M158.72 389.3V400.7M158.97 390.8V417.5M159.22 386.9V413.9M159.47 390.2V408.9M160.72 401.1V413.1M160.97 404.8V423.3M161.22 400.2V407.9M161.47 392.4V400.2M163.72 420.3V431.2M163.97 407.0V420.3M164.22 396.8V412.9M164.47 394.3V408.3M164.72 391.6V396.3M164.97 391.6V412.2M165.22 393.0V413.1M165.47 394.8V413.1M165.72 403.6V410.6M165.97 404.8V410.6M166.22 386.3V415.7M166.47 380.5V392.8M166.72 380.2V399.4M166.97 388.0V394.0M167.22 392.1V400.8M167.47 390.8V402.5M167.72 390.8V413.4M167.97 387.7V413.4M168.22 394.3V405.3M168.47 394.3V423.0M169.72 380.4V400.6M169.97 380.4V420.5M170.22 380.6V403.5M170.47 384.9V403.5M171.72 358.3V399.8M171.97 377.5V403.0M172.22 372.8V383.1M172.47 380.9V404.5M176.72 394.6V432.4M176.97 387.2V415.3M177.22 395.1V413.3M177.47 386.2V419.0M177.72 386.2V408.3M177.97 366.0V406.8M178.22 392.3V412.6M178.47 381.2V412.6M178.72 381.2V394.5M178.97 371.3V396.3M179.22 371.3V384.4M179.47 369.7V377.1M179.72 370.8V394.8M179.97 377.4V395.4M180.22 370.6V395.4M180.47 354.0V387.3M180.72 362.7V379.0M180.97 363.3V391.4M181.22 361.5V391.4M181.47 361.5V388.6M181.72 387.6V410.4M181.97 387.6V419.3M182.22 392.8V406.1M182.47 376.9V392.8M182.72 390.9V396.4M182.97 392.8V415.2M183.22 371.4V401.7M183.47 391.9V408.8M184.72 382.4V407.0M184.97 379.0V393.6M185.22 370.4V393.6M185.47 373.2V392.4M185.72 380.3V386.8M185.97 375.2V409.2M186.22 375.2V407.7M186.47 387.9V402.4M187.72 379.8V416.3M187.97 389.4V418.5M188.22 400.7V417.8M188.47 393.2V417.6M188.72 374.7V405.0M188.97 374.7V415.4M189.22 397.7V411.3M189.47 398.0V434.2M189.72 405.0V416.5M189.97 405.0V420.3M190.22 383.9V427.6M190.47 383.9V421.7M190.72 395.7V407.9M190.97 390.5V420.7M191.22 379.8V391.8M191.47 369.9V402.5M191.72 369.0V402.5M191.97 369.0V394.5M192.22 374.5V397.5M192.47 382.6V390.1M193.72 378.5V398.9M193.97 375.3V409.2M194.22 381.0V399.6M194.47 382.6V422.6M194.72 381.3V391.9M194.97 381.3V397.8M195.22 385.3V397.8M195.47 371.4V389.0M195.72 374.6V397.9M195.97 396.5V404.1M196.22 365.4V402.4M196.47 382.5V417.1M196.72 401.1V417.1M196.97 396.9V424.7M197.22 390.1V409.3M197.47 390.1V430.5M197.72 385.9V409.6M197.97 392.7V403.7M198.22 392.7V426.3M198.47 394.3V419.9M199.72 396.1V418.9M199.97 394.1V418.9M200.22 404.5V413.9M200.47 399.4V413.9M201.72 392.2V414.3M201.97 392.2V403.5M202.22 387.6V415.0M202.47 402.8V417.6M203.72 399.9V419.0M203.97 399.9V416.8M204.22 402.4V417.1M204.47 393.2V408.7M204.72 406.7V416.0M204.97 400.2V409.1M205.22 395.0V411.9M205.47 395.0V415.8M205.72 400.8V421.6M205.97 400.8V414.0M206.22 412.3V420.3M206.47 414.7V422.5M206.72 393.1V430.5M206.97 383.4V430.5M207.22 384.6V421.7M207.47 400.4V412.0M208.72 429.7V444.1M208.97 421.8V440.5M209.22 407.8V438.8M209.47 418.8V437.2M211.72 396.3V441.7M211.97 392.5V416.6M212.22 386.2V417.0M212.47 393.5V417.5M214.72 408.0V416.0M214.97 402.7V426.1M215.22 404.2V423.1M215.47 399.4V423.9M215.72 399.4V430.0M215.97 406.7V419.5M216.22 404.8V412.4M216.47 409.2V417.4M216.72 403.2V420.4M216.97 416.9V421.8M217.22 408.4V425.3M217.47 408.1V425.5M220.72 396.7V411.4M220.97 396.7V407.0M221.22 399.4V416.3M221.47 405.3V414.8M221.72 402.7V416.3M221.97 408.9V416.3M222.22 389.7V414.0M222.47 389.7V418.2M222.72 410.7V428.7M222.97 409.9V428.7M223.22 413.0V442.3M223.47 419.4V439.8M224.72 408.9V438.5M224.97 396.3V438.5M225.22 396.3V429.7M225.47 414.7V451.8M225.72 392.9V424.7M225.97 413.0V427.8M226.22 407.5V427.8M226.47 410.9V416.4M227.72 411.8V425.8M227.97 409.6V426.6M228.22 415.1V435.4M228.47 415.1V438.3M229.72 420.0V438.4M229.97 420.0V433.5M230.22 424.3V439.9M230.47 408.3V439.9M230.72 425.2V435.7M230.97 420.1V427.9M231.22 411.1V438.3M231.47 408.8V419.7M231.72 408.8V426.6M231.97 409.0V447.2M232.22 407.8V422.4M232.47 398.0V432.8M233.72 397.2V421.3M233.97 404.7V421.4M234.22 388.1V418.2M234.47 407.1V417.2M234.72 412.6V423.8M234.97 408.7V429.8M235.22 415.6V426.5M235.47 414.1V445.6M235.72 383.9V445.6M235.97 383.9V430.0M236.22 401.0V413.0M236.47 401.8V426.6M236.72 400.9V423.5M236.97 398.5V424.7M237.22 418.7V427.4M237.47 396.3V418.7M237.72 406.6V423.0M237.97 405.9V424.0M238.22 380.9V407.7M238.47 380.9V417.4M238.72 398.0V422.1M238.97 402.9V422.1M239.22 400.5V417.9M239.47 400.7V424.3M240.72 404.0V421.5M240.97 407.7V425.4M241.22 389.0V425.4M241.47 394.6V405.8M241.72 398.3V426.6M241.97 415.3V426.6M242.22 393.6V419.2M242.47 397.6V411.2M242.72 395.3V404.0M242.97 400.8V424.3M243.22 398.7V415.2M243.47 405.3V415.4M243.72 400.3V409.9M243.97 393.4V409.7M244.22 393.4V413.4M244.47 399.6V413.4M248.72 410.7V434.6M248.97 406.0V447.8M249.22 406.0V416.4M249.47 401.2V431.6M249.72 401.2V441.8M249.97 419.6V441.8M250.22 408.2V429.5M250.47 403.9V429.5M250.72 408.4V419.3M250.97 393.6V427.4M251.22 403.5V412.7M251.47 397.0V409.7M251.72 395.4V426.9M251.97 389.9V426.5M252.22 395.0V419.3M252.47 390.0V412.8M252.72 383.5V426.9M252.97 386.6V405.4M253.22 386.6V419.9M253.47 393.8V419.9M253.72 393.8V414.6M253.97 390.2V402.5M254.22 365.7V405.7M254.47 376.7V409.7M254.72 382.1V415.5M254.97 380.1V430.1M255.22 396.0V430.1M255.47 382.8V428.4M257.73 397.5V408.8M257.98 392.1V413.7M258.23 399.4V419.6M258.48 402.7V419.6M258.73 405.2V418.7M258.98 399.4V411.3M259.23 403.4V420.9M259.48 398.1V431.2M259.73 398.1V430.1M259.98 404.3V444.9M260.23 408.3V427.9M260.48 408.3V439.0M260.73 412.2V436.6M260.98 415.6V436.6M261.23 403.8V415.9M261.48 406.8V415.9M261.73 402.8V421.6M261.98 402.6V424.2M262.23 402.6V424.4M262.48 393.8V424.4M262.73 395.1V419.9M262.98 398.9V429.0M263.23 398.7V428.9M263.48 411.3V423.7M264.73 419.4V441.6M264.98 407.5V438.0M265.23 407.5V429.3M265.48 410.7V424.5M265.73 391.1V410.7M265.98 396.6V410.1M266.23 405.0V412.4M266.48 375.5V412.4M266.73 375.5V421.8M266.98 383.0V421.8M267.23 383.0V440.9M267.48 395.0V440.9M267.73 399.6V416.9M267.98 401.7V423.5M268.23 401.7V430.8M268.48 408.5V424.8M270.73 386.8V400.6M270.98 395.3V401.2M271.23 401.2V416.8M271.48 390.8V420.7M273.73 376.8V404.3M273.98 388.0V410.1M274.23 375.5V410.1M274.48 393.7V409.2M274.73 399.6V412.5M274.98 402.1V422.7M275.23 407.7V421.6M275.48 398.8V425.7M277.73 394.6V431.3M277.98 384.4V409.2M278.23 389.0V401.5M278.48 388.8V402.5M278.73 399.2V404.3M278.98 402.5V414.7M279.23 403.4V416.7M279.48 395.1V411.4M279.73 395.1V401.0M279.98 399.1V416.8M280.23 394.1V404.3M280.48 365.1V413.1M280.73 365.1V400.3M280.98 390.6V419.3M281.23 397.9V407.5M281.48 382.9V398.9M281.73 385.1V417.8M281.98 392.5V409.1M282.23 392.5V427.3M282.48 406.5V421.3M282.73 403.2V425.8M282.98 403.2V424.1M283.23 401.2V419.0M283.48 400.2V410.1M283.73 397.3V403.1M283.98 390.9V406.6M284.23 392.2V406.6M284.48 382.6V406.2M284.73 382.6V399.4M284.98 376.3V398.4M285.23 380.5V394.2M285.48 381.4V389.4M286.73 362.7V393.9M286.98 362.7V406.5M287.23 388.8V400.8M287.48 383.1V410.0M287.73 383.1V411.0M287.98 388.2V404.4M288.23 396.2V400.2M288.48 396.5V398.5M288.73 389.9V406.4M288.98 389.9V405.5M289.23 384.0V410.8M289.48 362.9V399.3M289.73 373.0V384.3M289.98 374.4V396.6M290.23 378.2V389.1M290.48 373.9V388.1M292.73 385.1V403.5M292.98 374.0V403.0M293.23 379.4V385.3M293.48 374.4V385.3M293.73 377.6V392.5M293.98 382.0V401.3M294.23 385.6V392.0M294.48 371.0V404.9M296.73 395.0V419.9M296.98 389.5V397.5M297.23 369.5V395.4M297.48 377.0V397.6M297.73 357.9V401.7M297.98 357.9V387.8M298.23 378.0V395.9M298.48 381.3V396.9M299.73 377.0V404.8M299.98 376.2V404.8M300.23 383.3V394.5M300.48 361.2V384.9M300.73 361.2V412.4M300.98 360.3V389.4M301.23 363.3V385.8M301.48 382.5V403.9M301.73 370.6V397.0M301.98 368.1V397.0M302.23 378.9V391.5M302.48 382.1V396.2M302.73 375.8V396.2M302.98 371.9V391.7M303.23 361.9V376.5M303.48 362.7V383.8M303.73 377.9V396.5M303.98 352.6V396.5M304.23 365.9V389.3M304.48 360.8V392.0M304.73 372.1V392.0M304.98 358.5V378.4M305.23 358.5V384.7M305.48 367.1V384.7M305.73 367.1V393.4M305.98 367.4V396.8M306.23 367.8V394.7M306.48 369.3V388.5M307.73 386.7V404.0M307.98 381.7V404.3M308.23 383.3V394.0M308.48 369.7V394.0M309.73 363.3V376.6M309.98 363.8V391.4M310.23 383.8V391.4M310.48 375.5V384.6M310.73 381.3V389.8M310.98 369.5V392.8M311.23 356.4V392.8M311.48 356.4V386.3M312.73 373.2V394.3M312.98 365.4V374.0M313.23 365.4V381.4M313.48 374.4V383.7M313.73 355.3V382.2M313.98 372.9V382.2M314.23 367.5V379.0M314.48 345.9V377.9M314.73 359.2V369.0M314.98 359.2V374.2M315.23 361.0V387.3M315.48 369.0V387.3M316.73 352.7V377.9M316.98 369.0V403.0M317.23 343.3V381.2M317.48 357.5V388.4M317.73 364.8V388.4M317.98 379.7V385.5M318.23 376.1V405.0" fill="none" stroke="#ff0000" stroke-width="0.850" stroke-opacity="1.0"/>
<path d="M63.73 400.3V418.7M63.98 389.4V410.6M64.22 355.2V397.6M64.47 355.2V387.1M65.72 364.0V385.5M65.97 364.0V392.7M66.22 355.4V371.2M66.47 371.2V378.3M71.72 364.3V378.1M71.97 355.8V389.0M72.22 376.8V389.0M72.47 368.3V385.3M80.72 371.0V400.0M80.97 351.3V400.0M81.22 373.9V391.6M81.47 372.4V391.6M83.72 370.6V385.7M83.97 365.9V382.0M84.22 365.9V391.7M84.47 381.9V389.8M85.72 368.1V391.9M85.97 370.3V397.4M86.22 381.6V397.4M86.47 381.9V392.8M92.72 377.0V414.1M92.97 391.7V419.4M93.22 391.7V414.2M93.47 367.2V414.2M94.72 394.9V412.0M94.97 392.1V412.4M95.22 394.9V411.5M95.47 406.1V421.8M100.72 409.8V420.0M100.97 402.1V430.6M101.22 401.7V412.5M101.47 404.3V421.0M104.72 423.0V436.4M104.97 413.2V449.4M105.22 425.8V448.4M105.47 433.1V459.2M106.72 425.6V437.9M106.97 434.4V463.3M107.22 418.2V445.6M107.47 421.0V440.4M107.72 418.5V430.9M107.97 409.6V436.1M108.22 416.9V426.5M108.47 410.6V416.9M112.72 397.6V409.3M112.97 408.2V437.3M113.22 392.1V437.3M113.47 386.8V402.5M114.72 392.8V433.9M114.97 392.8V433.9M115.22 399.1V435.2M115.47 399.1V418.5M116.72 384.0V420.7M116.97 384.0V397.4M117.22 397.4V408.7M117.47 372.0V408.7M117.72 372.0V407.9M117.97 388.9V405.9M118.22 388.1V407.6M118.47 388.1V410.7M119.72 380.2V417.4M119.97 387.6V412.7M120.22 400.3V412.9M120.47 402.9V421.4M120.72 403.6V414.0M120.97 405.7V434.2M121.22 401.6V434.2M121.47 392.7V419.2M121.72 392.7V407.4M121.97 402.4V416.6M122.22 387.5V414.6M122.47 401.8V414.6M122.72 409.0V429.9M122.97 401.4V416.1M123.22 400.9V418.4M123.47 393.8V416.9M125.72 393.0V399.8M125.97 392.9V404.0M126.22 376.5V404.0M126.47 382.0V402.2M127.72 391.6V435.0M127.97 398.8V420.0M128.22 388.8V417.3M128.47 388.8V417.8M130.72 394.3V405.6M130.97 402.3V410.2M131.22 403.1V413.2M131.47 393.8V419.7M134.72 408.5V436.7M134.97 408.5V431.6M135.22 405.2V418.8M135.47 400.3V418.8M138.72 395.9V424.9M138.97 394.9V421.1M139.22 401.8V428.1M139.47 403.0V428.1M148.72 396.4V424.5M148.97 401.5V423.6M149.22 401.5V427.3M149.47 404.9V428.3M153.72 388.6V397.3M153.97 390.1V401.9M154.22 373.3V410.2M154.47 383.6V427.0M156.72 392.3V410.9M156.97 386.9V410.9M157.22 375.6V405.8M157.47 375.6V400.2M159.72 402.2V418.8M159.97 394.7V402.7M160.22 394.7V407.9M160.47 388.7V411.6M161.72 393.9V420.0M161.97 393.9V419.5M162.22 389.0V424.8M162.47 406.1V424.8M162.72 409.8V424.4M162.97 409.8V433.6M163.22 416.8V430.3M163.47 421.3V438.5M168.72 379.1V423.0M168.97 388.5V409.4M169.22 379.4V413.2M169.47 377.3V400.6M170.72 371.6V400.5M170.97 371.6V396.9M171.22 388.6V396.9M171.47 358.3V398.6M172.72 368.7V420.3M172.97 391.0V420.3M173.22 390.6V410.7M173.47 383.1V410.7M173.72 383.1V402.5M173.97 390.2V419.3M174.22 387.4V405.8M174.47 402.7V413.8M174.72 390.8V404.5M174.97 383.7V413.9M175.22 359.9V394.9M175.47 390.5V405.3M175.72 382.2V390.5M175.97 382.2V407.3M176.22 385.0V409.4M176.47 400.1V432.4M183.72 388.3V409.0M183.97 388.3V401.7M184.22 380.7V394.1M184.47 380.7V403.7M186.72 393.5V413.9M186.97 393.1V410.4M187.22 375.5V407.6M187.47 387.4V409.1M192.72 379.1V397.7M192.97 379.1V399.3M193.22 373.3V402.3M193.47 373.3V394.9M198.72 402.1V411.6M198.97 404.1V412.6M199.22 396.2V412.6M199.47 396.2V421.9M200.72 394.9V419.1M200.97 392.3V417.8M201.22 399.8V422.1M201.47 390.5V414.2M202.72 385.4V414.6M202.97 399.4V419.6M203.22 399.4V424.4M203.47 413.7V424.4M207.72 395.2V403.5M207.97 402.1V441.5M208.22 393.7V441.5M208.47 421.0V444.1M209.72 418.5V425.2M209.97 412.5V437.5M210.22 424.0V437.5M210.47 406.6V424.0M210.72 402.9V428.8M210.97 399.5V417.9M211.22 407.2V445.7M211.47 399.6V418.3M212.72 390.5V414.8M212.97 397.4V414.8M213.22 387.7V399.8M213.47 397.7V404.9M213.72 392.9V407.0M213.97 399.2V422.7M214.22 399.2V421.7M214.47 401.6V421.7M217.72 401.9V421.6M217.97 407.9V432.3M218.22 402.0V431.1M218.47 408.6V422.0M218.72 397.7V408.6M218.97 401.4V415.6M219.22 398.1V420.3M219.47 400.4V420.3M219.72 398.9V420.0M219.97 398.9V434.3M220.22 409.6V433.2M220.47 396.7V421.7M223.72 409.1V419.4M223.97 409.1V422.7M224.22 414.9V432.9M224.47 405.6V432.9M226.72 404.3V430.9M226.97 424.8V430.6M227.22 408.0V429.9M227.47 408.0V427.1M228.72 419.4V439.9M228.97 399.3V429.9M229.22 422.6V437.3M229.47 407.8V438.4M232.72 390.9V431.8M232.97 405.5V417.4M233.22 405.4V423.8M233.47 404.4V416.2M239.72 403.8V425.7M239.97 383.1V411.7M240.22 399.9V418.6M240.47 399.9V417.3M244.72 399.8V420.3M244.97 403.4V413.2M245.22 390.9V413.4M245.47 408.2V417.6M245.72 399.6V421.4M245.97 407.8V423.8M246.22 382.4V438.7M246.47 380.5V411.6M246.72 396.0V423.4M246.97 400.5V423.4M247.22 400.5V428.8M247.47 400.0V438.4M247.72 404.5V433.0M247.97 411.4V441.1M248.22 402.5V422.5M248.47 397.2V434.4M255.72 382.8V423.1M255.97 384.9V405.3M256.23 384.9V421.1M256.48 389.7V415.9M256.73 398.1V417.7M256.98 391.2V417.7M257.23 396.2V413.0M257.48 405.6V414.7M263.73 404.2V425.3M263.98 401.9V435.4M264.23 419.3V437.7M264.48 414.5V423.9M268.73 391.8V429.2M268.98 391.8V430.0M269.23 406.9V430.0M269.48 406.9V440.7M269.73 401.2V413.3M269.98 396.1V413.3M270.23 392.1V401.4M270.48 386.8V423.8M271.73 409.2V443.6M271.98 408.3V418.2M272.23 408.3V441.0M272.48 408.1V441.0M272.73 408.3V431.8M272.98 401.1V416.3M273.23 401.4V420.0M273.48 385.9V403.8M275.73 398.8V416.0M275.98 383.8V416.0M276.23 383.8V411.1M276.48 390.2V421.8M276.73 388.6V410.4M276.98 388.6V410.1M277.23 385.4V406.9M277.48 385.4V418.7M285.73 373.1V388.9M285.98 365.5V399.3M286.23 373.4V409.8M286.48 373.4V404.4M290.73 374.7V399.7M290.98 377.7V399.7M291.23 375.9V381.9M291.48 357.0V401.8M291.73 365.8V392.7M291.98 362.9V392.7M292.23 362.9V386.8M292.48 373.9V389.1M294.73 371.0V404.7M294.98 363.4V404.7M295.23 382.1V393.2M295.48 389.0V399.3M295.73 380.1V399.3M295.98 386.0V405.4M296.23 395.0V405.4M296.48 391.4V414.6M298.73 382.4V395.0M298.98 382.4V395.1M299.23 363.5V395.1M299.48 384.9V401.5M306.73 380.1V402.4M306.98 384.8V402.1M307.23 374.3V395.8M307.48 374.3V411.5M308.73 368.7V379.8M308.98 367.6V378.7M309.23 368.3V376.1M309.48 363.3V397.0M311.73 369.7V388.4M311.98 374.9V388.4M312.23 382.3V385.7M312.48 369.3V388.9M315.73 359.6V381.1M315.98 359.6V384.1M316.23 371.1V384.1M316.48 358.9V378.8" fill="none" stroke="#ff0000" stroke-width="0.850" stroke-opacity="1.0"/>
<path d="M57.73 417.7V435.9M57.98 406.9V417.7M58.23 406.4V415.3M58.48 406.4V438.0M59.73 390.6V405.2M59.98 393.3V405.2M60.23 390.7V410.2M60.48 382.8V411.4M60.73 381.1V413.2M60.98 392.1V404.5M61.23 391.9V410.0M61.48 397.8V419.4M62.73 387.3V415.1M62.98 387.3V404.8M63.23 383.1V394.5M63.48 383.1V414.7M64.72 377.6V406.0M64.97 365.7V406.0M65.22 365.7V400.2M65.47 384.6V394.6M68.72 343.0V384.3M68.97 332.3V363.4M69.22 346.1V377.3M69.47 345.8V377.3M69.72 354.9V383.0M69.97 336.5V365.4M70.22 336.5V379.3M70.47 369.0V377.1M71.72 378.2V406.9M71.97 376.7V406.9M72.22 378.3V401.7M72.47 378.3V401.8M77.72 397.9V416.5M77.97 414.4V427.3M78.22 409.3V415.9M78.47 395.1V424.9M83.72 402.0V418.0M83.97 402.0V416.8M84.22 401.0V426.7M84.47 401.0V429.4M86.72 407.6V428.9M86.97 417.3V435.2M87.22 418.2V437.9M87.47 414.9V437.9M89.72 405.9V421.2M89.97 403.3V421.2M90.22 396.0V412.6M90.47 400.8V415.2M93.72 386.6V413.8M93.97 375.6V388.6M94.22 371.2V387.3M94.47 380.8V407.7M95.72 378.9V400.6M95.97 378.9V405.6M96.22 386.5V395.3M96.47 387.0V405.5M98.72 369.8V407.9M98.97 399.5V409.8M99.22 395.2V409.8M99.47 394.2V408.9M110.72 408.1V426.1M110.97 403.8V426.1M111.22 385.2V418.9M111.47 385.2V430.1M114.72 431.3V437.1M114.97 431.4V442.3M115.22 426.5V438.0M115.47 432.2V444.2M116.72 415.9V439.0M116.97 405.3V429.9M117.22 416.2V427.6M117.47 408.4V428.4M119.72 407.2V428.8M119.97 407.2V422.9M120.22 409.8V430.7M120.47 420.7V447.7M126.72 413.2V434.6M126.97 418.5V438.9M127.22 411.7V424.1M127.47 411.7V439.9M127.72 418.1V435.9M127.97 410.6V426.0M128.22 409.2V434.7M128.47 409.2V431.2M128.72 409.1V426.3M128.97 399.0V426.3M129.22 405.3V410.4M129.47 406.6V420.7M133.72 374.9V382.5M133.97 374.9V409.3M134.22 356.2V409.3M134.47 370.2V397.2M134.72 366.1V392.9M134.97 384.3V411.4M135.22 378.2V411.4M135.47 387.5V392.2M138.72 355.7V381.5M138.97 361.9V385.2M139.22 364.4V373.1M139.47 342.6V389.3M140.72 373.1V392.7M140.97 367.8V377.5M141.22 368.3V382.1M141.47 369.1V394.6M145.72 370.2V379.5M145.97 348.7V370.2M146.22 334.9V391.4M146.47 360.4V391.4M148.72 357.6V395.6M148.97 355.5V401.7M149.22 364.5V381.7M149.47 377.8V399.3M151.72 357.1V384.6M151.97 372.6V380.8M152.22 361.0V376.4M152.47 361.0V384.9M154.72 353.4V378.2M154.97 356.7V376.1M155.22 372.6V379.7M155.47 370.1V379.0M155.72 363.2V382.8M155.97 363.2V382.4M156.22 358.8V386.3M156.47 364.3V376.0M158.72 355.5V387.5M158.97 344.4V387.4M159.22 344.4V366.3M159.47 359.6V366.3M162.72 357.5V381.0M162.97 357.2V381.0M163.22 338.2V358.1M163.47 338.2V376.3M163.72 349.9V361.0M163.97 353.0V368.5M164.22 356.8V360.8M164.47 358.6V372.6M165.72 350.6V383.3M165.97 361.6V383.3M166.22 364.9V389.8M166.47 363.6V370.0M173.72 358.0V381.7M173.97 355.8V381.7M174.22 356.9V377.7M174.47 358.7V379.6M175.72 347.7V371.4M175.97 347.7V378.3M176.22 365.7V368.0M176.47 351.6V378.8M176.72 358.3V378.8M176.97 340.6V375.7M177.22 360.4V375.7M177.47 356.1V372.7M177.72 359.9V374.4M177.97 354.4V373.4M178.22 333.4V372.0M178.47 333.4V368.2M181.72 362.2V379.9M181.97 366.0V367.2M182.22 343.1V378.6M182.47 345.5V382.2M182.72 354.9V376.9M182.97 357.7V376.9M183.22 354.1V368.5M183.47 354.1V362.1M186.72 342.8V379.9M186.97 360.4V379.9M187.22 358.7V387.7M187.47 349.6V378.1M187.72 349.6V366.1M187.97 356.1V377.1M188.22 356.1V373.9M188.47 367.7V378.6M188.72 354.7V390.0M188.97 366.7V392.7M189.22 353.8V380.1M189.47 353.8V376.8M190.72 368.1V384.4M190.97 347.4V368.1M191.22 347.4V370.9M191.47 350.9V367.2M193.72 365.2V385.1M193.97 371.1V385.5M194.22 371.1V383.0M194.47 365.3V402.1M195.72 360.3V383.2M195.97 365.0V377.6M196.22 361.2V374.7M196.47 360.8V379.0M196.72 360.8V397.2M196.97 368.4V377.6M197.22 367.9V396.6M197.47 366.7V373.0M201.72 370.0V385.1M201.97 358.2V388.9M202.22 357.3V364.4M202.47 359.2V398.8M205.72 377.1V414.3M205.97 375.4V393.0M206.22 363.2V386.7M206.47 363.2V388.0M212.72 373.8V395.4M212.97 380.2V395.7M213.22 371.4V404.7M213.47 389.6V404.7M213.72 390.6V404.4M213.97 386.6V398.5M214.22 383.1V398.5M214.47 378.3V393.3M217.72 376.0V389.8M217.97 380.6V395.5M218.22 374.1V381.4M218.47 367.9V397.1M222.72 361.0V376.3M222.97 358.4V374.8M223.22 364.5V383.1M223.47 364.2V383.1M233.72 383.2V390.7M233.97 370.2V390.7M234.22 384.0V399.6M234.47 358.0V402.6M234.72 349.4V392.6M234.97 349.4V387.2M235.22 375.0V387.2M235.47 376.5V380.6M236.72 376.3V384.3M236.97 379.6V391.7M237.22 377.4V385.3M237.47 356.8V388.4M245.72 357.5V407.4M245.97 357.5V395.0M246.22 363.1V395.0M246.47 363.8V379.2M247.72 370.0V395.0M247.97 373.4V381.2M248.22 357.5V385.4M248.47 344.7V387.9M248.72 353.9V375.7M248.97 361.2V379.3M249.22 367.2V373.9M249.47 366.3V378.8M250.72 365.5V384.2M250.97 363.0V377.4M251.22 363.0V387.0M251.47 362.2V379.1M253.72 338.2V363.5M253.97 349.1V367.0M254.22 350.8V378.5M254.47 352.1V374.4M254.72 351.8V387.4M254.97 337.2V387.5M255.22 362.6V401.1M255.47 359.0V372.7M260.73 367.8V385.2M260.98 353.9V372.2M261.23 353.1V367.1M261.48 345.5V377.8M261.73 360.8V386.0M261.98 354.3V374.9M262.23 354.3V371.0M262.48 358.3V375.1M263.73 345.1V388.2M263.98 345.1V365.1M264.23 328.2V378.8M264.48 342.7V378.8M265.73 340.5V369.4M265.98 353.5V369.4M266.23 349.2V362.5M266.48 339.5V362.5M266.73 339.5V357.4M266.98 318.7V344.0M267.23 336.6V350.2M267.48 350.2V359.1M268.73 361.2V372.0M268.98 361.2V372.9M269.23 361.6V369.3M269.48 359.4V370.9M269.73 354.0V364.4M269.98 354.0V376.7M270.23 360.9V376.7M270.48 357.7V382.0M276.73 359.2V372.7M276.98 355.0V397.4M277.23 347.0V367.1M277.48 343.5V380.7M279.73 342.8V369.0M279.98 350.1V374.6M280.23 350.1V378.3M280.48 368.6V378.5M282.73 347.7V367.8M282.98 355.9V370.2M283.23 345.5V371.6M283.48 345.5V360.2M283.73 360.2V376.8M283.98 358.6V378.9M284.23 364.0V379.7M284.48 363.8V379.7M289.73 371.5V386.8M289.98 375.3V387.6M290.23 360.2V391.3M290.48 371.7V391.3M292.73 389.2V393.7M292.98 377.4V407.2M293.23 380.1V407.2M293.48 374.2V396.5M297.73 358.7V395.1M297.98 364.5V415.2M298.23 369.2V393.6M298.48 368.4V389.1M299.73 356.6V397.9M299.98 365.1V397.9M300.23 361.3V393.5M300.48 377.1V393.5M301.73 387.7V394.6M301.98 358.6V387.7M302.23 364.9V382.0M302.48 377.8V392.7M302.73 374.6V392.7M302.98 367.5V390.1M303.23 367.5V410.4M303.48 371.6V386.2M303.73 380.0V394.0M303.98 380.0V389.2M304.23 382.0V409.4M304.48 368.6V391.5M310.73 375.4V387.6M310.98 384.5V394.1M311.23 381.1V402.1M311.48 373.4V402.1M314.73 388.1V393.1M314.98 384.7V393.1M315.23 383.6V397.0M315.48 377.0V393.3M317.73 388.4V407.9M317.98 383.6V396.1M318.23 383.6V392.2" fill="none" stroke="#0000f4" stroke-width="0.850" stroke-opacity="1.0"/>
</g>
<clipPath id="clipD"><rect x="387.8" y="324.0" width="241.09999999999997" height="161.0"/></clipPath><g clip-path="url(#clipD)">
<path d="M387.93 404.7V414.9M388.18 400.4V412.8M388.43 400.4V431.4M388.68 395.7V431.4M390.93 399.7V418.9M391.18 408.1V427.0M391.43 418.0V427.0M391.68 408.6V427.2M391.93 408.6V433.5M392.18 421.4V433.4M392.43 429.1V436.6M392.68 415.0V439.5M392.93 424.5V435.3M393.18 426.6V442.1M393.43 414.6V443.2M393.68 426.0V443.2M393.93 415.1V434.7M394.18 403.7V434.7M394.43 425.5V426.5M394.68 405.5V425.7M394.93 424.7V436.6M395.18 419.7V436.6M395.43 420.0V434.4M395.68 421.6V429.6M395.93 419.7V433.5M396.18 422.5V436.8M396.43 408.9V437.0M396.68 416.7V437.0M396.93 426.3V439.2M397.18 430.5V439.2M397.43 425.0V432.9M397.68 426.2V436.3M397.93 425.7V438.0M398.18 431.3V452.0M398.43 415.6V443.6M398.68 436.4V443.6M398.93 432.8V449.6M399.18 429.4V447.4M399.43 427.0V447.4M399.68 428.0V438.3M399.93 432.3V438.3M400.18 422.9V432.3M400.43 415.5V433.5M400.68 415.5V428.5M400.93 399.0V419.9M401.18 417.7V432.1M401.43 416.9V430.7M401.68 411.2V427.6M402.93 431.6V452.3M403.18 437.2V452.3M403.43 429.7V450.0M403.68 421.9V450.0M404.93 425.2V439.2M405.18 435.0V445.9M405.43 420.6V445.3M405.68 431.0V438.4M405.93 406.1V436.7M406.18 406.1V438.9M406.43 433.0V444.1M406.68 436.1V446.7M406.93 440.5V454.4M407.18 436.1V454.4M407.43 435.6V448.9M407.68 435.6V450.9M407.93 440.1V451.2M408.18 441.5V449.2M408.43 435.6V448.5M408.68 435.6V464.6M409.93 444.4V454.2M410.18 451.1V460.9M410.43 443.8V460.9M410.68 442.1V454.2M410.93 452.0V459.8M411.18 443.2V459.8M411.43 438.2V462.6M411.68 438.2V457.5M411.93 439.1V453.2M412.18 437.9V448.3M412.43 436.7V444.7M412.68 432.4V450.9M412.93 432.6V434.3M413.18 430.7V447.5M413.43 435.5V448.8M413.68 418.8V439.8M414.93 441.4V460.5M415.18 441.4V450.8M415.43 439.6V449.7M415.68 443.9V472.9M416.93 431.5V448.8M417.18 431.5V448.3M417.43 432.4V448.3M417.68 435.6V446.3M417.93 434.8V444.6M418.18 433.0V441.4M418.43 415.0V444.0M418.68 415.0V456.0M420.93 443.7V450.4M421.18 434.4V449.2M421.43 432.7V439.2M421.68 430.7V439.2M426.93 416.1V429.4M427.18 416.1V427.3M427.43 420.0V423.8M427.68 422.7V433.6M431.93 426.8V436.8M432.18 433.6V439.0M432.43 434.9V444.3M432.68 422.5V440.0M432.93 422.5V444.7M433.18 431.8V443.3M433.43 426.6V443.3M433.68 426.6V441.8M435.93 421.0V437.9M436.18 422.6V455.3M436.43 422.6V439.4M436.68 428.4V436.1M436.93 417.3V440.2M437.18 411.0V428.5M437.43 412.6V433.5M437.68 410.2V432.0M438.93 421.4V436.2M439.18 424.3V436.2M439.43 409.6V431.4M439.68 428.9V434.8M439.93 428.9V437.2M440.18 421.6V438.4M440.43 425.5V438.4M440.68 417.7V432.7M440.93 419.7V435.0M441.18 420.6V429.7M441.43 420.4V439.9M441.68 414.4V439.9M444.93 413.9V444.8M445.18 425.9V432.0M445.43 413.1V428.0M445.68 413.1V435.7M449.93 426.9V446.5M450.18 417.8V453.1M450.43 422.8V453.1M450.68 422.9V433.8M450.93 422.9V439.3M451.18 424.9V449.2M451.43 436.6V441.8M451.68 425.6V439.1M451.93 422.9V437.4M452.18 406.2V437.4M452.43 406.2V428.1M452.68 419.2V433.9M452.93 413.2V433.0M453.18 412.8V420.1M453.43 412.8V431.1M453.68 414.6V434.7M453.93 415.9V431.4M454.18 423.0V443.3M454.43 427.1V444.1M454.68 422.2V444.1M456.93 422.6V443.3M457.18 424.2V450.9M457.43 421.5V450.9M457.68 432.0V435.9M458.93 428.6V442.9M459.18 428.6V454.3M459.43 440.6V450.7M459.68 440.6V445.1M459.93 433.3V445.9M460.18 414.5V436.9M460.43 418.0V430.9M460.68 426.6V444.4M460.93 428.2V450.7M461.18 424.9V443.7M461.43 418.1V440.1M461.68 425.7V440.1M462.93 422.8V446.6M463.18 422.0V443.4M463.43 422.5V453.3M463.68 432.3V453.3M463.93 428.7V439.4M464.18 427.4V439.2M464.43 422.8V431.5M464.68 422.8V442.3M464.93 419.8V438.1M465.18 421.4V431.3M465.43 418.7V445.2M465.68 418.7V435.5M466.93 428.8V436.3M467.18 428.8V444.8M467.43 424.5V444.8M467.68 428.8V445.1M467.93 424.7V445.1M468.18 414.0V442.5M468.43 415.6V434.7M468.68 426.3V437.8M468.93 423.6V437.8M469.18 416.7V428.6M469.43 410.6V428.3M469.68 410.6V435.0M469.93 410.2V439.6M470.18 425.8V439.6M470.43 406.5V434.1M470.68 406.5V422.9M470.93 422.0V434.5M471.18 416.9V429.4M471.43 416.9V438.9M471.68 431.8V438.9M471.93 424.6V436.9M472.18 424.6V436.5M472.43 422.0V443.2M472.68 424.4V440.6M472.93 426.9V440.2M473.18 435.7V445.7M473.43 421.2V437.0M473.68 402.8V432.6M473.93 426.0V435.0M474.18 422.1V435.0M474.43 422.1V431.3M474.68 426.2V432.5M474.93 425.0V436.8M475.18 426.1V455.0M475.43 427.3V455.0M475.68 424.9V437.7M475.93 424.9V444.1M476.18 411.5V445.0M476.43 411.5V445.6M476.68 426.0V438.7M477.93 410.8V434.0M478.18 424.4V434.0M478.43 413.3V427.6M478.68 412.5V427.6M479.93 410.6V423.9M480.18 404.6V423.9M480.43 406.4V423.2M480.68 411.5V426.1M481.93 406.4V431.2M482.18 398.5V425.5M482.43 398.5V431.9M482.68 398.9V424.9M483.93 427.5V440.1M484.18 424.0V439.2M484.43 424.3V438.3M484.68 422.8V434.8M484.93 401.4V427.7M485.18 401.4V416.2M485.43 408.1V424.6M485.68 408.1V426.4M486.93 404.8V423.3M487.18 404.8V423.0M487.43 397.1V430.4M487.68 397.1V418.4M487.93 411.0V429.7M488.18 408.8V422.2M488.43 410.5V418.8M488.68 412.2V423.9M490.93 405.5V413.2M491.18 402.9V414.8M491.43 409.4V420.2M491.68 409.4V425.7M491.93 397.6V425.7M492.18 395.2V415.5M492.43 405.9V417.8M492.68 398.6V417.8M494.93 401.3V424.2M495.18 393.2V424.2M495.43 400.8V410.5M495.68 398.8V406.5M497.93 400.3V411.0M498.18 393.3V406.2M498.43 396.5V411.7M498.68 406.3V418.1M498.93 396.7V416.3M499.18 387.9V414.8M499.43 404.7V418.9M499.68 411.5V440.2M499.93 411.5V421.8M500.18 409.6V415.7M500.43 407.1V422.4M500.68 407.1V412.7M500.93 395.2V412.7M501.18 395.2V410.2M501.43 398.2V405.5M501.68 394.4V409.9M504.93 379.3V394.1M505.18 389.6V401.0M505.43 387.5V401.0M505.68 387.5V406.0M505.93 394.5V406.0M506.18 376.4V405.9M506.43 399.5V403.3M506.68 394.0V403.3M508.93 379.6V409.7M509.18 373.0V400.5M509.43 373.0V394.4M509.68 384.3V401.3M509.93 389.6V401.3M510.18 391.7V400.8M510.43 384.9V396.3M510.68 384.3V408.6M511.93 384.8V387.4M512.17 384.8V401.7M512.42 393.6V400.5M512.67 394.4V399.2M514.92 391.2V400.6M515.17 382.9V400.6M515.42 382.9V395.9M515.67 386.9V397.0M524.92 395.0V414.8M525.17 399.3V421.7M525.42 386.3V418.5M525.67 386.3V404.1M526.92 389.9V402.9M527.17 393.9V405.2M527.42 388.0V406.5M527.67 388.0V418.7M527.92 397.2V411.5M528.17 402.5V421.7M528.42 409.0V421.7M528.67 399.8V413.8M528.92 391.6V426.0M529.17 394.3V426.0M529.42 394.3V426.2M529.67 409.1V420.9M530.92 406.6V418.0M531.17 406.6V428.0M531.42 411.0V438.1M531.67 411.0V425.6M531.92 419.5V426.6M532.17 415.8V433.1M532.42 421.4V444.3M532.67 419.2V429.5M532.92 425.4V435.4M533.17 412.9V426.8M533.42 412.9V439.5M533.67 416.3V430.0M535.92 411.0V426.2M536.17 417.0V441.4M536.42 422.4V432.3M536.67 412.5V432.3M536.92 393.4V413.7M537.17 397.2V419.6M537.42 406.4V419.9M537.67 412.7V437.6M537.92 421.1V437.6M538.17 409.5V426.8M538.42 409.5V442.9M538.67 420.1V436.8M538.92 422.1V432.6M539.17 407.6V439.2M539.42 413.9V439.2M539.67 413.9V431.1M539.92 417.2V429.0M540.17 417.4V424.4M540.42 416.3V425.8M540.67 409.4V426.8M540.92 409.4V435.3M541.17 414.0V419.8M541.42 396.3V419.9M541.67 396.3V425.0M541.92 403.7V425.0M542.17 405.9V419.0M542.42 398.4V417.4M542.67 408.4V422.3M542.92 409.0V418.0M543.17 409.0V423.0M543.42 411.2V423.0M543.67 414.0V423.4M545.92 406.3V426.6M546.17 411.9V426.6M546.42 403.3V416.3M546.67 402.1V412.7M546.92 397.2V411.8M547.17 402.0V417.7M547.42 402.0V426.2M547.67 403.0V417.2M547.92 403.0V419.2M548.17 404.0V418.4M548.42 404.0V415.4M548.67 400.4V418.3M548.92 394.4V405.3M549.17 394.4V413.8M549.42 394.5V413.8M549.67 387.8V409.1M551.92 400.4V413.9M552.17 387.4V404.6M552.42 402.1V416.2M552.67 398.5V411.6M553.92 398.2V414.0M554.17 397.7V402.6M554.42 402.6V421.7M554.67 392.0V417.5M554.92 396.6V408.3M555.17 394.8V409.4M555.42 394.8V405.7M555.67 398.4V411.9M556.92 381.5V399.7M557.17 386.6V401.7M557.42 396.3V402.2M557.67 400.1V405.3M557.92 398.7V418.1M558.17 394.5V405.4M558.42 392.3V405.4M558.67 391.3V417.1M559.92 392.0V405.0M560.17 399.7V419.7M560.42 413.1V419.7M560.67 404.2V416.8M560.92 398.6V412.4M561.17 398.8V411.4M561.42 398.8V428.3M561.67 398.8V414.6M562.92 386.9V400.4M563.17 388.6V395.8M563.42 389.0V396.1M563.67 383.7V397.8M564.92 388.5V401.9M565.17 387.8V415.8M565.42 387.8V412.3M565.67 392.3V412.8M565.92 392.9V412.8M566.17 392.9V420.5M566.42 391.1V400.0M566.67 386.5V406.8M566.92 391.4V413.2M567.17 398.1V405.8M567.42 387.8V404.4M567.67 387.8V418.7M567.92 395.9V418.7M568.17 394.2V403.5M568.42 393.3V412.2M568.67 393.3V415.5M570.92 393.8V412.9M571.17 388.7V395.1M571.42 379.1V395.1M571.67 379.1V401.6M571.92 384.6V401.6M572.17 384.5V399.6M572.42 395.4V402.6M572.67 384.1V408.2M572.92 404.0V409.0M573.17 403.7V410.2M573.42 401.6V412.7M573.67 400.0V411.8M573.92 401.1V421.1M574.17 396.1V404.0M574.42 384.4V401.8M574.67 393.4V413.0M574.92 379.1V395.0M575.17 380.2V390.0M575.42 390.0V405.6M575.67 386.2V412.1M575.92 385.6V389.8M576.17 386.4V392.6M576.42 388.8V405.6M576.67 391.5V399.9M577.92 395.1V396.5M578.17 393.7V406.4M578.42 397.1V410.8M578.67 394.1V410.8M578.92 394.1V402.7M579.17 391.9V402.7M579.42 390.7V406.3M579.67 399.3V409.1M579.92 388.1V409.1M580.17 375.6V403.8M580.42 375.6V403.6M580.67 392.2V401.5M581.92 394.7V414.9M582.17 394.7V420.4M582.42 405.1V417.2M582.67 400.8V412.3M582.92 399.8V414.5M583.17 399.8V432.3M583.42 419.5V432.3M583.67 392.7V422.6M584.92 385.7V407.2M585.17 400.1V416.5M585.42 372.9V403.9M585.67 372.9V401.9M585.92 393.7V413.2M586.17 384.4V414.1M586.42 379.6V396.6M586.67 379.6V400.1M586.92 385.5V396.6M587.17 395.9V405.9M587.42 391.7V402.6M587.67 389.6V398.5M587.92 392.9V398.5M588.17 394.2V404.5M588.42 398.4V404.5M588.67 390.0V405.6M588.92 392.6V396.4M589.17 391.1V397.3M589.42 397.3V411.0M589.67 379.4V405.3M592.92 389.2V399.8M593.17 389.0V397.3M593.42 380.3V392.0M593.67 384.7V398.2M593.92 381.6V410.7M594.17 393.6V410.7M594.42 398.0V410.2M594.67 391.6V402.7M594.92 402.7V405.9M595.17 400.7V405.9M595.42 398.9V405.7M595.67 390.4V414.5M595.92 375.9V406.6M596.17 395.6V412.6M596.42 373.6V412.6M596.67 382.6V398.4M596.92 392.9V397.1M597.17 383.3V397.1M597.42 386.3V404.2M597.67 386.9V403.1M597.92 390.6V410.5M598.17 388.0V405.2M598.42 392.9V399.5M598.67 387.4V414.0M598.92 405.0V414.0M599.17 407.3V413.9M599.42 399.6V416.0M599.67 390.9V406.9M599.92 399.8V407.3M600.17 399.8V420.6M600.42 401.3V414.8M600.67 395.0V416.7M600.92 392.4V406.7M601.17 385.0V394.0M601.42 391.2V411.2M601.67 387.7V400.4M602.92 395.2V404.9M603.17 393.7V412.4M603.42 387.2V417.2M603.67 387.2V405.9M603.92 396.6V409.7M604.17 388.3V403.6M604.42 400.8V417.1M604.67 403.6V422.8M604.92 400.4V411.0M605.17 403.1V417.5M605.42 405.7V422.5M605.67 406.8V422.4M606.92 399.8V422.5M607.17 384.2V407.2M607.42 390.7V394.8M607.67 375.5V401.4M607.92 397.2V405.2M608.17 397.2V413.7M608.42 396.7V413.7M608.67 398.8V409.0M608.92 396.1V423.3M609.17 391.1V423.3M609.42 392.0V404.4M609.67 403.7V415.1M609.92 379.1V410.7M610.17 379.1V407.7M610.42 390.8V400.6M610.67 397.6V406.3M610.92 397.6V401.1M611.17 392.5V408.8M611.42 392.5V412.6M611.67 395.5V412.6M611.92 389.5V410.4M612.17 378.2V410.3M612.42 396.6V412.7M612.67 388.1V403.2M612.92 383.5V400.3M613.17 383.9V397.7M613.42 389.0V397.7M613.67 388.9V398.0M613.92 388.9V398.4M614.17 375.1V405.2M614.42 387.7V399.5M614.67 392.8V403.2M615.92 384.0V407.6M616.17 379.2V393.8M616.42 384.1V400.5M616.67 388.6V402.8M616.92 390.3V402.8M617.17 387.1V401.0M617.42 387.1V404.2M617.67 394.7V410.6M618.92 402.0V407.9M619.17 388.7V407.9M619.42 388.7V408.1M619.67 400.0V415.8M620.92 367.8V400.3M621.17 386.5V398.6M621.42 381.8V403.2M621.67 381.1V396.4M621.92 396.4V403.2M622.17 386.3V402.7M622.42 391.7V394.9M622.67 388.2V401.6M622.92 377.5V405.2M623.17 386.8V405.8M623.42 390.7V405.8M623.67 401.6V409.9M623.92 392.3V409.6M624.17 386.2V405.6M624.42 385.3V405.6M624.67 386.4V401.1M624.92 397.8V401.2M625.17 387.5V404.0M625.42 375.6V404.0M625.67 382.8V389.4M625.92 382.8V394.9M626.17 371.4V394.9M626.42 357.5V380.5M626.67 357.5V378.9" fill="none" stroke="#0000f4" stroke-width="0.850" stroke-opacity="1.0"/>
<path d="M388.93 367.1V393.4M389.18 363.4V394.4M389.43 379.0V390.9M389.68 380.5V393.9M389.93 380.0V393.6M390.18 377.1V390.6M390.43 378.1V393.7M390.68 385.3V396.3M390.93 379.6V388.3M391.18 377.2V386.2M391.43 377.2V386.1M391.68 368.2V394.9M393.93 381.7V403.1M394.18 387.1V405.8M394.43 376.8V405.8M394.68 378.3V385.4M394.93 385.4V394.5M395.18 381.4V409.9M395.43 371.7V393.1M395.68 377.3V391.0M395.93 386.6V398.2M396.18 385.8V397.4M396.43 380.9V397.0M396.68 375.8V395.5M396.93 379.8V395.9M397.18 389.4V395.9M397.43 385.6V401.0M397.68 385.2V401.0M397.93 386.7V405.1M398.18 386.9V407.0M398.43 386.4V404.2M398.68 388.8V402.2M398.93 386.6V396.4M399.18 385.7V405.9M399.43 384.4V405.9M399.68 384.4V390.8M399.93 377.9V400.0M400.18 372.1V400.3M400.43 372.1V398.8M400.68 377.5V392.5M400.93 376.8V390.0M401.18 383.3V390.3M401.43 381.0V401.9M401.68 387.5V401.9M402.93 382.2V392.8M403.18 382.5V389.7M403.43 382.5V394.6M403.68 380.2V403.9M404.93 397.3V409.9M405.18 379.6V410.1M405.43 379.6V407.2M405.68 388.4V406.7M406.93 387.2V403.7M407.18 390.3V402.0M407.43 400.9V414.8M407.68 398.0V414.8M407.93 398.0V414.5M408.18 398.1V429.5M408.43 405.9V420.6M408.68 405.9V411.0M410.93 386.5V414.2M411.18 401.6V414.2M411.43 401.6V410.2M411.68 402.6V410.3M412.93 412.5V425.4M413.18 414.9V425.9M413.43 404.1V425.6M413.68 404.1V439.1M413.93 409.9V439.1M414.18 416.7V430.1M414.43 411.2V418.5M414.68 412.5V429.2M415.93 409.9V417.6M416.18 410.6V427.3M416.43 419.7V422.7M416.68 408.4V425.9M416.93 408.4V418.8M417.18 409.1V438.7M417.43 422.9V438.7M417.68 419.8V426.5M419.93 412.7V426.8M420.18 410.6V422.7M420.43 410.3V421.1M420.68 400.9V422.0M420.93 404.5V427.6M421.18 412.2V417.4M421.43 411.5V423.6M421.68 411.6V433.6M421.93 404.0V414.4M422.18 404.0V415.4M422.43 399.8V410.9M422.68 399.8V410.8M422.93 400.5V423.2M423.18 408.3V419.5M423.43 410.4V424.2M423.68 410.9V432.6M423.93 416.1V432.6M424.18 402.5V418.6M424.43 397.0V418.6M424.68 392.9V423.8M424.93 407.7V423.8M425.18 407.9V426.6M425.43 410.1V426.6M425.68 411.6V421.9M425.93 395.7V416.2M426.18 416.0V422.0M426.43 416.0V430.3M426.68 418.0V430.3M426.93 410.2V429.6M427.18 414.0V443.4M427.43 406.5V414.0M427.68 410.9V422.3M428.93 402.9V428.6M429.18 411.6V420.9M429.43 407.7V421.5M429.68 394.9V422.3M429.93 416.4V423.1M430.18 399.6V418.4M430.43 413.2V427.7M430.68 402.6V424.3M430.93 407.4V424.3M431.18 407.4V432.1M431.43 413.0V423.9M431.68 407.4V421.5M431.93 420.2V430.6M432.18 404.0V420.2M432.43 411.5V417.6M432.68 404.3V437.4M432.93 405.4V437.4M433.18 413.4V419.0M433.43 403.6V418.4M433.68 398.1V425.2M433.93 398.1V423.6M434.18 410.7V428.7M434.43 401.1V428.7M434.68 401.1V417.3M434.93 411.3V421.3M435.18 399.5V421.3M435.43 411.1V437.3M435.68 412.7V422.9M435.93 412.6V422.9M436.18 407.1V415.3M436.43 402.2V412.1M436.68 402.2V419.7M436.93 411.0V419.8M437.18 412.4V431.3M437.43 410.1V425.5M437.68 394.9V425.5M437.93 401.1V415.9M438.18 393.9V415.9M438.43 405.9V418.9M438.68 400.4V418.2M439.93 408.0V428.2M440.18 408.0V428.9M440.43 410.7V430.4M440.68 409.2V428.8M440.93 395.5V418.6M441.18 404.8V418.6M441.43 398.4V416.9M441.68 403.9V416.9M441.93 395.6V417.0M442.18 404.5V425.0M442.43 404.5V413.1M442.68 409.0V424.7M442.93 408.3V424.7M443.18 413.5V432.9M443.43 422.5V432.9M443.68 397.7V422.5M443.93 407.0V427.5M444.18 415.2V429.9M444.43 420.2V425.4M444.68 423.0V438.5M444.93 409.0V433.1M445.18 404.8V437.5M445.43 403.3V424.7M445.68 404.1V439.4M445.93 402.4V412.4M446.18 403.4V413.3M446.43 402.5V414.1M446.68 406.3V415.8M447.93 389.5V411.8M448.18 389.5V411.5M448.43 395.7V402.5M448.68 394.2V401.1M448.93 394.2V402.1M449.18 388.4V422.2M449.43 404.5V420.2M449.68 401.1V414.3M449.93 400.6V414.3M450.18 413.2V422.9M450.43 407.9V418.4M450.68 401.9V415.5M450.93 408.4V425.5M451.18 403.2V416.4M451.43 391.6V417.8M451.68 401.5V421.7M451.93 405.0V424.6M452.18 389.6V412.1M452.43 389.6V420.5M452.68 410.9V422.5M452.93 411.9V425.3M453.18 411.9V417.7M453.43 412.5V433.3M453.68 407.1V423.9M453.93 406.8V412.2M454.18 407.5V420.0M454.43 396.2V410.6M454.68 389.4V405.1M454.93 394.5V406.1M455.18 387.1V407.7M455.43 386.0V418.3M455.68 386.0V416.9M455.93 402.8V419.6M456.18 406.1V421.0M456.43 405.8V425.7M456.68 405.8V421.6M459.93 409.8V420.2M460.18 407.3V420.2M460.43 401.1V414.8M460.68 406.3V418.0M461.93 378.6V396.4M462.18 378.6V420.7M462.43 386.6V415.1M462.68 397.9V420.0M462.93 402.9V420.0M463.18 404.4V411.3M463.43 406.6V420.3M463.68 403.7V420.3M463.93 398.3V423.0M464.18 407.2V422.1M464.43 406.9V416.2M464.68 407.5V429.2M464.93 405.1V429.2M465.18 400.6V418.4M465.43 410.8V419.1M465.68 397.0V415.9M465.93 410.7V415.9M466.18 401.0V429.3M466.43 399.1V420.4M466.68 393.3V405.6M467.93 393.4V404.5M468.18 393.4V418.4M468.43 398.1V421.1M468.68 391.1V421.1M468.93 401.9V417.5M469.18 402.3V414.9M469.43 402.3V417.5M469.68 400.9V420.6M469.93 403.2V416.8M470.18 388.6V421.2M470.43 406.1V429.3M470.68 401.9V433.3M470.93 384.4V411.0M471.18 399.9V415.0M471.43 398.1V415.0M471.68 396.5V425.1M472.93 391.7V414.2M473.18 391.7V408.0M473.43 388.9V414.2M473.68 398.1V412.2M474.93 398.7V411.5M475.18 392.2V412.7M475.43 392.2V418.9M475.68 396.0V418.9M476.93 383.1V421.6M477.18 383.1V411.4M477.43 391.0V420.3M477.68 391.0V407.6M480.93 406.8V416.7M481.18 396.3V417.8M481.43 412.4V417.8M481.68 404.4V438.1M482.93 411.5V418.9M483.18 409.8V424.7M483.43 395.2V411.1M483.68 398.0V414.8M483.93 392.0V414.8M484.18 392.0V422.1M484.43 392.8V401.9M484.68 397.7V407.0M484.93 394.7V411.3M485.18 403.9V415.0M485.43 403.9V413.0M485.68 409.3V428.3M486.93 405.7V427.3M487.18 388.9V410.6M487.43 388.9V419.6M487.68 402.0V430.8M487.93 404.4V413.9M488.18 392.1V415.8M488.43 388.3V415.8M488.68 402.2V415.3M491.93 395.2V415.1M492.18 395.2V416.7M492.43 406.4V430.6M492.68 406.4V428.8M493.93 399.0V425.2M494.18 403.1V431.6M494.43 410.9V431.6M494.68 408.4V416.2M494.93 401.6V414.4M495.18 409.2V414.5M495.43 407.8V430.6M495.68 403.5V415.2M496.93 394.1V404.3M497.18 396.6V412.4M497.43 396.6V420.2M497.68 398.0V410.4M499.93 413.6V423.4M500.18 402.7V420.3M500.43 416.8V425.2M500.68 401.3V425.0M502.93 385.0V409.1M503.18 385.0V397.3M503.43 393.3V408.2M503.68 403.0V415.1M503.93 408.5V417.7M504.18 406.8V418.1M504.43 402.3V415.4M504.68 402.3V413.5M504.93 396.3V412.6M505.18 399.0V412.6M505.43 397.3V409.1M505.68 396.6V411.9M506.93 394.6V419.3M507.18 409.6V421.2M507.43 397.6V421.2M507.68 403.6V416.7M507.93 409.2V422.0M508.18 396.9V421.4M508.43 393.6V413.3M508.68 411.3V416.6M509.93 404.3V417.6M510.18 404.3V414.6M510.43 406.5V417.6M510.68 406.5V437.9M511.93 412.8V428.0M512.17 405.4V417.8M512.42 400.3V405.8M512.67 402.0V417.6M512.92 408.0V417.6M513.17 406.3V417.1M513.42 406.3V435.3M513.67 408.2V435.3M513.92 408.2V436.8M514.17 419.9V429.5M514.42 412.7V429.4M514.67 412.7V439.2M514.92 406.7V429.1M515.17 419.3V431.7M515.42 419.5V428.7M515.67 417.0V422.4M515.92 412.7V434.6M516.17 412.7V421.5M516.42 414.5V432.2M516.67 402.0V432.1M517.92 407.1V431.2M518.17 415.0V436.1M518.42 409.0V436.1M518.67 400.8V412.9M521.92 417.7V428.4M522.17 417.7V422.1M522.42 411.5V429.0M522.67 406.9V423.1M522.92 406.9V425.4M523.17 404.8V422.1M523.42 400.6V415.5M523.67 403.2V422.3M523.92 394.1V422.3M524.17 394.1V432.4M524.42 414.8V432.4M524.67 414.8V428.2M524.92 417.8V438.6M525.17 410.3V434.6M525.42 419.6V431.4M525.67 419.8V443.5M526.92 413.4V451.2M527.17 413.6V451.2M527.42 413.6V427.3M527.67 420.3V425.9M528.92 418.6V423.9M529.17 415.2V435.9M529.42 419.2V451.7M529.67 417.6V425.1M530.92 413.7V435.8M531.17 413.7V430.9M531.42 417.1V433.7M531.67 408.9V432.3M531.92 415.5V432.5M532.17 415.5V426.3M532.42 421.3V438.1M532.67 421.5V438.1M532.92 425.2V437.0M533.17 426.8V437.4M533.42 424.7V434.2M533.67 425.4V431.6M535.92 423.4V434.3M536.17 425.8V436.7M536.42 431.3V435.2M536.67 421.0V436.3M536.92 417.6V435.9M537.17 422.1V438.4M537.42 416.9V431.8M537.67 420.7V442.6M538.92 423.5V442.6M539.17 430.1V442.6M539.42 425.2V437.7M539.67 425.2V433.0M539.92 422.3V433.0M540.17 422.6V437.5M540.42 424.7V428.7M540.67 424.7V430.4M540.92 428.4V447.2M541.17 430.9V447.2M541.42 416.1V441.5M541.67 431.8V454.9M541.92 434.7V454.9M542.17 434.7V457.4M542.42 450.6V462.3M542.67 443.7V462.3M542.92 441.9V449.9M543.17 435.0V446.0M543.42 432.8V448.5M543.67 437.1V454.9M543.92 437.1V458.9M544.17 426.4V462.3M544.42 426.4V460.2M544.67 438.8V456.6M545.92 442.7V461.7M546.17 444.2V461.7M546.42 444.2V466.7M546.67 453.2V460.8M546.92 452.0V460.8M547.17 446.0V455.6M547.42 449.7V458.5M547.67 442.5V469.1M548.92 443.3V464.0M549.17 435.7V446.7M549.42 435.1V449.8M549.67 442.9V458.1M549.92 444.0V458.1M550.17 428.0V456.0M550.42 440.4V449.6M550.67 431.2V448.8M550.92 430.8V455.7M551.17 435.5V445.6M551.42 435.5V456.1M551.67 435.7V460.2M551.92 434.8V460.2M552.17 443.7V450.2M552.42 423.8V448.4M552.67 435.7V456.9M552.92 435.7V456.7M553.17 441.7V469.0M553.42 439.7V469.7M553.67 442.9V460.3M553.92 446.5V460.3M554.17 441.8V466.3M554.42 434.4V470.3M554.67 442.8V473.8M555.92 447.1V471.2M556.17 444.2V458.0M556.42 451.4V458.0M556.67 438.8V456.4M556.92 444.8V460.8M557.17 455.1V463.8M557.42 450.3V457.7M557.67 444.4V460.4M559.92 437.3V444.4M560.17 437.7V447.1M560.42 426.4V442.3M560.67 426.4V445.0M560.92 421.7V438.3M561.17 428.4V454.3M561.42 413.6V454.3M561.67 414.0V434.7M561.92 403.1V432.1M562.17 426.0V435.2M562.42 420.8V441.2M562.67 420.8V438.0M562.92 421.3V437.3M563.17 417.1V437.3M563.42 429.3V444.3M563.67 421.0V443.9M563.92 420.6V439.8M564.17 427.2V449.1M564.42 427.2V436.2M564.67 425.8V439.7M564.92 419.9V434.8M565.17 425.8V445.3M565.42 429.5V445.3M565.67 420.2V434.7M567.92 421.5V441.2M568.17 419.1V440.9M568.42 415.9V440.9M568.67 410.0V424.6M568.92 405.7V429.9M569.17 423.7V429.9M569.42 415.7V423.7M569.67 411.3V432.9M569.92 408.7V441.7M570.17 410.0V442.3M570.42 423.0V442.3M570.67 421.9V441.2M570.92 421.7V441.2M571.17 420.3V433.7M571.42 422.0V430.0M571.67 426.8V451.1M571.92 424.1V430.6M572.17 424.1V435.4M572.42 414.1V434.4M572.67 414.1V441.0M572.92 414.7V423.2M573.17 420.7V430.9M573.42 414.7V446.7M573.67 425.4V434.1M573.92 415.2V429.8M574.17 399.7V424.0M574.42 417.5V427.9M574.67 409.7V427.1M575.92 400.1V413.3M576.17 392.0V415.1M576.42 392.0V424.5M576.67 403.7V427.7M576.92 408.2V422.1M577.17 411.4V423.7M577.42 402.3V423.7M577.67 404.2V415.3M577.92 408.6V437.4M578.17 407.4V437.4M578.42 408.7V431.2M578.67 413.7V431.2M578.92 418.0V429.8M579.17 416.1V429.7M579.42 416.1V420.7M579.67 412.0V427.1M579.92 414.2V427.1M580.17 415.1V431.9M580.42 409.1V431.9M580.67 413.2V430.5M581.92 411.3V425.5M582.17 408.1V430.2M582.42 397.8V434.6M582.67 397.8V422.3M583.92 413.2V437.2M584.17 426.9V441.7M584.42 421.5V447.7M584.67 413.4V447.7M584.92 431.1V443.4M585.17 426.2V443.4M585.42 426.2V445.8M585.67 417.9V441.0M586.92 424.2V431.7M587.17 410.9V430.0M587.42 411.2V424.6M587.67 413.5V418.9M588.92 413.3V425.0M589.17 413.3V428.1M589.42 412.8V428.1M589.67 412.8V447.2M589.92 429.7V440.7M590.17 430.0V444.9M590.42 423.6V434.7M590.67 422.2V434.7M590.92 416.6V423.8M591.17 418.4V420.8M591.42 404.3V427.0M591.67 404.3V427.4M591.92 409.4V418.9M592.17 417.3V427.5M592.42 407.6V427.5M592.67 412.4V423.1M593.92 408.4V427.9M594.17 408.4V423.7M594.42 401.8V423.7M594.67 406.7V417.4M594.92 405.3V419.2M595.17 405.3V418.6M595.42 404.3V417.2M595.67 404.3V426.3M595.92 413.2V434.3M596.17 414.8V430.7M596.42 411.9V423.3M596.67 403.1V424.2M596.92 403.1V420.5M597.17 416.3V430.0M597.42 410.3V424.4M597.67 416.7V422.4M597.92 410.8V421.8M598.17 410.8V431.3M598.42 404.7V423.3M598.67 402.2V427.1M598.92 404.5V411.9M599.17 403.4V423.0M599.42 401.8V424.0M599.67 414.5V424.0M599.92 405.9V422.9M600.17 401.5V419.0M600.42 402.2V419.0M600.67 408.5V420.1M600.92 403.2V416.8M601.17 409.8V427.3M601.42 407.2V430.7M601.67 409.3V430.7M603.92 412.2V414.8M604.17 411.2V427.2M604.42 396.9V439.9M604.67 409.7V431.7M604.92 410.1V427.9M605.17 411.9V423.3M605.42 411.2V418.4M605.67 401.7V424.3M607.92 410.9V426.4M608.17 402.7V435.3M608.42 410.4V422.7M608.67 410.4V436.9M608.92 404.3V427.4M609.17 422.6V427.4M609.42 406.9V422.6M609.67 406.9V423.2M609.92 414.9V432.0M610.17 398.8V432.0M610.42 407.7V426.1M610.67 407.7V425.9M610.92 411.9V433.3M611.17 409.4V433.3M611.42 405.4V429.5M611.67 417.3V430.5M612.92 413.1V426.0M613.17 411.1V414.8M613.42 400.5V423.5M613.67 410.1V419.1M613.92 395.5V410.1M614.17 400.5V418.2M614.42 403.2V418.1M614.67 407.0V414.1M615.92 395.6V417.9M616.17 395.6V416.5M616.42 389.4V413.2M616.67 391.9V409.1M616.92 391.9V409.7M617.17 405.4V429.4M617.42 404.1V408.8M617.67 399.8V408.1M617.92 396.2V424.3M618.17 400.8V424.3M618.42 405.2V421.3M618.67 401.3V416.1M618.92 404.1V416.1M619.17 407.4V434.1M619.42 399.1V434.1M619.67 399.1V407.8M619.92 377.7V405.5M620.17 389.1V403.7M620.42 389.1V401.5M620.67 389.3V411.7M620.92 378.4V411.7M621.17 383.6V406.9M621.42 387.3V392.2M621.67 378.3V392.2M622.92 382.9V397.9M623.17 382.9V404.8M623.42 384.3V413.3M623.67 377.9V400.0M624.92 393.6V415.8M625.17 373.8V393.6M625.42 382.3V404.1M625.67 383.5V388.8M625.92 375.9V393.5M626.17 382.3V391.1M626.42 379.5V389.0M626.67 378.4V382.4M626.92 374.3V382.4M627.17 378.9V386.0M627.42 369.2V386.5M627.67 369.6V386.5" fill="none" stroke="#ff0000" stroke-width="0.850" stroke-opacity="1.0"/>
<path d="M387.93 370.5V400.2M388.18 375.2V400.2M388.43 376.5V402.6M388.68 376.5V400.2M391.93 383.9V402.0M392.18 383.5V402.0M392.43 388.1V392.8M392.68 390.5V400.0M392.93 369.2V400.0M393.18 391.4V396.8M393.43 371.8V399.1M393.68 388.3V402.8M401.93 382.4V408.9M402.18 385.5V402.8M402.43 385.4V396.9M402.68 387.8V395.2M403.93 387.8V396.1M404.18 387.4V393.5M404.43 385.6V402.0M404.68 394.4V409.9M405.93 388.4V410.3M406.18 391.1V410.3M406.43 391.1V405.1M406.68 387.2V410.7M408.93 407.0V411.0M409.18 403.0V411.1M409.43 398.4V427.4M409.68 399.8V427.4M409.93 399.8V413.1M410.18 401.9V406.9M410.43 400.8V409.9M410.68 407.8V416.1M411.93 402.6V422.2M412.18 410.7V422.2M412.43 398.3V415.9M412.68 398.3V425.4M414.93 401.0V419.1M415.18 401.0V417.2M415.43 392.5V415.6M415.68 406.4V419.2M417.93 419.8V435.0M418.18 416.0V419.9M418.43 411.1V422.0M418.68 406.5V445.1M418.93 421.7V445.1M419.18 414.6V425.1M419.43 405.5V417.3M419.68 405.5V434.6M427.93 398.0V420.5M428.18 405.7V409.6M428.43 400.5V415.2M428.68 402.9V420.5M438.93 402.3V414.4M439.18 391.7V410.8M439.43 405.8V423.6M439.68 405.8V417.0M446.93 394.4V413.9M447.18 381.4V408.5M447.43 394.8V408.5M447.68 396.8V404.8M456.93 410.4V428.2M457.18 412.9V425.7M457.43 414.6V423.2M457.68 413.7V433.0M457.93 413.7V430.2M458.18 426.7V430.2M458.43 427.3V433.8M458.68 422.3V431.9M458.93 414.0V426.7M459.18 415.4V421.4M459.43 412.7V431.1M459.68 409.4V417.5M460.93 401.0V415.4M461.18 397.9V407.5M461.43 396.5V407.5M461.68 396.4V406.4M466.93 402.8V412.5M467.18 398.4V408.0M467.43 398.3V408.0M467.68 400.1V414.2M471.93 411.6V425.1M472.18 402.1V418.0M472.43 401.9V408.4M472.68 402.2V415.2M473.93 400.7V413.2M474.18 404.5V418.5M474.43 405.2V419.5M474.68 401.5V419.5M475.93 392.0V412.3M476.18 388.3V417.2M476.43 387.4V408.7M476.68 373.8V408.7M477.93 407.6V414.0M478.18 408.2V413.4M478.43 408.2V413.9M478.68 403.9V415.9M478.93 401.9V424.4M479.18 401.9V417.9M479.43 399.9V421.1M479.68 400.1V421.1M479.93 383.8V404.2M480.18 400.9V422.2M480.43 396.3V423.4M480.68 393.2V423.4M481.93 408.7V416.2M482.18 404.6V421.2M482.43 404.6V416.4M482.68 398.8V418.7M485.93 418.0V423.8M486.18 409.7V423.8M486.43 408.3V418.1M486.68 409.1V427.3M488.93 393.9V406.7M489.18 396.9V415.0M489.43 392.1V415.0M489.68 385.4V404.0M489.93 385.4V406.4M490.18 396.1V404.3M490.43 396.1V411.2M490.68 387.0V411.2M490.93 376.5V408.4M491.18 396.7V412.5M491.43 394.0V418.4M491.68 400.4V418.1M492.93 406.6V426.3M493.18 406.6V417.4M493.43 411.5V426.3M493.68 399.0V423.4M495.93 399.0V420.9M496.18 388.3V420.9M496.43 394.2V405.6M496.68 392.7V405.6M497.93 390.8V422.7M498.18 390.8V418.7M498.43 405.3V411.9M498.68 403.5V425.9M498.93 399.1V410.1M499.18 406.8V411.3M499.43 389.4V406.8M499.68 389.4V423.4M500.93 401.8V414.5M501.18 396.8V413.9M501.43 389.9V413.3M501.68 399.4V412.7M501.93 391.9V412.7M502.18 391.9V419.0M502.43 395.1V400.4M502.68 392.1V409.1M505.93 396.6V406.9M506.18 406.0V413.9M506.43 398.8V414.2M506.68 399.1V418.3M508.93 401.3V419.3M509.18 410.7V440.6M509.43 407.1V417.7M509.68 409.0V420.8M510.93 412.7V437.9M511.18 412.7V423.6M511.43 395.3V424.6M511.68 395.3V428.0M516.92 424.5V432.1M517.17 421.7V427.4M517.42 410.3V427.0M517.67 417.4V431.2M518.92 382.9V413.1M519.17 382.9V425.9M519.42 406.6V425.9M519.67 399.6V415.5M519.92 407.8V419.2M520.17 402.1V426.0M520.42 398.2V426.0M520.67 398.1V417.5M520.92 407.8V418.9M521.17 408.2V428.0M521.42 415.0V433.6M521.67 418.2V424.6M525.92 416.2V431.5M526.17 431.2V438.2M526.42 420.6V431.2M526.67 413.4V435.9M527.92 421.4V427.5M528.17 417.7V427.5M528.42 419.5V436.7M528.67 418.6V436.7M529.92 417.6V432.6M530.17 414.8V432.6M530.42 401.2V425.1M530.67 398.5V435.8M533.92 425.4V436.6M534.17 433.0V445.0M534.42 423.0V445.0M534.67 432.4V437.8M534.92 432.4V442.5M535.17 424.7V441.9M535.42 429.7V435.0M535.67 423.4V436.0M537.92 423.6V459.3M538.17 419.0V459.3M538.42 426.3V440.4M538.67 412.1V453.2M544.92 430.4V451.4M545.17 430.4V455.6M545.42 440.8V458.5M545.67 442.7V461.3M547.92 442.5V458.3M548.17 434.1V442.8M548.42 434.1V453.6M548.67 443.2V449.2M554.92 436.8V473.8M555.17 436.8V460.0M555.42 447.0V463.1M555.67 435.6V471.2M557.92 444.4V471.2M558.17 433.9V457.5M558.42 432.5V465.1M558.67 432.5V457.2M558.92 438.8V452.8M559.17 438.8V466.9M559.42 437.1V446.8M559.67 437.1V448.8M565.92 405.9V435.7M566.17 405.9V441.7M566.42 425.3V438.8M566.67 426.1V438.8M566.92 405.8V440.3M567.17 415.3V445.8M567.42 409.7V445.8M567.67 409.7V436.9M574.92 417.9V426.0M575.17 391.7V432.2M575.42 391.7V415.5M575.67 402.7V417.7M580.92 412.5V425.2M581.17 412.5V416.8M581.42 393.8V426.6M581.67 393.8V424.3M582.92 419.2V432.7M583.17 415.6V432.7M583.42 422.6V427.0M583.67 423.5V437.2M585.92 427.8V445.1M586.17 430.3V438.8M586.42 417.9V438.8M586.67 426.2V438.5M587.92 400.0V423.3M588.17 409.7V419.5M588.42 418.7V427.2M588.67 403.3V423.6M592.92 400.5V412.7M593.17 411.0V415.7M593.42 411.0V412.3M593.67 411.8V427.2M601.92 419.6V448.6M602.17 414.7V448.6M602.42 420.9V432.5M602.67 418.5V430.6M602.92 415.8V424.7M603.17 415.8V434.2M603.42 412.6V427.9M603.67 407.3V427.9M605.92 401.7V442.2M606.17 401.8V434.8M606.42 423.0V428.6M606.67 414.8V434.6M606.92 408.0V427.2M607.17 423.8V428.7M607.42 405.0V432.4M607.67 399.4V432.4M611.92 418.0V424.7M612.17 417.3V424.4M612.42 412.2V423.1M612.67 410.1V420.8M614.92 406.2V421.9M615.17 408.6V416.5M615.42 411.2V430.4M615.67 404.2V420.4M621.92 383.7V407.9M622.17 392.4V400.4M622.42 381.1V395.6M622.67 378.8V396.4M623.92 394.4V400.0M624.17 383.0V398.9M624.42 391.7V405.9M624.67 387.1V414.0M627.92 369.0V379.5M628.17 367.7V379.8M628.42 367.7V388.8" fill="none" stroke="#ff0000" stroke-width="0.850" stroke-opacity="1.0"/>
<path d="M388.93 395.7V427.2M389.18 400.1V419.2M389.43 400.9V419.2M389.68 401.0V420.8M389.93 392.6V422.5M390.18 388.9V406.5M390.43 394.7V406.5M390.68 390.5V413.2M401.93 417.0V432.1M402.18 432.0V436.5M402.43 426.6V440.8M402.68 424.5V440.8M403.93 421.9V440.0M404.18 426.9V449.2M404.43 429.5V449.2M404.68 429.5V442.7M408.93 422.1V440.8M409.18 435.6V442.6M409.43 433.5V440.1M409.68 421.9V451.8M413.93 418.8V442.9M414.18 437.1V452.1M414.43 425.0V443.9M414.68 433.8V455.2M415.93 446.2V451.2M416.18 433.8V446.9M416.43 437.6V450.6M416.68 438.0V446.5M418.93 433.3V451.8M419.18 433.3V438.5M419.43 429.5V446.4M419.68 443.9V445.5M419.93 427.9V459.3M420.18 427.9V444.5M420.43 435.5V452.8M420.68 438.6V450.4M421.93 424.4V438.4M422.18 426.9V439.3M422.43 427.2V430.0M422.68 420.0V432.5M422.93 424.6V432.3M423.18 430.5V445.3M423.43 413.5V439.4M423.68 413.5V442.9M423.93 421.6V443.4M424.18 424.3V443.4M424.43 419.0V443.7M424.68 419.0V437.5M424.93 423.0V445.1M425.18 428.9V434.1M425.43 426.4V434.1M425.68 425.1V434.3M425.93 406.1V429.0M426.18 406.1V438.8M426.43 412.3V424.5M426.68 422.6V432.0M427.93 422.7V429.5M428.18 428.9V441.3M428.43 436.8V450.7M428.68 436.8V440.0M428.93 433.7V452.2M429.18 434.2V443.5M429.43 427.3V448.0M429.68 427.3V438.7M429.93 422.3V443.0M430.18 429.3V443.8M430.43 422.7V443.8M430.68 424.7V437.6M430.93 432.4V439.2M431.18 427.2V437.8M431.43 427.2V441.6M431.68 418.9V441.6M433.93 419.5V441.8M434.18 424.4V438.6M434.43 424.4V445.5M434.68 423.1V437.5M434.93 414.1V437.5M435.18 410.8V434.7M435.43 421.4V444.0M435.68 421.0V441.9M437.93 427.0V431.6M438.18 416.7V431.6M438.43 418.2V427.8M438.68 426.5V434.3M441.93 414.4V424.6M442.18 424.5V439.0M442.43 413.6V439.0M442.68 416.1V454.0M442.93 426.6V454.0M443.18 426.6V455.0M443.43 429.8V432.7M443.68 418.8V432.9M443.93 418.8V440.9M444.18 423.3V434.9M444.43 421.5V440.1M444.68 417.6V444.8M445.93 422.3V435.7M446.18 406.5V429.0M446.43 417.4V433.2M446.68 418.8V441.6M446.93 425.9V431.6M447.18 417.8V428.7M447.43 426.0V429.2M447.68 429.2V455.7M447.93 431.1V455.7M448.18 430.5V439.2M448.43 430.5V442.1M448.68 435.5V442.1M448.93 438.8V446.9M449.18 429.2V452.1M449.43 436.3V444.3M449.68 425.2V446.5M454.93 408.9V436.1M455.18 408.9V433.5M455.43 428.0V439.8M455.68 423.7V438.8M455.93 427.7V437.6M456.18 434.7V443.1M456.43 427.7V445.8M456.68 432.4V445.8M457.93 419.5V436.9M458.18 419.5V445.3M458.43 432.6V444.6M458.68 432.4V445.6M461.93 418.9V431.7M462.18 416.8V436.1M462.43 427.4V442.2M462.68 425.7V437.5M465.93 416.2V431.6M466.18 431.6V443.3M466.43 410.8V446.5M466.68 429.3V448.0M476.93 413.2V437.0M477.18 427.7V438.8M477.43 429.7V438.2M477.68 419.6V432.2M478.93 412.3V422.8M479.18 412.3V438.1M479.43 415.6V438.1M479.68 399.8V422.2M480.93 411.0V428.1M481.18 407.3V428.1M481.43 407.1V431.8M481.68 413.0V435.7M482.93 418.7V426.3M483.18 404.6V432.0M483.43 410.2V446.7M483.68 410.2V434.0M485.93 401.8V429.8M486.18 401.8V427.5M486.43 404.6V421.1M486.68 413.0V423.3M488.93 396.2V419.9M489.18 410.3V418.7M489.43 398.7V418.7M489.68 399.9V408.9M489.93 403.8V422.9M490.18 392.0V416.0M490.43 389.7V416.0M490.68 387.2V407.0M492.93 400.5V417.0M493.18 404.9V422.9M493.43 398.1V431.6M493.68 398.1V416.5M493.93 409.5V415.7M494.18 410.3V422.3M494.43 406.9V419.3M494.68 404.1V409.4M495.93 398.8V413.6M496.18 394.8V409.1M496.43 401.6V417.6M496.68 399.5V413.8M496.93 399.5V419.3M497.18 388.2V423.3M497.43 399.8V423.3M497.68 400.3V409.1M501.93 386.2V409.9M502.18 384.6V400.2M502.43 382.4V400.2M502.68 386.9V403.0M502.93 373.4V393.1M503.18 373.4V398.9M503.43 384.0V388.8M503.68 381.3V404.5M503.93 380.6V390.3M504.18 376.4V390.3M504.43 372.1V402.8M504.68 372.1V394.6M506.93 384.4V405.0M507.18 384.4V397.1M507.43 386.9V400.2M507.68 373.6V386.9M507.93 373.6V390.2M508.18 372.2V394.7M508.43 384.2V394.7M508.68 379.6V389.5M510.93 392.0V406.3M511.18 381.9V397.7M511.43 378.7V396.3M511.68 377.3V396.3M512.92 374.6V399.0M513.17 399.0V409.8M513.42 396.9V412.5M513.67 392.1V414.2M513.92 390.4V416.2M514.17 403.6V424.8M514.42 393.1V412.0M514.67 393.1V407.2M515.92 386.7V388.1M516.17 373.6V397.2M516.42 375.1V397.2M516.67 380.7V396.6M516.92 380.3V407.7M517.17 382.1V407.7M517.42 374.1V408.3M517.67 390.8V416.3M517.92 408.4V417.7M518.17 394.5V417.7M518.42 394.5V408.0M518.67 402.7V411.6M518.92 389.8V409.8M519.17 382.1V401.8M519.42 390.2V410.5M519.67 388.9V396.6M519.92 381.8V396.6M520.17 382.6V395.6M520.42 373.4V399.7M520.67 392.3V399.7M520.92 374.4V400.6M521.17 374.4V405.4M521.42 378.9V396.8M521.67 384.0V396.8M521.92 388.4V412.5M522.17 388.4V414.2M522.42 398.9V408.2M522.67 389.6V429.3M522.92 405.0V429.3M523.17 394.5V410.3M523.42 410.3V422.1M523.67 401.9V422.1M523.92 403.3V429.6M524.17 403.3V417.0M524.42 397.2V413.9M524.67 397.2V412.5M525.92 391.0V404.1M526.17 380.5V408.0M526.42 390.6V396.9M526.67 389.9V415.3M529.92 410.5V419.2M530.17 388.2V420.7M530.42 388.2V419.6M530.67 406.4V418.3M533.92 406.4V420.4M534.17 406.4V438.4M534.42 401.4V430.3M534.67 401.4V431.7M534.92 412.1V421.3M535.17 409.5V424.5M535.42 423.4V430.0M535.67 418.8V426.4M543.92 411.0V426.1M544.17 410.2V426.1M544.42 411.5V418.7M544.67 409.8V425.8M544.92 408.8V416.1M545.17 393.6V417.0M545.42 397.5V417.0M545.67 397.5V410.0M549.92 397.3V409.1M550.17 382.7V402.5M550.42 391.3V401.6M550.67 391.3V403.2M550.92 392.6V404.3M551.17 396.9V404.6M551.42 388.9V412.8M551.67 402.1V412.8M552.92 391.3V415.0M553.17 401.9V418.6M553.42 394.4V420.0M553.67 394.4V411.8M555.92 384.2V402.4M556.17 384.2V404.2M556.42 384.8V400.2M556.67 381.5V400.7M558.92 402.0V406.5M559.17 401.0V416.2M559.42 401.0V407.8M559.67 402.9V417.6M561.92 395.0V408.3M562.17 375.0V408.3M562.42 391.8V406.7M562.67 385.9V398.7M563.92 387.7V397.8M564.17 392.5V398.1M564.42 372.0V398.1M564.67 388.5V400.0M568.92 394.6V415.5M569.17 394.5V407.7M569.42 399.0V411.6M569.67 379.7V411.6M569.92 393.9V418.9M570.17 398.0V418.9M570.42 395.5V407.5M570.67 389.2V412.9M576.92 390.5V398.9M577.17 396.8V404.5M577.42 394.8V404.5M577.67 395.4V404.0M580.92 394.9V407.5M581.17 392.2V410.0M581.42 392.2V415.2M581.67 393.7V415.2M583.92 403.0V412.1M584.17 399.4V413.5M584.42 399.4V415.8M584.67 385.7V415.8M589.92 379.4V405.3M590.17 397.2V412.1M590.42 395.1V408.2M590.67 396.4V408.2M590.92 396.4V408.8M591.17 397.8V405.8M591.42 398.2V411.9M591.67 380.6V409.4M591.92 394.9V411.8M592.17 386.0V394.9M592.42 387.3V408.5M592.67 389.2V405.3M601.92 370.7V402.9M602.17 386.7V408.8M602.42 384.5V408.8M602.67 389.0V406.3M605.92 408.8V422.4M606.17 400.8V412.7M606.42 401.2V420.9M606.67 401.2V422.5M614.92 378.3V403.2M615.17 389.2V400.2M615.42 387.2V395.7M615.67 387.2V398.8M617.92 398.6V408.5M618.17 386.5V405.0M618.42 395.9V411.6M618.67 387.4V411.6M619.92 400.0V413.7M620.17 389.5V406.4M620.42 382.6V398.2M620.67 382.6V396.1M626.92 373.9V378.7M627.17 361.8V376.9M627.42 363.9V375.9M627.67 349.2V372.8M627.92 372.6V389.8M628.17 372.6V381.8M628.42 365.7V398.7" fill="none" stroke="#0000f4" stroke-width="0.850" stroke-opacity="1.0"/>
</g>
<polyline points="384.50,140.63 385.00,155.71 385.50,170.10 386.00,183.74 386.50,192.90 387.00,202.56 387.50,204.86 388.00,207.05 388.50,209.70 389.00,210.71 389.50,211.09 390.00,212.10 390.50,212.99 391.00,214.27 391.50,214.56 392.00,214.94 392.50,216.72 393.00,217.01 393.50,218.49 394.00,218.92 394.50,219.69 395.00,219.35 395.50,220.37 396.00,220.07 396.50,220.61 397.00,221.28 397.50,222.96 398.00,221.58 398.50,220.96 399.00,220.52 399.50,220.99 400.00,220.09 400.50,219.98 401.00,219.52 401.50,218.00 402.00,218.39 402.50,217.42 403.00,216.38 403.50,216.57 404.00,215.76 404.50,216.35 405.00,217.09 405.50,218.46 406.00,218.50 406.50,218.56 407.00,220.76 407.50,220.03 408.00,220.91 408.50,221.80 409.00,220.95 409.50,222.08 410.00,223.59 410.50,223.30 411.00,222.86 411.50,223.06 412.00,222.43 412.50,222.63 413.00,222.07 413.50,221.49 414.00,222.39 414.50,221.75 415.00,221.91 415.50,221.04 416.00,221.15 416.50,220.28 417.00,219.52 417.50,218.39 418.00,217.70 418.50,218.40 419.00,217.57 419.50,216.27 420.00,217.06 420.50,216.17 421.00,216.56 421.50,216.44 422.00,217.31 422.50,218.40 423.00,219.00 423.50,219.52 424.00,219.18 424.50,220.61 425.00,220.97 425.50,221.06 426.00,221.73 426.50,222.20 427.00,223.09 427.50,222.96 428.00,223.60 428.50,223.21 429.00,223.89 429.50,224.02 430.00,223.45 430.50,223.75 431.00,222.82 431.50,223.15 432.00,222.63 432.50,223.37 433.00,222.32 433.50,223.14 434.00,223.10 434.50,222.00 435.00,222.06 435.50,221.14 436.00,219.71 436.50,220.92 437.00,220.45 437.50,219.65 438.00,219.14 438.50,219.11 439.00,218.76 439.50,217.93 440.00,217.65 440.50,218.08 441.00,217.36 441.50,217.15 442.00,217.56 442.50,216.74 443.00,217.17 443.50,216.08 444.00,216.65 444.50,216.96 445.00,217.56 445.50,217.57 446.00,218.78 446.50,218.59 447.00,218.07 447.50,219.49 448.00,218.11 448.50,219.58 449.00,218.44 449.50,219.40 450.00,218.71 450.50,218.83 451.00,219.47 451.50,217.83 452.00,217.52 452.50,218.08 453.00,217.97 453.50,217.70 454.00,217.90 454.50,215.42 455.00,214.84 455.50,213.17 456.00,214.40 456.50,215.17 457.00,216.35 457.50,213.35 458.00,212.37 458.50,210.09 459.00,208.87 459.50,206.36 460.00,203.30 460.50,200.55 461.00,197.39 461.50,194.71 462.00,199.58 462.50,206.99 463.00,213.55 463.50,214.85 464.00,218.60 464.50,221.36 465.00,219.55 465.50,217.90 466.00,218.27 466.50,216.54 467.00,215.66 467.50,215.14 468.00,212.76 468.50,213.76 469.00,214.32 469.50,215.35 470.00,215.34 470.50,216.46 471.00,216.87 471.50,217.97 472.00,218.14 472.50,216.94 473.00,218.00 473.50,217.70 474.00,217.98 474.50,218.30 475.00,218.44 475.50,217.97 476.00,218.56 476.50,218.60 477.00,218.62 477.50,218.14 478.00,218.50 478.50,218.77 479.00,219.36 479.50,219.89 480.00,218.81 480.50,218.91 481.00,219.59 481.50,219.35 482.00,219.34 482.50,219.43 483.00,219.49 483.50,220.72 484.00,220.23 484.50,222.16 485.00,221.60 485.50,222.30 486.00,222.63 486.50,222.63 487.00,222.48 487.50,222.88 488.00,222.22 488.50,219.99 489.00,219.99 489.50,218.53 490.00,217.15 490.50,217.48 491.00,216.78 491.50,214.27 492.00,213.09 492.50,211.95 493.00,210.51 493.50,209.68 494.00,208.72 494.50,207.96 495.00,210.14 495.50,212.25 496.00,212.92 496.50,214.98 497.00,216.51 497.50,218.99 498.00,220.59 498.50,221.87 499.00,220.25 499.50,218.14 500.00,217.08 500.50,214.93 501.00,213.38 501.50,210.96 502.00,211.15 502.50,208.42 503.00,209.77 503.50,210.59 504.00,212.18 504.50,212.52 505.00,212.76 505.50,212.74 506.00,212.22 506.50,211.98 507.00,210.80 507.50,210.96 508.00,211.64 508.50,210.43 509.00,210.83 509.50,211.98 510.00,211.07 510.50,210.61 511.00,211.75 511.50,212.86 512.00,213.23 512.50,212.72 513.00,214.04 513.50,214.91 514.00,215.77 514.50,216.54 515.00,216.96 515.50,217.91 516.00,218.89 516.50,220.35 517.00,220.37 517.50,221.80 518.00,221.36 518.50,221.67 519.00,220.20 519.50,219.24 520.00,219.02 520.50,216.56 521.00,215.80 521.50,215.95 522.00,214.48 522.50,213.84 523.00,214.53 523.50,212.22 524.00,211.54 524.50,210.98 525.00,211.62 525.50,211.25 526.00,211.25 526.50,210.60 527.00,211.08 527.50,211.30 528.00,210.56 528.50,211.67 529.00,211.63 529.50,213.62 530.00,213.14 530.50,214.70 531.00,215.97 531.50,217.35 532.00,218.89 532.50,220.09 533.00,221.58 533.50,222.81 534.00,222.65 534.50,221.03 535.00,220.64 535.50,220.07 536.00,219.46 536.50,218.61 537.00,216.58 537.50,216.34 538.00,215.76 538.50,215.16 539.00,214.75 539.50,213.40 540.00,212.12 540.50,211.96 541.00,211.33 541.50,210.97 542.00,210.43 542.50,210.94 543.00,209.88 543.50,209.84 544.00,208.59 544.50,209.07 545.00,208.02 545.50,207.30 546.00,208.52 546.50,208.94 547.00,208.81 547.50,209.19 548.00,209.98 548.50,209.51 549.00,208.99 549.50,210.43 550.00,210.68 550.50,211.83 551.00,211.84 551.50,213.35 552.00,213.99 552.50,213.51 553.00,215.48 553.50,215.32 554.00,215.94 554.50,217.44 555.00,218.15 555.50,218.28 556.00,219.95 556.50,219.60 557.00,219.43 557.50,218.16 558.00,216.87 558.50,216.91 559.00,217.89 559.50,217.84 560.00,217.66 560.50,217.26 561.00,217.51 561.50,217.30 562.00,217.25 562.50,217.56 563.00,217.43 563.50,217.30 564.00,217.45 564.50,217.45 565.00,217.06 565.50,218.02 566.00,218.60 566.50,219.79 567.00,219.03 567.50,220.53 568.00,220.56 568.50,219.71 569.00,220.09 569.50,220.83 570.00,221.94 570.50,221.56 571.00,222.02 571.50,221.10 572.00,220.03 572.50,220.83 573.00,221.09 573.50,221.05 574.00,220.24 574.50,220.05 575.00,220.31 575.50,219.42 576.00,219.82 576.50,218.42 577.00,218.20 577.50,217.95 578.00,218.50 578.50,217.14 579.00,216.62 579.50,215.90 580.00,215.02 580.50,214.80 581.00,214.16 581.50,212.31 582.00,212.24 582.50,211.68 583.00,210.92 583.50,213.15 584.00,213.49 584.50,213.82 585.00,214.54 585.50,215.75 586.00,215.86 586.50,216.93 587.00,218.27 587.50,218.74 588.00,218.46 588.50,219.24 589.00,221.06 589.50,220.01 590.00,221.01 590.50,221.24 591.00,222.73 591.50,222.61 592.00,222.51 592.50,220.11 593.00,220.97 593.50,219.54 594.00,220.16 594.50,219.22 595.00,219.63 595.50,218.44 596.00,217.22 596.50,218.05 597.00,216.86 597.50,217.23 598.00,217.94 598.50,217.66 599.00,217.64 599.50,217.23 600.00,216.45 600.50,215.58 601.00,214.29 601.50,213.63 602.00,212.68 602.50,210.74 603.00,208.95 603.50,208.87 604.00,206.77 604.50,205.80" fill="none" stroke="#0000f4" stroke-width="0.8" stroke-opacity="0.75" stroke-linejoin="round"/>
<polyline points="384.50,169.28 385.00,175.66 385.50,185.68 386.00,195.31 386.50,203.41 387.00,207.26 387.50,208.28 388.00,209.26 388.50,209.00 389.00,209.81 389.50,209.85 390.00,210.61 390.50,211.39 391.00,211.14 391.50,211.31 392.00,211.39 392.50,213.08 393.00,213.38 393.50,214.99 394.00,214.51 394.50,216.01 395.00,216.99 395.50,216.70 396.00,216.72 396.50,218.67 397.00,219.06 397.50,219.49 398.00,218.96 398.50,217.45 399.00,217.33 399.50,216.56 400.00,215.16 400.50,215.11 401.00,213.77 401.50,213.64 402.00,212.91 402.50,212.37 403.00,209.63 403.50,209.89 404.00,208.75 404.50,210.31 405.00,211.64 405.50,213.11 406.00,213.59 406.50,216.52 407.00,218.20 407.50,218.80 408.00,219.84 408.50,219.66 409.00,220.50 409.50,222.29 410.00,223.39 410.50,223.52 411.00,222.44 411.50,224.41 412.00,222.51 412.50,223.15 413.00,221.88 413.50,222.78 414.00,222.19 414.50,222.63 415.00,222.17 415.50,220.56 416.00,220.45 416.50,220.67 417.00,220.51 417.50,220.63 418.00,219.46 418.50,218.87 419.00,218.49 419.50,218.10 420.00,218.22 420.50,217.58 421.00,217.91 421.50,217.57 422.00,217.63 422.50,219.00 423.00,219.66 423.50,219.65 424.00,220.27 424.50,220.77 425.00,220.85 425.50,221.78 426.00,221.36 426.50,222.15 427.00,222.40 427.50,223.04 428.00,223.75 428.50,224.29 429.00,224.35 429.50,224.29 430.00,223.68 430.50,223.58 431.00,224.06 431.50,223.11 432.00,223.62 432.50,223.03 433.00,222.64 433.50,223.34 434.00,222.01 434.50,221.77 435.00,221.68 435.50,221.45 436.00,221.05 436.50,220.99 437.00,220.26 437.50,220.04 438.00,219.34 438.50,219.64 439.00,218.53 439.50,218.21 440.00,217.99 440.50,217.78 441.00,216.86 441.50,217.55 442.00,216.02 442.50,215.69 443.00,215.23 443.50,214.74 444.00,215.58 444.50,215.88 445.00,215.92 445.50,216.53 446.00,217.15 446.50,218.53 447.00,217.98 447.50,217.80 448.00,218.03 448.50,218.56 449.00,219.62 449.50,218.49 450.00,219.19 450.50,220.19 451.00,218.49 451.50,219.23 452.00,218.92 452.50,218.37 453.00,217.18 453.50,217.81 454.00,217.27 454.50,215.37 455.00,214.31 455.50,214.05 456.00,214.69 456.50,215.78 457.00,216.05 457.50,213.78 458.00,212.08 458.50,210.52 459.00,208.37 459.50,207.74 460.00,205.85 460.50,203.92 461.00,202.47 461.50,200.70 462.00,204.22 462.50,208.94 463.00,212.95 463.50,216.21 464.00,219.10 464.50,220.52 465.00,219.75 465.50,218.47 466.00,218.40 466.50,216.62 467.00,215.64 467.50,214.68 468.00,214.29 468.50,213.92 469.00,213.90 469.50,214.77 470.00,215.88 470.50,216.19 471.00,216.41 471.50,218.82 472.00,217.58 472.50,217.35 473.00,217.39 473.50,216.98 474.00,217.38 474.50,217.91 475.00,218.03 475.50,217.89 476.00,218.68 476.50,218.54 477.00,218.17 477.50,217.74 478.00,218.93 478.50,218.99 479.00,218.97 479.50,218.50 480.00,219.31 480.50,218.66 481.00,220.01 481.50,219.73 482.00,219.84 482.50,219.45 483.00,219.43 483.50,221.26 484.00,221.47 484.50,221.35 485.00,222.38 485.50,223.34 486.00,222.54 486.50,223.34 487.00,222.98 487.50,222.54 488.00,220.83 488.50,220.53 489.00,218.91 489.50,218.99 490.00,218.02 490.50,216.54 491.00,216.06 491.50,214.06 492.00,212.98 492.50,212.29 493.00,210.49 493.50,209.42 494.00,207.48 494.50,208.20 495.00,209.87 495.50,210.79 496.00,212.04 496.50,213.93 497.00,216.69 497.50,218.37 498.00,219.47 498.50,221.48 499.00,220.67 499.50,218.86 500.00,217.44 500.50,216.85 501.00,216.02 501.50,214.67 502.00,212.34 502.50,211.82 503.00,211.85 503.50,212.01 504.00,212.14 504.50,212.97 505.00,212.88 505.50,212.12 506.00,210.37 506.50,209.24 507.00,206.66 507.50,205.77 508.00,204.66 508.50,202.99 509.00,202.07 509.50,203.24 510.00,206.06 510.50,207.42 511.00,208.73 511.50,208.88 512.00,211.33 512.50,213.36 513.00,213.75 513.50,213.88 514.00,215.87 514.50,216.75 515.00,216.75 515.50,217.94 516.00,218.66 516.50,220.08 517.00,219.65 517.50,220.57 518.00,221.63 518.50,220.67 519.00,221.17 519.50,218.91 520.00,218.44 520.50,217.22 521.00,216.20 521.50,215.89 522.00,215.74 522.50,213.84 523.00,213.57 523.50,212.52 524.00,211.82 524.50,211.20 525.00,212.25 525.50,210.49 526.00,211.03 526.50,210.64 527.00,210.24 527.50,211.29 528.00,212.27 528.50,211.85 529.00,212.05 529.50,212.94 530.00,213.90 530.50,216.22 531.00,216.27 531.50,218.47 532.00,218.80 532.50,220.26 533.00,221.61 533.50,222.74 534.00,222.95 534.50,222.11 535.00,221.78 535.50,220.06 536.00,218.22 536.50,217.27 537.00,216.73 537.50,216.24 538.00,216.14 538.50,214.25 539.00,214.21 539.50,213.41 540.00,212.71 540.50,211.71 541.00,211.49 541.50,211.04 542.00,211.28 542.50,210.65 543.00,209.01 543.50,209.95 544.00,209.76 544.50,209.09 545.00,208.73 545.50,209.45 546.00,208.98 546.50,208.41 547.00,208.74 547.50,208.81 548.00,208.08 548.50,209.22 549.00,208.83 549.50,209.14 550.00,208.11 550.50,209.56 551.00,208.59 551.50,208.21 552.00,207.29 552.50,207.00 553.00,206.29 553.50,207.50 554.00,205.99 554.50,208.80 555.00,211.91 555.50,214.21 556.00,217.88 556.50,218.47 557.00,217.59 557.50,218.17 558.00,217.74 558.50,217.21 559.00,217.25 559.50,216.59 560.00,217.51 560.50,218.19 561.00,217.79 561.50,217.88 562.00,218.03 562.50,217.18 563.00,217.74 563.50,218.42 564.00,217.05 564.50,217.77 565.00,217.83 565.50,218.26 566.00,218.30 566.50,218.91 567.00,218.60 567.50,219.32 568.00,219.64 568.50,219.94 569.00,221.20 569.50,220.84 570.00,221.19 570.50,221.26 571.00,222.37 571.50,220.59 572.00,221.13 572.50,221.56 573.00,221.57 573.50,220.60 574.00,220.25 574.50,220.33 575.00,219.67 575.50,219.80 576.00,218.95 576.50,219.36 577.00,218.77 577.50,218.00 578.00,216.94 578.50,217.49 579.00,215.94 579.50,214.85 580.00,212.74 580.50,210.65 581.00,207.23 581.50,203.91 582.00,202.98 582.50,204.03 583.00,204.85 583.50,207.61 584.00,209.20 584.50,210.60 585.00,212.24 585.50,214.34 586.00,217.07 586.50,217.28 587.00,217.24 587.50,217.98 588.00,218.91 588.50,219.94 589.00,219.77 589.50,221.00 590.00,221.91 590.50,222.33 591.00,221.79 591.50,222.35 592.00,221.34 592.50,221.65 593.00,220.40 593.50,220.66 594.00,219.91 594.50,218.03 595.00,218.38 595.50,218.50 596.00,217.76 596.50,216.74 597.00,215.05 597.50,214.68 598.00,214.09 598.50,212.10 599.00,210.71 599.50,209.54 600.00,208.24 600.50,208.06 601.00,207.13 601.50,207.43 602.00,204.85 602.50,199.10 603.00,194.46 603.50,188.59 604.00,182.51 604.50,175.55" fill="none" stroke="#ff0000" stroke-width="0.8" stroke-opacity="0.7" stroke-linejoin="round"/>
<line x1="246.0" y1="740.5" x2="257.5" y2="740.5" stroke="#b04040" stroke-width="1.0"/>
<line x1="246.0" y1="729.5" x2="246.0" y2="734.5" stroke="#3030a0" stroke-width="1.2"/>
<line x1="246.0" y1="734.0" x2="246.0" y2="737.5" stroke="#b03030" stroke-width="1.2"/>
<g style="opacity:0.995"><text x="51.4" y="236.772" font-family='"Liberation Serif", serif' font-size="8.4" text-anchor="end" fill="#1a1a1a" textLength="3.57" lengthAdjust="spacingAndGlyphs">0</text>
<text x="51.4" y="202.052" font-family='"Liberation Serif", serif' font-size="8.4" text-anchor="end" fill="#1a1a1a" textLength="8.92" lengthAdjust="spacingAndGlyphs">0.1</text>
<text x="51.4" y="167.332" font-family='"Liberation Serif", serif' font-size="8.4" text-anchor="end" fill="#1a1a1a" textLength="8.92" lengthAdjust="spacingAndGlyphs">0.2</text>
<text x="51.4" y="132.61199999999997" font-family='"Liberation Serif", serif' font-size="8.4" text-anchor="end" fill="#1a1a1a" textLength="8.92" lengthAdjust="spacingAndGlyphs">0.3</text>
<text x="51.4" y="97.89200000000001" font-family='"Liberation Serif", serif' font-size="8.4" text-anchor="end" fill="#1a1a1a" textLength="8.92" lengthAdjust="spacingAndGlyphs">0.4</text>
<text x="51.4" y="63.172000000000004" font-family='"Liberation Serif", serif' font-size="8.4" text-anchor="end" fill="#1a1a1a" textLength="8.92" lengthAdjust="spacingAndGlyphs">0.5</text>
<text x="53.4" y="242.0" font-family='"Liberation Serif", serif' font-size="8.4" text-anchor="middle" fill="#1a1a1a" textLength="3.57" lengthAdjust="spacingAndGlyphs">0</text>
<text x="102.92" y="242.0" font-family='"Liberation Serif", serif' font-size="8.4" text-anchor="middle" fill="#1a1a1a" textLength="7.14" lengthAdjust="spacingAndGlyphs">20</text>
<text x="152.44" y="242.0" font-family='"Liberation Serif", serif' font-size="8.4" text-anchor="middle" fill="#1a1a1a" textLength="7.14" lengthAdjust="spacingAndGlyphs">40</text>
<text x="201.96" y="242.0" font-family='"Liberation Serif", serif' font-size="8.4" text-anchor="middle" fill="#1a1a1a" textLength="7.14" lengthAdjust="spacingAndGlyphs">60</text>
<text x="251.48000000000002" y="242.0" font-family='"Liberation Serif", serif' font-size="8.4" text-anchor="middle" fill="#1a1a1a" textLength="7.14" lengthAdjust="spacingAndGlyphs">80</text>
<text x="301.0" y="242.0" font-family='"Liberation Serif", serif' font-size="8.4" text-anchor="middle" fill="#1a1a1a" textLength="10.71" lengthAdjust="spacingAndGlyphs">100</text>
<text x="36.7" y="147" font-family='"Liberation Sans", sans-serif' font-size="9.7" text-anchor="middle" fill="#222" transform="rotate(-90 36.7 147)" textLength="40.6" lengthAdjust="spacingAndGlyphs">RMSD (Å)</text>
<text x="175.55" y="254.6" font-family='"Liberation Sans", sans-serif' font-size="10" text-anchor="middle" fill="#222" textLength="38.3" lengthAdjust="spacingAndGlyphs">Time (ns)</text>
<text x="176.6" y="281" font-family='"Liberation Sans", sans-serif' font-size="10" text-anchor="middle" fill="#222" textLength="11.7" lengthAdjust="spacingAndGlyphs">(a)</text>
<text x="382.2" y="232.97199999999998" font-family='"Liberation Serif", serif' font-size="8.4" text-anchor="end" fill="#1a1a1a" textLength="3.57" lengthAdjust="spacingAndGlyphs">0</text>
<text x="382.2" y="190.32199999999997" font-family='"Liberation Serif", serif' font-size="8.4" text-anchor="end" fill="#1a1a1a" textLength="8.92" lengthAdjust="spacingAndGlyphs">0.5</text>
<text x="382.2" y="147.67199999999997" font-family='"Liberation Serif", serif' font-size="8.4" text-anchor="end" fill="#1a1a1a" textLength="3.57" lengthAdjust="spacingAndGlyphs">1</text>
<text x="382.2" y="105.022" font-family='"Liberation Serif", serif' font-size="8.4" text-anchor="end" fill="#1a1a1a" textLength="8.92" lengthAdjust="spacingAndGlyphs">1.5</text>
<text x="382.2" y="62.37199999999999" font-family='"Liberation Serif", serif' font-size="8.4" text-anchor="end" fill="#1a1a1a" textLength="3.57" lengthAdjust="spacingAndGlyphs">2</text>
<text x="384.2" y="238.2" font-family='"Liberation Serif", serif' font-size="8.4" text-anchor="middle" fill="#1a1a1a" textLength="3.57" lengthAdjust="spacingAndGlyphs">0</text>
<text x="433.6" y="238.2" font-family='"Liberation Serif", serif' font-size="8.4" text-anchor="middle" fill="#1a1a1a" textLength="10.71" lengthAdjust="spacingAndGlyphs">100</text>
<text x="483.0" y="238.2" font-family='"Liberation Serif", serif' font-size="8.4" text-anchor="middle" fill="#1a1a1a" textLength="10.71" lengthAdjust="spacingAndGlyphs">200</text>
<text x="532.4" y="238.2" font-family='"Liberation Serif", serif' font-size="8.4" text-anchor="middle" fill="#1a1a1a" textLength="10.71" lengthAdjust="spacingAndGlyphs">300</text>
<text x="581.8000000000001" y="238.2" font-family='"Liberation Serif", serif' font-size="8.4" text-anchor="middle" fill="#1a1a1a" textLength="10.71" lengthAdjust="spacingAndGlyphs">400</text>
<text x="631.2" y="238.2" font-family='"Liberation Serif", serif' font-size="8.4" text-anchor="middle" fill="#1a1a1a" textLength="10.71" lengthAdjust="spacingAndGlyphs">500</text>
<text x="373" y="147.5" font-family='"Liberation Sans", sans-serif' font-size="10" text-anchor="middle" fill="#222" transform="rotate(-90 373 147.5)" textLength="44.9" lengthAdjust="spacingAndGlyphs">RMSF (nm)</text>
<text x="512.8" y="248.9" font-family='"Liberation Sans", sans-serif' font-size="10" text-anchor="middle" fill="#222" textLength="73.2" lengthAdjust="spacingAndGlyphs">Residues Position</text>
<text x="507.9" y="281" font-family='"Liberation Sans", sans-serif' font-size="10" text-anchor="middle" fill="#222" textLength="11.4" lengthAdjust="spacingAndGlyphs">(b)</text>
<text x="54.6" y="494.272" font-family='"Liberation Serif", serif' font-size="8.4" text-anchor="end" fill="#1a1a1a" textLength="8.92" lengthAdjust="spacingAndGlyphs">2.8</text>
<text x="54.6" y="449.34699999999975" font-family='"Liberation Serif", serif' font-size="8.4" text-anchor="end" fill="#1a1a1a" textLength="12.5" lengthAdjust="spacingAndGlyphs">2.85</text>
<text x="54.6" y="404.4219999999999" font-family='"Liberation Serif", serif' font-size="8.4" text-anchor="end" fill="#1a1a1a" textLength="8.92" lengthAdjust="spacingAndGlyphs">2.9</text>
<text x="54.6" y="359.4969999999997" font-family='"Liberation Serif", serif' font-size="8.4" text-anchor="end" fill="#1a1a1a" textLength="12.5" lengthAdjust="spacingAndGlyphs">2.95</text>
<text x="56.6" y="499.5" font-family='"Liberation Serif", serif' font-size="8.4" text-anchor="middle" fill="#1a1a1a" textLength="3.57" lengthAdjust="spacingAndGlyphs">0</text>
<text x="108.94" y="499.5" font-family='"Liberation Serif", serif' font-size="8.4" text-anchor="middle" fill="#1a1a1a" textLength="17.85" lengthAdjust="spacingAndGlyphs">20000</text>
<text x="161.28" y="499.5" font-family='"Liberation Serif", serif' font-size="8.4" text-anchor="middle" fill="#1a1a1a" textLength="17.85" lengthAdjust="spacingAndGlyphs">40000</text>
<text x="213.61999999999998" y="499.5" font-family='"Liberation Serif", serif' font-size="8.4" text-anchor="middle" fill="#1a1a1a" textLength="17.85" lengthAdjust="spacingAndGlyphs">60000</text>
<text x="265.96000000000004" y="499.5" font-family='"Liberation Serif", serif' font-size="8.4" text-anchor="middle" fill="#1a1a1a" textLength="17.85" lengthAdjust="spacingAndGlyphs">80000</text>
<text x="318.3" y="499.5" font-family='"Liberation Serif", serif' font-size="8.4" text-anchor="middle" fill="#1a1a1a" textLength="17.91" lengthAdjust="spacingAndGlyphs">1e+05</text>
<text x="37.2" y="405.4" font-family='"Liberation Sans", sans-serif' font-size="11" text-anchor="middle" fill="#222" transform="rotate(-90 37.2 405.4)" textLength="31.3" lengthAdjust="spacingAndGlyphs">Rg(nm)</text>
<text x="185" y="512" font-family='"Liberation Sans", sans-serif' font-size="10" text-anchor="middle" fill="#222" textLength="39.8" lengthAdjust="spacingAndGlyphs">Time (ps)</text>
<text x="183.9" y="533.1" font-family='"Liberation Sans", sans-serif' font-size="10" text-anchor="middle" fill="#222" textLength="10.8" lengthAdjust="spacingAndGlyphs">(c)</text>
<text x="385.8" y="487.772" font-family='"Liberation Serif", serif' font-size="8.4" text-anchor="end" fill="#1a1a1a" textLength="10.71" lengthAdjust="spacingAndGlyphs">220</text>
<text x="385.8" y="447.647" font-family='"Liberation Serif", serif' font-size="8.4" text-anchor="end" fill="#1a1a1a" textLength="10.71" lengthAdjust="spacingAndGlyphs">230</text>
<text x="385.8" y="407.522" font-family='"Liberation Serif", serif' font-size="8.4" text-anchor="end" fill="#1a1a1a" textLength="10.71" lengthAdjust="spacingAndGlyphs">240</text>
<text x="385.8" y="367.397" font-family='"Liberation Serif", serif' font-size="8.4" text-anchor="end" fill="#1a1a1a" textLength="10.71" lengthAdjust="spacingAndGlyphs">250</text>
<text x="385.8" y="327.272" font-family='"Liberation Serif", serif' font-size="8.4" text-anchor="end" fill="#1a1a1a" textLength="10.71" lengthAdjust="spacingAndGlyphs">260</text>
<text x="387.8" y="493.0" font-family='"Liberation Serif", serif' font-size="8.16" text-anchor="middle" fill="#1a1a1a" textLength="3.47" lengthAdjust="spacingAndGlyphs">0</text>
<text x="435.92" y="493.0" font-family='"Liberation Serif", serif' font-size="8.16" text-anchor="middle" fill="#1a1a1a" textLength="17.34" lengthAdjust="spacingAndGlyphs">20000</text>
<text x="484.04" y="493.0" font-family='"Liberation Serif", serif' font-size="8.16" text-anchor="middle" fill="#1a1a1a" textLength="17.34" lengthAdjust="spacingAndGlyphs">40000</text>
<text x="532.16" y="493.0" font-family='"Liberation Serif", serif' font-size="8.16" text-anchor="middle" fill="#1a1a1a" textLength="17.34" lengthAdjust="spacingAndGlyphs">60000</text>
<text x="580.28" y="493.0" font-family='"Liberation Serif", serif' font-size="8.16" text-anchor="middle" fill="#1a1a1a" textLength="17.34" lengthAdjust="spacingAndGlyphs">80000</text>
<text x="628.4" y="493.0" font-family='"Liberation Serif", serif' font-size="8.16" text-anchor="middle" fill="#1a1a1a" textLength="17.39" lengthAdjust="spacingAndGlyphs">1e+05</text>
<text x="372.1" y="400" font-family='"Liberation Sans", sans-serif' font-size="10.2" text-anchor="middle" fill="#222" transform="rotate(-90 372.1 400)" textLength="37.9" lengthAdjust="spacingAndGlyphs">Area (nm)</text>
<text x="508.65" y="502.8" font-family='"Liberation Sans", sans-serif' font-size="9.6" text-anchor="middle" fill="#222" textLength="36.9" lengthAdjust="spacingAndGlyphs">Time (ps)</text>
<text x="508.1" y="533.1" font-family='"Liberation Sans", sans-serif' font-size="10" text-anchor="middle" fill="#222" textLength="11.8" lengthAdjust="spacingAndGlyphs">(d)</text>
<text x="244.0" y="742.7968" font-family='"Liberation Serif", serif' font-size="6.96" text-anchor="end" fill="#555" textLength="2.96" lengthAdjust="spacingAndGlyphs">0</text>
<text x="244.0" y="701.8217999999999" font-family='"Liberation Serif", serif' font-size="6.96" text-anchor="end" fill="#555" textLength="2.96" lengthAdjust="spacingAndGlyphs">5</text>
<text x="244.0" y="660.8467999999999" font-family='"Liberation Serif", serif' font-size="6.96" text-anchor="end" fill="#555" textLength="5.92" lengthAdjust="spacingAndGlyphs">10</text>
<text x="244.0" y="619.8718" font-family='"Liberation Serif", serif' font-size="6.96" text-anchor="end" fill="#555" textLength="5.92" lengthAdjust="spacingAndGlyphs">15</text>
<text x="244.0" y="578.8968" font-family='"Liberation Serif", serif' font-size="6.96" text-anchor="end" fill="#555" textLength="5.92" lengthAdjust="spacingAndGlyphs">20</text>
<text x="246.0" y="748.2" font-family='"Liberation Serif", serif' font-size="7.68" text-anchor="middle" fill="#1a1a1a" textLength="3.26" lengthAdjust="spacingAndGlyphs">0</text>
<text x="292.72" y="748.2" font-family='"Liberation Serif", serif' font-size="7.68" text-anchor="middle" fill="#1a1a1a" textLength="13.06" lengthAdjust="spacingAndGlyphs">1000</text>
<text x="339.44" y="748.2" font-family='"Liberation Serif", serif' font-size="7.68" text-anchor="middle" fill="#1a1a1a" textLength="13.06" lengthAdjust="spacingAndGlyphs">2000</text>
<text x="386.15999999999997" y="748.2" font-family='"Liberation Serif", serif' font-size="7.68" text-anchor="middle" fill="#1a1a1a" textLength="13.06" lengthAdjust="spacingAndGlyphs">3000</text>
<text x="432.88" y="748.2" font-family='"Liberation Serif", serif' font-size="7.68" text-anchor="middle" fill="#1a1a1a" textLength="13.06" lengthAdjust="spacingAndGlyphs">4000</text>
<text x="479.6" y="748.2" font-family='"Liberation Serif", serif' font-size="7.68" text-anchor="middle" fill="#1a1a1a" textLength="13.06" lengthAdjust="spacingAndGlyphs">5000</text>
<text x="233.2" y="658.3" font-family='"Liberation Sans", sans-serif' font-size="8.8" text-anchor="middle" fill="#222" transform="rotate(-90 233.2 658.3)" textLength="17.9" lengthAdjust="spacingAndGlyphs">(nm)</text>
<text x="368.1" y="758.6" font-family='"Liberation Sans", sans-serif' font-size="9" text-anchor="middle" fill="#222" textLength="71.4" lengthAdjust="spacingAndGlyphs">Eigenvector index</text>
<text x="353.6" y="787.9" font-family='"Liberation Sans", sans-serif' font-size="10" text-anchor="middle" fill="#222" textLength="11.4" lengthAdjust="spacingAndGlyphs">(e)</text></g>
</svg>
</body></html>
